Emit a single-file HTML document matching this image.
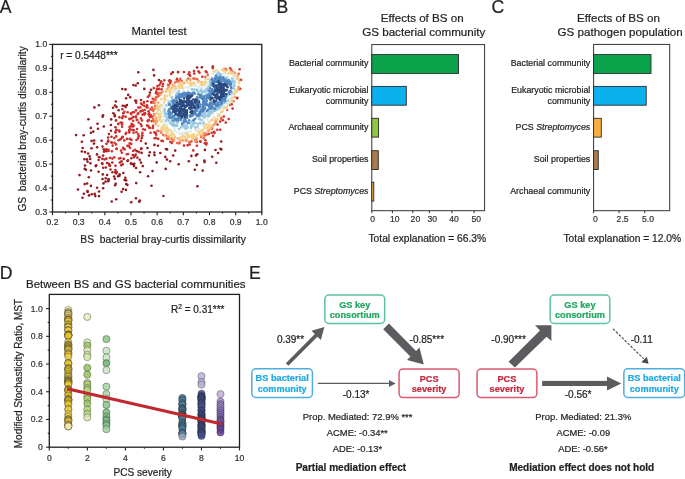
<!DOCTYPE html>
<html><head><meta charset="utf-8"><style>
html,body{margin:0;padding:0;background:#fff;overflow:hidden;}
svg{display:block;will-change:transform;}
text{font-family:"Liberation Sans", sans-serif;stroke-width:0.22px;}
</style></head><body>
<svg width="685" height="479" viewBox="0 0 685 479">
<rect width="685" height="479" fill="#fff"/>
<text x="-0.20" y="12.70" font-size="17.6" text-anchor="start" fill="#231F20" stroke="#231F20">A</text>
<text x="276.40" y="12.70" font-size="17.6" text-anchor="start" fill="#231F20" stroke="#231F20">B</text>
<text x="491.50" y="12.90" font-size="17.6" text-anchor="start" fill="#231F20" stroke="#231F20">C</text>
<text x="-0.30" y="278.60" font-size="17.6" text-anchor="start" fill="#231F20" stroke="#231F20">D</text>
<text x="248.90" y="278.80" font-size="17.6" text-anchor="start" fill="#231F20" stroke="#231F20">E</text>
<g>
<circle cx="103.1" cy="188.2" r="1.3" fill="#8F1B20"/>
<circle cx="197.4" cy="186.2" r="1.3" fill="#8F1B20"/>
<circle cx="154.4" cy="152.5" r="1.3" fill="#8F1B20"/>
<circle cx="94.7" cy="193.9" r="1.3" fill="#8F1B20"/>
<circle cx="76.1" cy="135.1" r="1.3" fill="#8F1B20"/>
<circle cx="133.0" cy="164.1" r="1.3" fill="#8F1B20"/>
<circle cx="108.6" cy="179.3" r="1.3" fill="#8F1B20"/>
<circle cx="114.8" cy="115.0" r="1.3" fill="#8F1B20"/>
<circle cx="83.9" cy="193.7" r="1.3" fill="#8F1B20"/>
<circle cx="154.5" cy="144.9" r="1.3" fill="#8F1B20"/>
<circle cx="153.4" cy="69.9" r="1.3" fill="#8F1B20"/>
<circle cx="97.1" cy="187.8" r="1.3" fill="#8F1B20"/>
<circle cx="85.0" cy="152.1" r="1.3" fill="#8F1B20"/>
<circle cx="170.2" cy="161.3" r="1.3" fill="#8F1B20"/>
<circle cx="119.6" cy="174.3" r="1.3" fill="#8F1B20"/>
<circle cx="141.0" cy="162.6" r="1.3" fill="#8F1B20"/>
<circle cx="204.9" cy="149.9" r="1.3" fill="#8F1B20"/>
<circle cx="87.6" cy="161.8" r="1.3" fill="#8F1B20"/>
<circle cx="136.2" cy="183.1" r="1.3" fill="#8F1B20"/>
<circle cx="87.1" cy="183.5" r="1.3" fill="#8F1B20"/>
<circle cx="113.4" cy="113.3" r="1.3" fill="#8F1B20"/>
<circle cx="99.0" cy="196.1" r="1.3" fill="#8F1B20"/>
<circle cx="97.1" cy="147.2" r="1.3" fill="#8F1B20"/>
<circle cx="94.4" cy="107.4" r="1.3" fill="#8F1B20"/>
<circle cx="154.5" cy="155.1" r="1.3" fill="#8F1B20"/>
<circle cx="133.4" cy="85.1" r="1.3" fill="#8F1B20"/>
<circle cx="89.0" cy="195.4" r="1.3" fill="#8F1B20"/>
<circle cx="149.0" cy="155.6" r="1.3" fill="#8F1B20"/>
<circle cx="115.8" cy="101.5" r="1.3" fill="#8F1B20"/>
<circle cx="126.2" cy="184.0" r="1.3" fill="#8F1B20"/>
<circle cx="98.0" cy="128.7" r="1.3" fill="#8F1B20"/>
<circle cx="141.6" cy="152.9" r="1.3" fill="#8F1B20"/>
<circle cx="94.0" cy="143.6" r="1.3" fill="#8F1B20"/>
<circle cx="201.9" cy="67.3" r="1.3" fill="#8F1B20"/>
<circle cx="212.2" cy="156.7" r="1.3" fill="#8F1B20"/>
<circle cx="115.7" cy="183.7" r="1.3" fill="#8F1B20"/>
<circle cx="204.5" cy="162.1" r="1.3" fill="#8F1B20"/>
<circle cx="105.6" cy="181.6" r="1.3" fill="#8F1B20"/>
<circle cx="115.1" cy="105.5" r="1.3" fill="#8F1B20"/>
<circle cx="134.0" cy="166.1" r="1.3" fill="#8F1B20"/>
<circle cx="139.8" cy="200.5" r="1.3" fill="#8F1B20"/>
<circle cx="148.1" cy="176.3" r="1.3" fill="#8F1B20"/>
<circle cx="96.2" cy="165.3" r="1.3" fill="#8F1B20"/>
<circle cx="154.1" cy="75.4" r="1.3" fill="#8F1B20"/>
<circle cx="216.3" cy="162.7" r="1.3" fill="#8F1B20"/>
<circle cx="118.1" cy="176.2" r="1.3" fill="#8F1B20"/>
<circle cx="165.3" cy="156.9" r="1.3" fill="#8F1B20"/>
<circle cx="111.2" cy="119.4" r="1.3" fill="#8F1B20"/>
<circle cx="81.8" cy="151.5" r="1.3" fill="#8F1B20"/>
<circle cx="125.3" cy="177.7" r="1.3" fill="#8F1B20"/>
<circle cx="102.6" cy="116.7" r="1.3" fill="#8F1B20"/>
<circle cx="126.1" cy="180.4" r="1.3" fill="#8F1B20"/>
<circle cx="135.2" cy="100.7" r="1.3" fill="#8F1B20"/>
<circle cx="84.7" cy="168.8" r="1.3" fill="#8F1B20"/>
<circle cx="114.8" cy="116.3" r="1.3" fill="#8F1B20"/>
<circle cx="221.2" cy="141.5" r="1.3" fill="#8F1B20"/>
<circle cx="87.5" cy="191.1" r="1.3" fill="#8F1B20"/>
<circle cx="128.2" cy="94.9" r="1.3" fill="#8F1B20"/>
<circle cx="166.0" cy="149.0" r="1.3" fill="#8F1B20"/>
<circle cx="116.2" cy="199.2" r="1.3" fill="#8F1B20"/>
<circle cx="142.8" cy="166.1" r="1.3" fill="#8F1B20"/>
<circle cx="130.2" cy="97.2" r="1.3" fill="#8F1B20"/>
<circle cx="221.3" cy="149.4" r="1.3" fill="#8F1B20"/>
<circle cx="124.6" cy="180.0" r="1.3" fill="#8F1B20"/>
<circle cx="172.8" cy="72.2" r="1.3" fill="#8F1B20"/>
<circle cx="138.3" cy="72.2" r="1.3" fill="#8F1B20"/>
<circle cx="91.8" cy="194.3" r="1.3" fill="#8F1B20"/>
<circle cx="118.6" cy="110.3" r="1.3" fill="#8F1B20"/>
<circle cx="81.9" cy="141.7" r="1.3" fill="#8F1B20"/>
<circle cx="97.5" cy="123.8" r="1.3" fill="#8F1B20"/>
<circle cx="90.2" cy="159.0" r="1.3" fill="#8F1B20"/>
<circle cx="101.6" cy="140.8" r="1.3" fill="#8F1B20"/>
<circle cx="111.7" cy="201.5" r="1.3" fill="#8F1B20"/>
<circle cx="82.7" cy="148.0" r="1.3" fill="#8F1B20"/>
<circle cx="94.2" cy="140.5" r="1.3" fill="#8F1B20"/>
<circle cx="114.9" cy="178.8" r="1.3" fill="#8F1B20"/>
<circle cx="137.8" cy="83.3" r="1.3" fill="#8F1B20"/>
<circle cx="158.9" cy="80.0" r="1.3" fill="#8F1B20"/>
<circle cx="102.8" cy="174.4" r="1.3" fill="#8F1B20"/>
<circle cx="93.3" cy="131.6" r="1.3" fill="#8F1B20"/>
<circle cx="113.1" cy="107.7" r="1.3" fill="#8F1B20"/>
<circle cx="85.9" cy="169.8" r="1.3" fill="#8F1B20"/>
<circle cx="87.0" cy="159.4" r="1.3" fill="#8F1B20"/>
<circle cx="156.7" cy="162.4" r="1.3" fill="#8F1B20"/>
<circle cx="126.1" cy="98.3" r="1.3" fill="#8F1B20"/>
<circle cx="131.2" cy="202.3" r="1.3" fill="#8F1B20"/>
<circle cx="123.3" cy="173.0" r="1.3" fill="#8F1B20"/>
<circle cx="103.0" cy="115.4" r="1.3" fill="#8F1B20"/>
<circle cx="83.7" cy="135.3" r="1.3" fill="#8F1B20"/>
<circle cx="98.9" cy="105.2" r="1.3" fill="#8F1B20"/>
<circle cx="115.1" cy="185.2" r="1.3" fill="#8F1B20"/>
<circle cx="136.0" cy="198.3" r="1.3" fill="#8F1B20"/>
<circle cx="82.5" cy="197.8" r="1.3" fill="#8F1B20"/>
<circle cx="91.6" cy="140.9" r="1.3" fill="#8F1B20"/>
<circle cx="119.4" cy="175.8" r="1.3" fill="#8F1B20"/>
<circle cx="151.1" cy="89.8" r="1.3" fill="#8F1B20"/>
<circle cx="88.8" cy="177.3" r="1.3" fill="#8F1B20"/>
<circle cx="173.2" cy="155.5" r="1.3" fill="#8F1B20"/>
<circle cx="139.7" cy="159.7" r="1.3" fill="#8F1B20"/>
<circle cx="152.5" cy="171.1" r="1.3" fill="#8F1B20"/>
<circle cx="95.3" cy="196.1" r="1.3" fill="#8F1B20"/>
<circle cx="126.9" cy="105.0" r="1.3" fill="#8F1B20"/>
<circle cx="98.6" cy="171.7" r="1.3" fill="#8F1B20"/>
<circle cx="220.4" cy="148.7" r="1.3" fill="#8F1B20"/>
<circle cx="178.7" cy="164.3" r="1.3" fill="#8F1B20"/>
<circle cx="175.2" cy="150.6" r="1.3" fill="#8F1B20"/>
<circle cx="134.3" cy="163.7" r="1.3" fill="#8F1B20"/>
<circle cx="149.8" cy="152.3" r="1.3" fill="#8F1B20"/>
<circle cx="144.2" cy="80.0" r="1.3" fill="#8F1B20"/>
<circle cx="123.1" cy="189.1" r="1.3" fill="#8F1B20"/>
<circle cx="90.4" cy="163.2" r="1.3" fill="#8F1B20"/>
<circle cx="85.0" cy="165.5" r="1.3" fill="#8F1B20"/>
<circle cx="89.7" cy="156.4" r="1.3" fill="#8F1B20"/>
<circle cx="102.5" cy="179.0" r="1.3" fill="#8F1B20"/>
<circle cx="125.5" cy="89.4" r="1.3" fill="#8F1B20"/>
<circle cx="87.6" cy="192.0" r="1.3" fill="#8F1B20"/>
<circle cx="99.0" cy="191.5" r="1.3" fill="#8F1B20"/>
<circle cx="158.0" cy="145.7" r="1.3" fill="#8F1B20"/>
<circle cx="140.1" cy="172.3" r="1.3" fill="#8F1B20"/>
<circle cx="196.0" cy="155.4" r="1.3" fill="#8F1B20"/>
<circle cx="97.0" cy="154.4" r="1.3" fill="#8F1B20"/>
<circle cx="107.1" cy="175.0" r="1.3" fill="#8F1B20"/>
<circle cx="196.8" cy="165.1" r="1.3" fill="#8F1B20"/>
<circle cx="167.1" cy="149.4" r="1.3" fill="#8F1B20"/>
<circle cx="139.2" cy="201.8" r="1.3" fill="#8F1B20"/>
<circle cx="108.2" cy="181.3" r="1.3" fill="#8F1B20"/>
<circle cx="91.0" cy="132.7" r="1.3" fill="#8F1B20"/>
<circle cx="78.0" cy="189.5" r="1.3" fill="#8F1B20"/>
<circle cx="147.5" cy="148.0" r="1.3" fill="#8F1B20"/>
<circle cx="160.3" cy="153.0" r="1.3" fill="#8F1B20"/>
<circle cx="149.9" cy="92.6" r="1.3" fill="#8F1B20"/>
<circle cx="122.3" cy="89.0" r="1.3" fill="#8F1B20"/>
<circle cx="84.4" cy="159.3" r="1.3" fill="#8F1B20"/>
<circle cx="136.1" cy="168.0" r="1.3" fill="#8F1B20"/>
<circle cx="151.5" cy="185.7" r="1.3" fill="#8F1B20"/>
<circle cx="121.6" cy="191.8" r="1.3" fill="#8F1B20"/>
<circle cx="131.5" cy="163.9" r="1.3" fill="#8F1B20"/>
<circle cx="145.8" cy="143.6" r="1.3" fill="#8F1B20"/>
<circle cx="122.8" cy="105.8" r="1.3" fill="#8F1B20"/>
<circle cx="135.7" cy="85.5" r="1.3" fill="#8F1B20"/>
<circle cx="215.5" cy="150.0" r="1.3" fill="#8F1B20"/>
<circle cx="188.8" cy="161.2" r="1.3" fill="#8F1B20"/>
<circle cx="79.5" cy="175.1" r="1.3" fill="#8F1B20"/>
<circle cx="88.4" cy="119.3" r="1.3" fill="#8F1B20"/>
<circle cx="90.9" cy="185.9" r="1.3" fill="#8F1B20"/>
<circle cx="202.7" cy="170.6" r="1.3" fill="#8F1B20"/>
<circle cx="191.4" cy="155.9" r="1.3" fill="#8F1B20"/>
<circle cx="194.9" cy="169.8" r="1.3" fill="#8F1B20"/>
<circle cx="144.3" cy="88.9" r="1.3" fill="#8F1B20"/>
<circle cx="103.5" cy="183.4" r="1.3" fill="#8F1B20"/>
<circle cx="197.1" cy="67.5" r="1.3" fill="#8F1B20"/>
<circle cx="84.7" cy="184.1" r="1.3" fill="#8F1B20"/>
<circle cx="88.1" cy="153.5" r="1.3" fill="#8F1B20"/>
<circle cx="212.8" cy="66.5" r="1.3" fill="#8F1B20"/>
<circle cx="218.1" cy="153.0" r="1.3" fill="#8F1B20"/>
<circle cx="108.7" cy="179.7" r="1.3" fill="#8F1B20"/>
<circle cx="166.9" cy="159.6" r="1.3" fill="#8F1B20"/>
<circle cx="103.8" cy="126.5" r="1.3" fill="#8F1B20"/>
<circle cx="110.9" cy="125.0" r="1.3" fill="#8F1B20"/>
<circle cx="197.2" cy="154.2" r="1.3" fill="#8F1B20"/>
<circle cx="165.7" cy="168.9" r="1.3" fill="#8F1B20"/>
<circle cx="95.7" cy="166.1" r="1.3" fill="#8F1B20"/>
<circle cx="105.8" cy="178.2" r="1.3" fill="#8F1B20"/>
<circle cx="204.4" cy="160.6" r="1.3" fill="#8F1B20"/>
<circle cx="116.5" cy="107.0" r="1.3" fill="#8F1B20"/>
<circle cx="91.5" cy="148.3" r="1.3" fill="#8F1B20"/>
<circle cx="163.4" cy="196.0" r="1.3" fill="#8F1B20"/>
<circle cx="90.8" cy="127.9" r="1.3" fill="#8F1B20"/>
<circle cx="114.1" cy="176.5" r="1.3" fill="#8F1B20"/>
<circle cx="91.0" cy="170.5" r="1.3" fill="#8F1B20"/>
<circle cx="125.9" cy="189.9" r="1.3" fill="#8F1B20"/>
<circle cx="127.4" cy="184.9" r="1.3" fill="#8F1B20"/>
<circle cx="98.8" cy="157.1" r="1.3" fill="#B02427"/>
<circle cx="99.6" cy="157.3" r="1.3" fill="#B02427"/>
<circle cx="98.6" cy="160.0" r="1.3" fill="#B02427"/>
<circle cx="127.9" cy="160.3" r="1.3" fill="#B02427"/>
<circle cx="106.5" cy="149.2" r="1.3" fill="#B02427"/>
<circle cx="127.5" cy="161.0" r="1.3" fill="#B02427"/>
<circle cx="106.7" cy="151.2" r="1.3" fill="#B02427"/>
<circle cx="136.2" cy="100.7" r="1.3" fill="#B02427"/>
<circle cx="110.5" cy="169.5" r="1.3" fill="#B02427"/>
<circle cx="102.1" cy="163.3" r="1.3" fill="#B02427"/>
<circle cx="104.4" cy="159.5" r="1.3" fill="#B02427"/>
<circle cx="116.2" cy="173.4" r="1.3" fill="#B02427"/>
<circle cx="135.0" cy="155.8" r="1.3" fill="#B02427"/>
<circle cx="135.7" cy="154.6" r="1.3" fill="#B02427"/>
<circle cx="137.4" cy="151.3" r="1.3" fill="#B02427"/>
<circle cx="102.4" cy="163.9" r="1.3" fill="#B02427"/>
<circle cx="141.4" cy="148.2" r="1.3" fill="#B02427"/>
<circle cx="103.1" cy="155.6" r="1.3" fill="#B02427"/>
<circle cx="111.5" cy="136.8" r="1.3" fill="#B02427"/>
<circle cx="122.7" cy="164.2" r="1.3" fill="#B02427"/>
<circle cx="105.8" cy="167.5" r="1.3" fill="#B02427"/>
<circle cx="102.5" cy="146.6" r="1.3" fill="#B02427"/>
<circle cx="119.9" cy="162.5" r="1.3" fill="#B02427"/>
<circle cx="116.0" cy="120.4" r="1.3" fill="#B02427"/>
<circle cx="122.3" cy="109.2" r="1.3" fill="#B02427"/>
<circle cx="104.2" cy="149.7" r="1.3" fill="#B02427"/>
<circle cx="121.2" cy="165.2" r="1.3" fill="#B02427"/>
<circle cx="112.4" cy="172.3" r="1.3" fill="#B02427"/>
<circle cx="131.3" cy="158.2" r="1.3" fill="#B02427"/>
<circle cx="106.4" cy="158.6" r="1.3" fill="#B02427"/>
<circle cx="125.7" cy="107.1" r="1.3" fill="#B02427"/>
<circle cx="108.9" cy="134.1" r="1.3" fill="#B02427"/>
<circle cx="112.3" cy="162.5" r="1.3" fill="#B02427"/>
<circle cx="116.9" cy="172.0" r="1.3" fill="#B02427"/>
<circle cx="115.4" cy="170.1" r="1.3" fill="#B02427"/>
<circle cx="106.5" cy="143.8" r="1.3" fill="#B02427"/>
<circle cx="136.5" cy="151.0" r="1.3" fill="#B02427"/>
<circle cx="123.7" cy="158.9" r="1.3" fill="#B02427"/>
<circle cx="136.2" cy="102.7" r="1.3" fill="#B02427"/>
<circle cx="123.3" cy="113.2" r="1.3" fill="#B02427"/>
<circle cx="108.1" cy="141.6" r="1.3" fill="#B02427"/>
<circle cx="103.7" cy="149.3" r="1.3" fill="#B02427"/>
<circle cx="108.2" cy="140.5" r="1.3" fill="#B02427"/>
<circle cx="115.2" cy="172.2" r="1.3" fill="#B02427"/>
<circle cx="130.9" cy="163.4" r="1.3" fill="#B02427"/>
<circle cx="108.2" cy="137.5" r="1.3" fill="#B02427"/>
<circle cx="115.5" cy="127.2" r="1.3" fill="#B02427"/>
<circle cx="141.0" cy="100.0" r="1.3" fill="#B02427"/>
<circle cx="115.5" cy="165.8" r="1.3" fill="#B02427"/>
<circle cx="119.4" cy="117.3" r="1.3" fill="#B02427"/>
<circle cx="109.6" cy="165.5" r="1.3" fill="#B02427"/>
<circle cx="141.8" cy="137.9" r="1.3" fill="#B02427"/>
<circle cx="121.5" cy="161.4" r="1.3" fill="#B02427"/>
<circle cx="102.3" cy="158.7" r="1.3" fill="#B02427"/>
<circle cx="107.0" cy="163.0" r="1.3" fill="#B02427"/>
<circle cx="105.3" cy="150.9" r="1.3" fill="#B02427"/>
<circle cx="137.3" cy="157.6" r="1.3" fill="#B02427"/>
<circle cx="141.0" cy="149.0" r="1.3" fill="#B02427"/>
<circle cx="111.0" cy="130.7" r="1.3" fill="#B02427"/>
<circle cx="134.0" cy="157.2" r="1.3" fill="#B02427"/>
<circle cx="132.8" cy="155.0" r="1.3" fill="#B02427"/>
<circle cx="110.0" cy="165.8" r="1.3" fill="#B02427"/>
<circle cx="103.2" cy="167.8" r="1.3" fill="#B02427"/>
<circle cx="139.1" cy="152.1" r="1.3" fill="#B02427"/>
<circle cx="109.1" cy="163.9" r="1.3" fill="#B02427"/>
<circle cx="125.0" cy="106.0" r="1.3" fill="#B02427"/>
<circle cx="104.0" cy="151.6" r="1.3" fill="#B02427"/>
<circle cx="123.6" cy="149.1" r="1.3" fill="#D0302B"/>
<circle cx="144.7" cy="113.3" r="1.3" fill="#D0302B"/>
<circle cx="176.8" cy="79.8" r="1.3" fill="#D0302B"/>
<circle cx="177.1" cy="78.8" r="1.3" fill="#D0302B"/>
<circle cx="129.5" cy="118.7" r="1.3" fill="#D0302B"/>
<circle cx="137.3" cy="120.1" r="1.3" fill="#D0302B"/>
<circle cx="129.8" cy="119.2" r="1.3" fill="#D0302B"/>
<circle cx="131.6" cy="118.3" r="1.3" fill="#D0302B"/>
<circle cx="119.1" cy="130.6" r="1.3" fill="#D0302B"/>
<circle cx="196.9" cy="145.7" r="1.3" fill="#D0302B"/>
<circle cx="142.4" cy="110.6" r="1.3" fill="#D0302B"/>
<circle cx="120.6" cy="122.5" r="1.3" fill="#D0302B"/>
<circle cx="143.2" cy="129.2" r="1.3" fill="#D0302B"/>
<circle cx="135.9" cy="116.3" r="1.3" fill="#D0302B"/>
<circle cx="194.0" cy="71.1" r="1.3" fill="#D0302B"/>
<circle cx="160.6" cy="83.1" r="1.3" fill="#D0302B"/>
<circle cx="111.4" cy="142.2" r="1.3" fill="#D0302B"/>
<circle cx="204.7" cy="143.3" r="1.3" fill="#D0302B"/>
<circle cx="232.6" cy="108.6" r="1.3" fill="#D0302B"/>
<circle cx="144.4" cy="105.9" r="1.3" fill="#D0302B"/>
<circle cx="148.6" cy="114.2" r="1.3" fill="#D0302B"/>
<circle cx="134.9" cy="149.8" r="1.3" fill="#D0302B"/>
<circle cx="205.8" cy="71.3" r="1.3" fill="#D0302B"/>
<circle cx="179.4" cy="143.1" r="1.3" fill="#D0302B"/>
<circle cx="141.9" cy="120.4" r="1.3" fill="#D0302B"/>
<circle cx="116.5" cy="130.0" r="1.3" fill="#D0302B"/>
<circle cx="143.9" cy="102.0" r="1.3" fill="#D0302B"/>
<circle cx="144.4" cy="114.6" r="1.3" fill="#D0302B"/>
<circle cx="159.3" cy="88.9" r="1.3" fill="#D0302B"/>
<circle cx="142.5" cy="114.6" r="1.3" fill="#D0302B"/>
<circle cx="142.1" cy="135.5" r="1.3" fill="#D0302B"/>
<circle cx="129.4" cy="131.1" r="1.3" fill="#D0302B"/>
<circle cx="152.2" cy="116.6" r="1.3" fill="#D0302B"/>
<circle cx="140.5" cy="111.4" r="1.3" fill="#D0302B"/>
<circle cx="150.2" cy="128.0" r="1.3" fill="#D0302B"/>
<circle cx="133.1" cy="116.9" r="1.3" fill="#D0302B"/>
<circle cx="148.6" cy="120.6" r="1.3" fill="#D0302B"/>
<circle cx="240.3" cy="88.7" r="1.3" fill="#D0302B"/>
<circle cx="141.1" cy="140.9" r="1.3" fill="#D0302B"/>
<circle cx="136.4" cy="132.3" r="1.3" fill="#D0302B"/>
<circle cx="140.4" cy="107.4" r="1.3" fill="#D0302B"/>
<circle cx="189.6" cy="144.4" r="1.3" fill="#D0302B"/>
<circle cx="147.5" cy="107.5" r="1.3" fill="#D0302B"/>
<circle cx="127.5" cy="145.9" r="1.3" fill="#D0302B"/>
<circle cx="136.4" cy="140.0" r="1.3" fill="#D0302B"/>
<circle cx="129.8" cy="138.9" r="1.3" fill="#D0302B"/>
<circle cx="150.9" cy="115.9" r="1.3" fill="#D0302B"/>
<circle cx="214.5" cy="133.0" r="1.3" fill="#D0302B"/>
<circle cx="146.7" cy="107.2" r="1.3" fill="#D0302B"/>
<circle cx="133.2" cy="120.7" r="1.3" fill="#D0302B"/>
<circle cx="154.4" cy="132.2" r="1.3" fill="#D0302B"/>
<circle cx="133.1" cy="151.0" r="1.3" fill="#D0302B"/>
<circle cx="135.8" cy="117.2" r="1.3" fill="#D0302B"/>
<circle cx="131.5" cy="126.3" r="1.3" fill="#D0302B"/>
<circle cx="108.5" cy="149.9" r="1.3" fill="#D0302B"/>
<circle cx="184.0" cy="145.6" r="1.3" fill="#D0302B"/>
<circle cx="222.9" cy="120.2" r="1.3" fill="#D0302B"/>
<circle cx="120.6" cy="158.1" r="1.3" fill="#D0302B"/>
<circle cx="159.4" cy="85.1" r="1.3" fill="#D0302B"/>
<circle cx="206.7" cy="72.3" r="1.3" fill="#D0302B"/>
<circle cx="130.0" cy="147.7" r="1.3" fill="#D0302B"/>
<circle cx="137.1" cy="129.0" r="1.3" fill="#D0302B"/>
<circle cx="151.7" cy="121.1" r="1.3" fill="#D0302B"/>
<circle cx="150.8" cy="116.9" r="1.3" fill="#D0302B"/>
<circle cx="152.9" cy="127.9" r="1.3" fill="#D0302B"/>
<circle cx="127.6" cy="112.3" r="1.3" fill="#D0302B"/>
<circle cx="205.4" cy="140.3" r="1.3" fill="#D0302B"/>
<circle cx="169.9" cy="80.2" r="1.3" fill="#D0302B"/>
<circle cx="116.3" cy="129.9" r="1.3" fill="#D0302B"/>
<circle cx="148.2" cy="125.7" r="1.3" fill="#D0302B"/>
<circle cx="112.7" cy="145.6" r="1.3" fill="#D0302B"/>
<circle cx="116.2" cy="136.4" r="1.3" fill="#D0302B"/>
<circle cx="211.7" cy="132.7" r="1.3" fill="#D0302B"/>
<circle cx="140.8" cy="124.3" r="1.3" fill="#D0302B"/>
<circle cx="144.0" cy="102.7" r="1.3" fill="#D0302B"/>
<circle cx="200.1" cy="141.2" r="1.3" fill="#D0302B"/>
<circle cx="156.4" cy="92.1" r="1.3" fill="#D0302B"/>
<circle cx="118.5" cy="140.3" r="1.3" fill="#D0302B"/>
<circle cx="158.2" cy="138.9" r="1.3" fill="#D0302B"/>
<circle cx="128.9" cy="145.7" r="1.3" fill="#D0302B"/>
<circle cx="189.7" cy="74.9" r="1.3" fill="#D0302B"/>
<circle cx="193.2" cy="150.4" r="1.3" fill="#D0302B"/>
<circle cx="241.0" cy="79.9" r="1.3" fill="#D0302B"/>
<circle cx="138.4" cy="107.6" r="1.3" fill="#D0302B"/>
<circle cx="125.6" cy="134.0" r="1.3" fill="#D0302B"/>
<circle cx="122.2" cy="118.1" r="1.3" fill="#D0302B"/>
<circle cx="164.3" cy="80.3" r="1.3" fill="#D0302B"/>
<circle cx="161.1" cy="81.3" r="1.3" fill="#D0302B"/>
<circle cx="177.9" cy="72.1" r="1.3" fill="#D0302B"/>
<circle cx="152.1" cy="102.0" r="1.3" fill="#D0302B"/>
<circle cx="162.6" cy="86.3" r="1.3" fill="#D0302B"/>
<circle cx="133.6" cy="125.8" r="1.3" fill="#D0302B"/>
<circle cx="122.6" cy="136.8" r="1.3" fill="#D0302B"/>
<circle cx="110.0" cy="157.9" r="1.3" fill="#D0302B"/>
<circle cx="141.0" cy="103.6" r="1.3" fill="#D0302B"/>
<circle cx="178.3" cy="72.1" r="1.3" fill="#D0302B"/>
<circle cx="124.7" cy="149.2" r="1.3" fill="#D0302B"/>
<circle cx="133.9" cy="130.2" r="1.3" fill="#D0302B"/>
<circle cx="138.0" cy="138.4" r="1.3" fill="#D0302B"/>
<circle cx="198.5" cy="71.4" r="1.3" fill="#D0302B"/>
<circle cx="213.0" cy="135.9" r="1.3" fill="#D0302B"/>
<circle cx="230.2" cy="68.3" r="1.3" fill="#D0302B"/>
<circle cx="217.3" cy="129.8" r="1.3" fill="#D0302B"/>
<circle cx="147.1" cy="105.2" r="1.3" fill="#D0302B"/>
<circle cx="239.6" cy="69.2" r="1.3" fill="#D0302B"/>
<circle cx="151.3" cy="102.5" r="1.3" fill="#D0302B"/>
<circle cx="122.1" cy="126.7" r="1.3" fill="#D0302B"/>
<circle cx="124.3" cy="111.8" r="1.3" fill="#D0302B"/>
<circle cx="138.3" cy="113.2" r="1.3" fill="#D0302B"/>
<circle cx="167.1" cy="138.5" r="1.3" fill="#D0302B"/>
<circle cx="121.9" cy="152.7" r="1.3" fill="#D0302B"/>
<circle cx="156.9" cy="88.9" r="1.3" fill="#D0302B"/>
<circle cx="124.3" cy="140.4" r="1.3" fill="#D0302B"/>
<circle cx="123.2" cy="147.9" r="1.3" fill="#D0302B"/>
<circle cx="155.4" cy="133.1" r="1.3" fill="#D0302B"/>
<circle cx="220.2" cy="129.8" r="1.3" fill="#D0302B"/>
<circle cx="170.3" cy="141.8" r="1.3" fill="#D0302B"/>
<circle cx="148.7" cy="119.9" r="1.3" fill="#D0302B"/>
<circle cx="147.9" cy="96.9" r="1.3" fill="#D0302B"/>
<circle cx="116.1" cy="144.4" r="1.3" fill="#D0302B"/>
<circle cx="145.1" cy="113.4" r="1.3" fill="#D0302B"/>
<circle cx="144.5" cy="113.2" r="1.3" fill="#D0302B"/>
<circle cx="231.7" cy="104.3" r="1.3" fill="#D0302B"/>
<circle cx="140.9" cy="118.4" r="1.3" fill="#D0302B"/>
<circle cx="170.0" cy="83.1" r="1.3" fill="#D0302B"/>
<circle cx="208.9" cy="134.0" r="1.3" fill="#D0302B"/>
<circle cx="153.0" cy="125.8" r="1.3" fill="#D0302B"/>
<circle cx="119.0" cy="158.5" r="1.3" fill="#D0302B"/>
<circle cx="206.5" cy="143.0" r="1.3" fill="#D0302B"/>
<circle cx="163.0" cy="83.9" r="1.3" fill="#D0302B"/>
<circle cx="133.6" cy="132.7" r="1.3" fill="#D0302B"/>
<circle cx="171.8" cy="142.9" r="1.3" fill="#D0302B"/>
<circle cx="194.2" cy="73.6" r="1.3" fill="#D0302B"/>
<circle cx="123.3" cy="116.2" r="1.3" fill="#D0302B"/>
<circle cx="120.6" cy="139.0" r="1.3" fill="#D0302B"/>
<circle cx="189.3" cy="72.2" r="1.3" fill="#D0302B"/>
<circle cx="142.4" cy="132.9" r="1.3" fill="#D0302B"/>
<circle cx="149.5" cy="116.0" r="1.3" fill="#D0302B"/>
<circle cx="188.6" cy="74.2" r="1.3" fill="#D0302B"/>
<circle cx="196.8" cy="142.0" r="1.3" fill="#D0302B"/>
<circle cx="123.0" cy="116.2" r="1.3" fill="#D0302B"/>
<circle cx="116.8" cy="148.8" r="1.3" fill="#D0302B"/>
<circle cx="168.9" cy="80.8" r="1.3" fill="#D0302B"/>
<circle cx="223.8" cy="116.5" r="1.3" fill="#D0302B"/>
<circle cx="130.9" cy="113.3" r="1.3" fill="#D0302B"/>
<circle cx="115.5" cy="132.6" r="1.3" fill="#D0302B"/>
<circle cx="131.1" cy="114.1" r="1.3" fill="#D0302B"/>
<circle cx="132.3" cy="130.0" r="1.3" fill="#D0302B"/>
<circle cx="111.9" cy="151.3" r="1.3" fill="#D0302B"/>
<circle cx="237.3" cy="97.9" r="1.3" fill="#D0302B"/>
<circle cx="119.5" cy="131.6" r="1.3" fill="#D0302B"/>
<circle cx="130.1" cy="128.8" r="1.3" fill="#D0302B"/>
<circle cx="148.5" cy="111.2" r="1.3" fill="#D0302B"/>
<circle cx="157.4" cy="86.1" r="1.3" fill="#D0302B"/>
<circle cx="145.0" cy="129.8" r="1.3" fill="#D0302B"/>
<circle cx="150.4" cy="114.8" r="1.3" fill="#D0302B"/>
<circle cx="156.2" cy="134.8" r="1.3" fill="#D0302B"/>
<circle cx="122.7" cy="137.3" r="1.3" fill="#D0302B"/>
<circle cx="170.8" cy="81.4" r="1.3" fill="#D0302B"/>
<circle cx="134.0" cy="112.2" r="1.3" fill="#D0302B"/>
<circle cx="161.5" cy="140.7" r="1.3" fill="#D0302B"/>
<circle cx="154.8" cy="138.3" r="1.3" fill="#D0302B"/>
<circle cx="187.6" cy="145.3" r="1.3" fill="#D0302B"/>
<circle cx="138.3" cy="134.4" r="1.3" fill="#D0302B"/>
<circle cx="122.2" cy="122.7" r="1.3" fill="#D0302B"/>
<circle cx="114.6" cy="142.7" r="1.3" fill="#D0302B"/>
<circle cx="112.4" cy="158.6" r="1.3" fill="#D0302B"/>
<circle cx="127.0" cy="138.9" r="1.3" fill="#D0302B"/>
<circle cx="120.3" cy="139.5" r="1.3" fill="#D0302B"/>
<circle cx="138.8" cy="136.2" r="1.3" fill="#D0302B"/>
<circle cx="202.3" cy="76.8" r="1.3" fill="#D0302B"/>
<circle cx="158.8" cy="89.1" r="1.3" fill="#D0302B"/>
<circle cx="141.6" cy="126.1" r="1.3" fill="#D0302B"/>
<circle cx="206.4" cy="134.1" r="1.3" fill="#D0302B"/>
<circle cx="151.3" cy="102.2" r="1.3" fill="#D0302B"/>
<circle cx="149.1" cy="113.4" r="1.3" fill="#D0302B"/>
<circle cx="136.8" cy="119.7" r="1.3" fill="#D0302B"/>
<circle cx="111.9" cy="142.8" r="1.3" fill="#D0302B"/>
<circle cx="108.7" cy="150.8" r="1.3" fill="#D0302B"/>
<circle cx="155.9" cy="137.9" r="1.3" fill="#D0302B"/>
<circle cx="121.0" cy="150.6" r="1.3" fill="#D0302B"/>
<circle cx="153.8" cy="88.1" r="1.3" fill="#D0302B"/>
<circle cx="150.6" cy="109.3" r="1.3" fill="#D0302B"/>
<circle cx="206.2" cy="144.5" r="1.3" fill="#D0302B"/>
<circle cx="161.6" cy="89.4" r="1.3" fill="#D0302B"/>
<circle cx="129.8" cy="143.3" r="1.3" fill="#D0302B"/>
<circle cx="129.1" cy="130.1" r="1.3" fill="#D0302B"/>
<circle cx="144.7" cy="110.0" r="1.3" fill="#D0302B"/>
<circle cx="156.3" cy="91.5" r="1.3" fill="#D0302B"/>
<circle cx="115.4" cy="131.9" r="1.3" fill="#D0302B"/>
<circle cx="150.1" cy="116.9" r="1.3" fill="#D0302B"/>
<circle cx="132.9" cy="126.4" r="1.3" fill="#D0302B"/>
<circle cx="129.2" cy="132.5" r="1.3" fill="#D0302B"/>
<circle cx="116.5" cy="148.9" r="1.3" fill="#D0302B"/>
<circle cx="228.7" cy="119.0" r="1.3" fill="#D0302B"/>
<circle cx="217.5" cy="124.6" r="1.3" fill="#D0302B"/>
<circle cx="212.9" cy="67.5" r="1.3" fill="#D0302B"/>
<circle cx="128.1" cy="154.0" r="1.3" fill="#D0302B"/>
<circle cx="147.4" cy="101.3" r="1.3" fill="#D0302B"/>
<circle cx="152.7" cy="98.8" r="1.3" fill="#D0302B"/>
<circle cx="122.0" cy="137.6" r="1.3" fill="#D0302B"/>
<circle cx="129.6" cy="126.9" r="1.3" fill="#D0302B"/>
<circle cx="131.8" cy="123.9" r="1.3" fill="#D0302B"/>
<circle cx="155.5" cy="133.1" r="1.3" fill="#D0302B"/>
<circle cx="132.7" cy="124.5" r="1.3" fill="#D0302B"/>
<circle cx="114.3" cy="138.1" r="1.3" fill="#D0302B"/>
<circle cx="125.7" cy="116.7" r="1.3" fill="#D0302B"/>
<circle cx="126.8" cy="154.3" r="1.3" fill="#D0302B"/>
<circle cx="142.4" cy="104.7" r="1.3" fill="#D0302B"/>
<circle cx="126.2" cy="132.8" r="1.3" fill="#D0302B"/>
<circle cx="225.5" cy="69.0" r="1.3" fill="#D0302B"/>
<circle cx="131.7" cy="124.9" r="1.3" fill="#D0302B"/>
<circle cx="147.6" cy="121.1" r="1.3" fill="#D0302B"/>
<circle cx="200.6" cy="141.7" r="1.3" fill="#D0302B"/>
<circle cx="131.4" cy="139.9" r="1.3" fill="#D0302B"/>
<circle cx="137.7" cy="113.9" r="1.3" fill="#D0302B"/>
<circle cx="142.7" cy="110.8" r="1.3" fill="#D0302B"/>
<circle cx="199.5" cy="72.7" r="1.3" fill="#D0302B"/>
<circle cx="155.9" cy="93.1" r="1.3" fill="#D0302B"/>
<circle cx="138.7" cy="122.6" r="1.3" fill="#D0302B"/>
<circle cx="171.2" cy="73.9" r="1.3" fill="#D0302B"/>
<circle cx="163.0" cy="141.1" r="1.3" fill="#D0302B"/>
<circle cx="150.6" cy="132.8" r="1.3" fill="#D0302B"/>
<circle cx="118.3" cy="123.7" r="1.3" fill="#D0302B"/>
<circle cx="220.2" cy="121.5" r="1.3" fill="#D0302B"/>
<circle cx="114.3" cy="157.3" r="1.3" fill="#D0302B"/>
<circle cx="183.9" cy="72.0" r="1.3" fill="#D0302B"/>
<circle cx="157.5" cy="94.0" r="1.3" fill="#D0302B"/>
<circle cx="131.3" cy="143.9" r="1.3" fill="#D0302B"/>
<circle cx="225.8" cy="122.6" r="1.3" fill="#D0302B"/>
<circle cx="118.2" cy="124.1" r="1.3" fill="#D0302B"/>
<circle cx="149.4" cy="95.4" r="1.3" fill="#D0302B"/>
<circle cx="212.8" cy="68.1" r="1.3" fill="#D0302B"/>
<circle cx="149.0" cy="127.4" r="1.3" fill="#D0302B"/>
<circle cx="147.0" cy="125.5" r="1.3" fill="#D0302B"/>
<circle cx="135.9" cy="110.4" r="1.3" fill="#D0302B"/>
<circle cx="190.2" cy="75.7" r="1.3" fill="#D0302B"/>
<circle cx="132.8" cy="112.2" r="1.3" fill="#D0302B"/>
<circle cx="128.9" cy="146.1" r="1.3" fill="#D0302B"/>
<circle cx="214.0" cy="131.7" r="1.3" fill="#D0302B"/>
<circle cx="142.3" cy="135.5" r="1.3" fill="#D0302B"/>
<circle cx="122.0" cy="124.4" r="1.3" fill="#D0302B"/>
<circle cx="237.0" cy="98.3" r="1.3" fill="#D0302B"/>
<circle cx="179.6" cy="80.3" r="1.3" fill="#EC6545"/>
<circle cx="180.4" cy="78.8" r="1.3" fill="#EC6545"/>
<circle cx="195.6" cy="141.4" r="1.3" fill="#EC6545"/>
<circle cx="231.7" cy="70.8" r="1.3" fill="#EC6545"/>
<circle cx="193.3" cy="78.5" r="1.3" fill="#EC6545"/>
<circle cx="195.7" cy="139.3" r="1.3" fill="#EC6545"/>
<circle cx="233.5" cy="101.3" r="1.3" fill="#EC6545"/>
<circle cx="196.3" cy="141.2" r="1.3" fill="#EC6545"/>
<circle cx="221.3" cy="118.9" r="1.3" fill="#EC6545"/>
<circle cx="231.1" cy="71.3" r="1.3" fill="#EC6545"/>
<circle cx="155.9" cy="97.3" r="1.3" fill="#EC6545"/>
<circle cx="197.2" cy="79.2" r="1.3" fill="#EC6545"/>
<circle cx="161.4" cy="132.8" r="1.3" fill="#EC6545"/>
<circle cx="179.3" cy="80.7" r="1.3" fill="#EC6545"/>
<circle cx="204.5" cy="135.5" r="1.3" fill="#EC6545"/>
<circle cx="159.1" cy="95.4" r="1.3" fill="#EC6545"/>
<circle cx="215.8" cy="121.8" r="1.3" fill="#EC6545"/>
<circle cx="231.0" cy="69.7" r="1.3" fill="#EC6545"/>
<circle cx="207.7" cy="74.9" r="1.3" fill="#EC6545"/>
<circle cx="221.4" cy="117.7" r="1.3" fill="#EC6545"/>
<circle cx="153.2" cy="118.7" r="1.3" fill="#EC6545"/>
<circle cx="154.2" cy="100.4" r="1.3" fill="#EC6545"/>
<circle cx="169.0" cy="85.4" r="1.3" fill="#EC6545"/>
<circle cx="155.0" cy="105.8" r="1.3" fill="#EC6545"/>
<circle cx="153.5" cy="102.7" r="1.3" fill="#EC6545"/>
<circle cx="226.4" cy="69.9" r="1.3" fill="#EC6545"/>
<circle cx="201.2" cy="137.1" r="1.3" fill="#EC6545"/>
<circle cx="158.8" cy="93.2" r="1.3" fill="#EC6545"/>
<circle cx="154.1" cy="121.4" r="1.3" fill="#EC6545"/>
<circle cx="196.3" cy="141.4" r="1.3" fill="#EC6545"/>
<circle cx="238.7" cy="73.9" r="1.3" fill="#EC6545"/>
<circle cx="152.0" cy="107.3" r="1.3" fill="#EC6545"/>
<circle cx="203.7" cy="138.4" r="1.3" fill="#EC6545"/>
<circle cx="157.3" cy="96.9" r="1.3" fill="#EC6545"/>
<circle cx="175.0" cy="82.5" r="1.3" fill="#EC6545"/>
<circle cx="227.2" cy="110.0" r="1.3" fill="#EC6545"/>
<circle cx="179.5" cy="142.6" r="1.3" fill="#EC6545"/>
<circle cx="168.0" cy="84.9" r="1.3" fill="#EC6545"/>
<circle cx="162.4" cy="91.7" r="1.3" fill="#EC6545"/>
<circle cx="195.6" cy="140.0" r="1.3" fill="#EC6545"/>
<circle cx="154.6" cy="102.8" r="1.3" fill="#EC6545"/>
<circle cx="167.8" cy="138.6" r="1.3" fill="#EC6545"/>
<circle cx="207.4" cy="134.4" r="1.3" fill="#EC6545"/>
<circle cx="212.1" cy="128.9" r="1.3" fill="#EC6545"/>
<circle cx="168.1" cy="138.8" r="1.3" fill="#EC6545"/>
<circle cx="178.6" cy="143.3" r="1.3" fill="#EC6545"/>
<circle cx="177.5" cy="81.7" r="1.3" fill="#EC6545"/>
<circle cx="188.1" cy="78.6" r="1.3" fill="#EC6545"/>
<circle cx="191.2" cy="141.5" r="1.3" fill="#EC6545"/>
<circle cx="155.0" cy="99.4" r="1.3" fill="#EC6545"/>
<circle cx="168.0" cy="138.6" r="1.3" fill="#EC6545"/>
<circle cx="177.2" cy="81.3" r="1.3" fill="#EC6545"/>
<circle cx="230.0" cy="105.0" r="1.3" fill="#EC6545"/>
<circle cx="205.1" cy="135.4" r="1.3" fill="#EC6545"/>
<circle cx="172.1" cy="139.1" r="1.3" fill="#EC6545"/>
<circle cx="181.8" cy="80.9" r="1.3" fill="#EC6545"/>
<circle cx="154.1" cy="101.4" r="1.3" fill="#EC6545"/>
<circle cx="189.3" cy="142.4" r="1.3" fill="#EC6545"/>
<circle cx="196.6" cy="79.1" r="1.3" fill="#EC6545"/>
<circle cx="194.6" cy="78.6" r="1.3" fill="#EC6545"/>
<circle cx="205.3" cy="77.1" r="1.3" fill="#EC6545"/>
<circle cx="173.2" cy="141.1" r="1.3" fill="#EC6545"/>
<circle cx="163.2" cy="135.0" r="1.3" fill="#EC6545"/>
<circle cx="157.5" cy="130.8" r="1.3" fill="#EC6545"/>
<circle cx="166.0" cy="135.5" r="1.3" fill="#EC6545"/>
<circle cx="153.4" cy="110.4" r="1.3" fill="#EC6545"/>
<circle cx="177.2" cy="143.0" r="1.3" fill="#EC6545"/>
<circle cx="153.3" cy="120.6" r="1.3" fill="#EC6545"/>
<circle cx="158.7" cy="131.0" r="1.3" fill="#EC6545"/>
<circle cx="154.1" cy="114.1" r="1.3" fill="#EC6545"/>
<circle cx="158.0" cy="95.9" r="1.3" fill="#EC6545"/>
<circle cx="151.8" cy="109.8" r="1.3" fill="#EC6545"/>
<circle cx="153.1" cy="110.6" r="1.3" fill="#EC6545"/>
<circle cx="155.7" cy="99.6" r="1.3" fill="#EC6545"/>
<circle cx="161.0" cy="93.0" r="1.3" fill="#EC6545"/>
<circle cx="191.2" cy="141.4" r="1.3" fill="#EC6545"/>
<circle cx="159.3" cy="93.4" r="1.3" fill="#EC6545"/>
<circle cx="153.3" cy="109.1" r="1.3" fill="#EC6545"/>
<circle cx="239.2" cy="89.3" r="1.3" fill="#EC6545"/>
<circle cx="214.3" cy="124.8" r="1.3" fill="#F6A26A"/>
<circle cx="197.0" cy="138.6" r="1.3" fill="#F6A26A"/>
<circle cx="226.3" cy="70.2" r="1.3" fill="#F6A26A"/>
<circle cx="155.4" cy="121.3" r="1.3" fill="#F6A26A"/>
<circle cx="167.4" cy="89.0" r="1.3" fill="#F6A26A"/>
<circle cx="182.9" cy="140.4" r="1.3" fill="#F6A26A"/>
<circle cx="217.2" cy="119.5" r="1.3" fill="#F6A26A"/>
<circle cx="156.4" cy="108.8" r="1.3" fill="#F6A26A"/>
<circle cx="167.1" cy="89.8" r="1.3" fill="#F6A26A"/>
<circle cx="190.2" cy="80.1" r="1.3" fill="#F6A26A"/>
<circle cx="187.2" cy="140.7" r="1.3" fill="#F6A26A"/>
<circle cx="214.1" cy="124.7" r="1.3" fill="#F6A26A"/>
<circle cx="155.7" cy="122.0" r="1.3" fill="#F6A26A"/>
<circle cx="201.6" cy="135.4" r="1.3" fill="#F6A26A"/>
<circle cx="171.5" cy="138.0" r="1.3" fill="#F6A26A"/>
<circle cx="205.5" cy="132.7" r="1.3" fill="#F6A26A"/>
<circle cx="167.4" cy="136.2" r="1.3" fill="#F6A26A"/>
<circle cx="234.8" cy="96.9" r="1.3" fill="#F6A26A"/>
<circle cx="174.1" cy="139.8" r="1.3" fill="#F6A26A"/>
<circle cx="166.2" cy="91.4" r="1.3" fill="#F6A26A"/>
<circle cx="179.9" cy="139.1" r="1.3" fill="#F6A26A"/>
<circle cx="155.7" cy="124.1" r="1.3" fill="#F6A26A"/>
<circle cx="211.1" cy="128.2" r="1.3" fill="#F6A26A"/>
<circle cx="156.6" cy="121.9" r="1.3" fill="#F6A26A"/>
<circle cx="216.2" cy="123.2" r="1.3" fill="#F6A26A"/>
<circle cx="157.1" cy="120.9" r="1.3" fill="#F6A26A"/>
<circle cx="189.9" cy="79.3" r="1.3" fill="#F6A26A"/>
<circle cx="179.6" cy="139.5" r="1.3" fill="#F6A26A"/>
<circle cx="160.7" cy="131.2" r="1.3" fill="#F6A26A"/>
<circle cx="237.0" cy="90.7" r="1.3" fill="#F6A26A"/>
<circle cx="163.1" cy="129.7" r="1.3" fill="#F6A26A"/>
<circle cx="201.2" cy="135.3" r="1.3" fill="#F6A26A"/>
<circle cx="237.5" cy="78.7" r="1.3" fill="#F6A26A"/>
<circle cx="156.4" cy="113.7" r="1.3" fill="#F6A26A"/>
<circle cx="154.1" cy="116.1" r="1.3" fill="#F6A26A"/>
<circle cx="238.8" cy="87.2" r="1.3" fill="#F6A26A"/>
<circle cx="186.7" cy="80.4" r="1.3" fill="#F6A26A"/>
<circle cx="155.7" cy="120.4" r="1.3" fill="#F6A26A"/>
<circle cx="170.1" cy="138.7" r="1.3" fill="#F6A26A"/>
<circle cx="157.7" cy="106.0" r="1.3" fill="#F6A26A"/>
<circle cx="185.6" cy="140.4" r="1.3" fill="#F6A26A"/>
<circle cx="208.5" cy="131.1" r="1.3" fill="#F6A26A"/>
<circle cx="158.1" cy="102.6" r="1.3" fill="#F6A26A"/>
<circle cx="154.9" cy="107.9" r="1.3" fill="#F6A26A"/>
<circle cx="202.8" cy="135.4" r="1.3" fill="#F6A26A"/>
<circle cx="213.8" cy="124.7" r="1.3" fill="#F6A26A"/>
<circle cx="155.0" cy="102.0" r="1.3" fill="#F6A26A"/>
<circle cx="202.3" cy="135.1" r="1.3" fill="#F6A26A"/>
<circle cx="200.8" cy="134.5" r="1.3" fill="#F6A26A"/>
<circle cx="156.4" cy="117.9" r="1.3" fill="#F6A26A"/>
<circle cx="201.5" cy="82.4" r="1.3" fill="#F6A26A"/>
<circle cx="185.8" cy="140.6" r="1.3" fill="#F6A26A"/>
<circle cx="239.4" cy="80.5" r="1.3" fill="#F6A26A"/>
<circle cx="237.6" cy="76.1" r="1.3" fill="#F6A26A"/>
<circle cx="224.0" cy="68.9" r="1.3" fill="#F6A26A"/>
<circle cx="237.9" cy="89.0" r="1.3" fill="#F6A26A"/>
<circle cx="234.2" cy="72.3" r="1.3" fill="#F6A26A"/>
<circle cx="198.9" cy="81.3" r="1.3" fill="#F6A26A"/>
<circle cx="238.4" cy="86.8" r="1.3" fill="#F6A26A"/>
<circle cx="195.3" cy="140.8" r="1.3" fill="#F6A26A"/>
<circle cx="160.5" cy="94.5" r="1.3" fill="#F6A26A"/>
<circle cx="209.6" cy="129.1" r="1.3" fill="#F6A26A"/>
<circle cx="180.0" cy="83.2" r="1.3" fill="#F6A26A"/>
<circle cx="186.5" cy="139.2" r="1.3" fill="#F6A26A"/>
<circle cx="174.6" cy="137.2" r="1.3" fill="#F6A26A"/>
<circle cx="212.4" cy="126.8" r="1.3" fill="#F6A26A"/>
<circle cx="203.7" cy="133.1" r="1.3" fill="#F6A26A"/>
<circle cx="192.5" cy="138.4" r="1.3" fill="#F6A26A"/>
<circle cx="181.9" cy="140.5" r="1.3" fill="#F6A26A"/>
<circle cx="235.0" cy="73.4" r="1.3" fill="#F6A26A"/>
<circle cx="215.3" cy="122.2" r="1.3" fill="#F6A26A"/>
<circle cx="172.0" cy="87.5" r="1.3" fill="#F6A26A"/>
<circle cx="168.7" cy="136.4" r="1.3" fill="#F6A26A"/>
<circle cx="177.8" cy="138.2" r="1.3" fill="#F6A26A"/>
<circle cx="174.4" cy="86.0" r="1.3" fill="#F6A26A"/>
<circle cx="184.1" cy="83.1" r="1.3" fill="#F6A26A"/>
<circle cx="232.3" cy="101.0" r="1.3" fill="#F6A26A"/>
<circle cx="208.2" cy="130.8" r="1.3" fill="#F6A26A"/>
<circle cx="172.5" cy="84.5" r="1.3" fill="#F6A26A"/>
<circle cx="168.5" cy="87.2" r="1.3" fill="#F6A26A"/>
<circle cx="164.8" cy="135.6" r="1.3" fill="#F6A26A"/>
<circle cx="216.0" cy="120.6" r="1.3" fill="#F6A26A"/>
<circle cx="162.3" cy="91.4" r="1.3" fill="#F6A26A"/>
<circle cx="170.7" cy="89.4" r="1.3" fill="#F6D38B"/>
<circle cx="190.8" cy="135.3" r="1.3" fill="#F6D38B"/>
<circle cx="161.3" cy="121.8" r="1.3" fill="#F6D38B"/>
<circle cx="158.3" cy="125.9" r="1.3" fill="#F6D38B"/>
<circle cx="184.4" cy="135.0" r="1.3" fill="#F6D38B"/>
<circle cx="188.1" cy="136.4" r="1.3" fill="#F6D38B"/>
<circle cx="158.2" cy="106.7" r="1.3" fill="#F6D38B"/>
<circle cx="178.1" cy="89.2" r="1.3" fill="#F6D38B"/>
<circle cx="223.9" cy="70.9" r="1.3" fill="#F6D38B"/>
<circle cx="159.5" cy="114.8" r="1.3" fill="#F6D38B"/>
<circle cx="200.0" cy="86.2" r="1.3" fill="#F6D38B"/>
<circle cx="203.4" cy="83.1" r="1.3" fill="#F6D38B"/>
<circle cx="214.6" cy="117.5" r="1.3" fill="#F6D38B"/>
<circle cx="195.9" cy="129.7" r="1.3" fill="#F6D38B"/>
<circle cx="202.0" cy="129.8" r="1.3" fill="#F6D38B"/>
<circle cx="163.3" cy="128.8" r="1.3" fill="#F6D38B"/>
<circle cx="223.9" cy="107.4" r="1.3" fill="#F6D38B"/>
<circle cx="167.7" cy="132.8" r="1.3" fill="#F6D38B"/>
<circle cx="158.7" cy="116.7" r="1.3" fill="#F6D38B"/>
<circle cx="236.4" cy="91.9" r="1.3" fill="#F6D38B"/>
<circle cx="225.1" cy="107.2" r="1.3" fill="#F6D38B"/>
<circle cx="182.6" cy="88.6" r="1.3" fill="#F6D38B"/>
<circle cx="165.1" cy="97.0" r="1.3" fill="#F6D38B"/>
<circle cx="181.0" cy="87.1" r="1.3" fill="#F6D38B"/>
<circle cx="182.5" cy="84.8" r="1.3" fill="#F6D38B"/>
<circle cx="180.3" cy="83.6" r="1.3" fill="#F6D38B"/>
<circle cx="217.5" cy="71.0" r="1.3" fill="#F6D38B"/>
<circle cx="166.9" cy="132.6" r="1.3" fill="#F6D38B"/>
<circle cx="171.3" cy="134.6" r="1.3" fill="#F6D38B"/>
<circle cx="182.9" cy="136.7" r="1.3" fill="#F6D38B"/>
<circle cx="208.4" cy="124.8" r="1.3" fill="#F6D38B"/>
<circle cx="186.1" cy="133.2" r="1.3" fill="#F6D38B"/>
<circle cx="205.0" cy="81.7" r="1.3" fill="#F6D38B"/>
<circle cx="202.7" cy="130.2" r="1.3" fill="#F6D38B"/>
<circle cx="160.9" cy="116.7" r="1.3" fill="#F6D38B"/>
<circle cx="188.8" cy="137.1" r="1.3" fill="#F6D38B"/>
<circle cx="159.8" cy="118.0" r="1.3" fill="#F6D38B"/>
<circle cx="175.6" cy="87.4" r="1.3" fill="#F6D38B"/>
<circle cx="165.3" cy="99.3" r="1.3" fill="#F6D38B"/>
<circle cx="159.2" cy="112.5" r="1.3" fill="#F6D38B"/>
<circle cx="163.2" cy="128.0" r="1.3" fill="#F6D38B"/>
<circle cx="178.3" cy="85.6" r="1.3" fill="#F6D38B"/>
<circle cx="160.3" cy="114.4" r="1.3" fill="#F6D38B"/>
<circle cx="159.1" cy="109.8" r="1.3" fill="#F6D38B"/>
<circle cx="160.1" cy="111.0" r="1.3" fill="#F6D38B"/>
<circle cx="189.5" cy="83.8" r="1.3" fill="#F6D38B"/>
<circle cx="161.1" cy="99.3" r="1.3" fill="#F6D38B"/>
<circle cx="233.9" cy="76.2" r="1.3" fill="#F6D38B"/>
<circle cx="193.6" cy="136.5" r="1.3" fill="#F6D38B"/>
<circle cx="188.4" cy="137.3" r="1.3" fill="#F6D38B"/>
<circle cx="170.2" cy="89.5" r="1.3" fill="#F6D38B"/>
<circle cx="192.1" cy="137.1" r="1.3" fill="#F6D38B"/>
<circle cx="165.6" cy="131.4" r="1.3" fill="#F6D38B"/>
<circle cx="161.6" cy="129.1" r="1.3" fill="#F6D38B"/>
<circle cx="185.0" cy="137.0" r="1.3" fill="#F6D38B"/>
<circle cx="163.6" cy="126.0" r="1.3" fill="#F6D38B"/>
<circle cx="180.9" cy="86.1" r="1.3" fill="#F6D38B"/>
<circle cx="167.2" cy="95.7" r="1.3" fill="#F6D38B"/>
<circle cx="167.1" cy="127.5" r="1.3" fill="#F6D38B"/>
<circle cx="161.4" cy="104.8" r="1.3" fill="#F6D38B"/>
<circle cx="165.9" cy="90.7" r="1.3" fill="#F6D38B"/>
<circle cx="166.9" cy="125.9" r="1.3" fill="#F6D38B"/>
<circle cx="238.8" cy="78.5" r="1.3" fill="#F6D38B"/>
<circle cx="162.5" cy="107.1" r="1.3" fill="#F6D38B"/>
<circle cx="172.3" cy="88.7" r="1.3" fill="#F6D38B"/>
<circle cx="204.8" cy="83.3" r="1.3" fill="#F6D38B"/>
<circle cx="224.1" cy="108.1" r="1.3" fill="#F6D38B"/>
<circle cx="222.5" cy="69.9" r="1.3" fill="#F6D38B"/>
<circle cx="159.2" cy="107.8" r="1.3" fill="#F6D38B"/>
<circle cx="159.8" cy="118.9" r="1.3" fill="#F6D38B"/>
<circle cx="222.5" cy="111.4" r="1.3" fill="#F6D38B"/>
<circle cx="192.7" cy="83.3" r="1.3" fill="#F6D38B"/>
<circle cx="182.4" cy="84.1" r="1.3" fill="#F6D38B"/>
<circle cx="167.8" cy="133.0" r="1.3" fill="#F6D38B"/>
<circle cx="203.1" cy="82.9" r="1.3" fill="#F6D38B"/>
<circle cx="174.1" cy="136.5" r="1.3" fill="#F6D38B"/>
<circle cx="221.4" cy="111.7" r="1.3" fill="#F6D38B"/>
<circle cx="179.3" cy="87.7" r="1.3" fill="#F6D38B"/>
<circle cx="223.0" cy="108.3" r="1.3" fill="#F6D38B"/>
<circle cx="214.1" cy="71.3" r="1.3" fill="#F6D38B"/>
<circle cx="193.2" cy="83.3" r="1.3" fill="#F6D38B"/>
<circle cx="231.0" cy="72.2" r="1.3" fill="#F6D38B"/>
<circle cx="192.8" cy="136.3" r="1.3" fill="#F6D38B"/>
<circle cx="178.3" cy="86.2" r="1.3" fill="#F6D38B"/>
<circle cx="187.7" cy="133.6" r="1.3" fill="#F6D38B"/>
<circle cx="157.2" cy="108.7" r="1.3" fill="#F6D38B"/>
<circle cx="210.7" cy="125.1" r="1.3" fill="#F6D38B"/>
<circle cx="159.0" cy="106.1" r="1.3" fill="#F6D38B"/>
<circle cx="206.4" cy="124.6" r="1.3" fill="#F6D38B"/>
<circle cx="216.6" cy="118.9" r="1.3" fill="#F6D38B"/>
<circle cx="221.9" cy="70.0" r="1.3" fill="#F6D38B"/>
<circle cx="205.7" cy="79.5" r="1.3" fill="#F6D38B"/>
<circle cx="193.4" cy="134.3" r="1.3" fill="#F6D38B"/>
<circle cx="202.5" cy="130.2" r="1.3" fill="#F6D38B"/>
<circle cx="207.0" cy="128.5" r="1.3" fill="#F6D38B"/>
<circle cx="235.4" cy="76.9" r="1.3" fill="#F6D38B"/>
<circle cx="204.1" cy="85.0" r="1.3" fill="#F6D38B"/>
<circle cx="201.0" cy="131.3" r="1.3" fill="#F6D38B"/>
<circle cx="220.9" cy="112.0" r="1.3" fill="#F6D38B"/>
<circle cx="213.8" cy="71.9" r="1.3" fill="#F6D38B"/>
<circle cx="229.5" cy="102.2" r="1.3" fill="#F6D38B"/>
<circle cx="182.2" cy="136.8" r="1.3" fill="#F6D38B"/>
<circle cx="235.1" cy="93.0" r="1.3" fill="#F6D38B"/>
<circle cx="160.7" cy="107.1" r="1.3" fill="#F6D38B"/>
<circle cx="180.9" cy="85.6" r="1.3" fill="#F6D38B"/>
<circle cx="162.9" cy="125.5" r="1.3" fill="#F6D38B"/>
<circle cx="225.1" cy="73.2" r="1.3" fill="#F6D38B"/>
<circle cx="188.1" cy="135.2" r="1.3" fill="#F6D38B"/>
<circle cx="167.4" cy="129.1" r="1.3" fill="#F6D38B"/>
<circle cx="229.6" cy="102.3" r="1.3" fill="#F6D38B"/>
<circle cx="170.1" cy="92.9" r="1.3" fill="#F6D38B"/>
<circle cx="185.8" cy="134.8" r="1.3" fill="#F6D38B"/>
<circle cx="230.2" cy="72.6" r="1.3" fill="#F6D38B"/>
<circle cx="239.0" cy="83.2" r="1.3" fill="#F6D38B"/>
<circle cx="172.2" cy="132.5" r="1.3" fill="#F6D38B"/>
<circle cx="163.9" cy="102.5" r="1.3" fill="#F6D38B"/>
<circle cx="189.9" cy="82.2" r="1.3" fill="#F6D38B"/>
<circle cx="235.1" cy="77.2" r="1.3" fill="#F6D38B"/>
<circle cx="208.3" cy="128.3" r="1.3" fill="#F6D38B"/>
<circle cx="199.0" cy="133.7" r="1.3" fill="#F6D38B"/>
<circle cx="159.0" cy="120.2" r="1.3" fill="#F6D38B"/>
<circle cx="173.8" cy="135.9" r="1.3" fill="#F6D38B"/>
<circle cx="190.5" cy="84.9" r="1.3" fill="#F6D38B"/>
<circle cx="174.9" cy="89.9" r="1.3" fill="#F6D38B"/>
<circle cx="232.8" cy="97.4" r="1.3" fill="#F6D38B"/>
<circle cx="195.0" cy="137.1" r="1.3" fill="#F6D38B"/>
<circle cx="231.3" cy="99.1" r="1.3" fill="#F6D38B"/>
<circle cx="198.8" cy="132.3" r="1.3" fill="#F6D38B"/>
<circle cx="199.9" cy="82.0" r="1.3" fill="#F6D38B"/>
<circle cx="182.3" cy="86.7" r="1.3" fill="#F6D38B"/>
<circle cx="201.1" cy="133.9" r="1.3" fill="#F6D38B"/>
<circle cx="170.0" cy="95.2" r="1.3" fill="#F6D38B"/>
<circle cx="204.2" cy="125.9" r="1.3" fill="#F6D38B"/>
<circle cx="167.9" cy="90.4" r="1.3" fill="#F6D38B"/>
<circle cx="205.4" cy="84.0" r="1.3" fill="#F6D38B"/>
<circle cx="201.1" cy="85.0" r="1.3" fill="#F6D38B"/>
<circle cx="180.6" cy="82.8" r="1.3" fill="#F6D38B"/>
<circle cx="216.5" cy="70.2" r="1.3" fill="#F6D38B"/>
<circle cx="162.3" cy="107.7" r="1.3" fill="#F6D38B"/>
<circle cx="170.9" cy="130.7" r="1.3" fill="#F6D38B"/>
<circle cx="234.0" cy="94.3" r="1.3" fill="#F6D38B"/>
<circle cx="171.0" cy="134.3" r="1.3" fill="#F6D38B"/>
<circle cx="185.8" cy="137.7" r="1.3" fill="#F6D38B"/>
<circle cx="156.6" cy="104.8" r="1.3" fill="#F6D38B"/>
<circle cx="157.8" cy="112.6" r="1.3" fill="#F6D38B"/>
<circle cx="173.6" cy="134.3" r="1.3" fill="#F6D38B"/>
<circle cx="190.7" cy="136.4" r="1.3" fill="#F6D38B"/>
<circle cx="181.3" cy="137.1" r="1.3" fill="#F6D38B"/>
<circle cx="236.7" cy="78.2" r="1.3" fill="#F6D38B"/>
<circle cx="169.3" cy="129.9" r="1.3" fill="#F6D38B"/>
<circle cx="181.3" cy="84.7" r="1.3" fill="#F6D38B"/>
<circle cx="198.8" cy="129.4" r="1.3" fill="#F6D38B"/>
<circle cx="161.6" cy="120.9" r="1.3" fill="#F6D38B"/>
<circle cx="193.8" cy="134.6" r="1.3" fill="#F6D38B"/>
<circle cx="218.0" cy="114.8" r="1.3" fill="#F6D38B"/>
<circle cx="166.9" cy="128.6" r="1.3" fill="#F6D38B"/>
<circle cx="206.2" cy="82.2" r="1.3" fill="#F6D38B"/>
<circle cx="180.2" cy="134.0" r="1.3" fill="#F6D38B"/>
<circle cx="166.5" cy="130.4" r="1.3" fill="#F6D38B"/>
<circle cx="228.8" cy="73.4" r="1.3" fill="#F6D38B"/>
<circle cx="159.4" cy="117.2" r="1.3" fill="#F6D38B"/>
<circle cx="218.1" cy="115.7" r="1.3" fill="#F6D38B"/>
<circle cx="183.8" cy="134.6" r="1.3" fill="#F6D38B"/>
<circle cx="227.0" cy="106.1" r="1.3" fill="#F6D38B"/>
<circle cx="218.9" cy="115.7" r="1.3" fill="#F6D38B"/>
<circle cx="179.7" cy="87.9" r="1.3" fill="#F6D38B"/>
<circle cx="207.2" cy="127.6" r="1.3" fill="#F6D38B"/>
<circle cx="212.6" cy="118.5" r="1.3" fill="#F6D38B"/>
<circle cx="183.1" cy="136.6" r="1.3" fill="#F6D38B"/>
<circle cx="175.0" cy="88.4" r="1.3" fill="#F6D38B"/>
<circle cx="158.6" cy="109.7" r="1.3" fill="#F6D38B"/>
<circle cx="219.6" cy="114.6" r="1.3" fill="#F6D38B"/>
<circle cx="175.7" cy="88.6" r="1.3" fill="#F6D38B"/>
<circle cx="180.7" cy="82.8" r="1.3" fill="#F6D38B"/>
<circle cx="163.6" cy="98.3" r="1.3" fill="#F6D38B"/>
<circle cx="191.1" cy="82.5" r="1.3" fill="#F6D38B"/>
<circle cx="164.9" cy="95.7" r="1.3" fill="#F6D38B"/>
<circle cx="169.7" cy="92.4" r="1.3" fill="#F6D38B"/>
<circle cx="160.3" cy="117.3" r="1.3" fill="#F6D38B"/>
<circle cx="215.9" cy="71.0" r="1.3" fill="#F6D38B"/>
<circle cx="157.6" cy="110.0" r="1.3" fill="#F6D38B"/>
<circle cx="196.1" cy="130.6" r="1.3" fill="#F6D38B"/>
<circle cx="161.3" cy="128.1" r="1.3" fill="#F6D38B"/>
<circle cx="193.8" cy="82.5" r="1.3" fill="#F6D38B"/>
<circle cx="209.2" cy="122.0" r="1.3" fill="#F6D38B"/>
<circle cx="159.8" cy="114.1" r="1.3" fill="#F6D38B"/>
<circle cx="170.8" cy="131.0" r="1.3" fill="#F6D38B"/>
<circle cx="186.8" cy="82.4" r="1.3" fill="#F6D38B"/>
<circle cx="191.9" cy="83.8" r="1.3" fill="#F6D38B"/>
<circle cx="208.7" cy="127.1" r="1.3" fill="#F6D38B"/>
<circle cx="160.4" cy="113.9" r="1.3" fill="#F6D38B"/>
<circle cx="196.1" cy="136.6" r="1.3" fill="#F6D38B"/>
<circle cx="214.4" cy="120.0" r="1.3" fill="#F6D38B"/>
<circle cx="164.2" cy="121.9" r="1.3" fill="#F6D38B"/>
<circle cx="163.0" cy="127.6" r="1.3" fill="#F6D38B"/>
<circle cx="162.7" cy="126.3" r="1.3" fill="#F6D38B"/>
<circle cx="236.7" cy="89.7" r="1.3" fill="#F6D38B"/>
<circle cx="208.2" cy="78.9" r="1.3" fill="#F6D38B"/>
<circle cx="166.6" cy="130.9" r="1.3" fill="#F6D38B"/>
<circle cx="170.9" cy="135.4" r="1.3" fill="#F6D38B"/>
<circle cx="197.1" cy="135.3" r="1.3" fill="#F6D38B"/>
<circle cx="212.6" cy="73.4" r="1.3" fill="#F6D38B"/>
<circle cx="211.3" cy="120.2" r="1.3" fill="#F6D38B"/>
<circle cx="160.3" cy="117.1" r="1.3" fill="#F6D38B"/>
<circle cx="159.9" cy="118.9" r="1.3" fill="#F6D38B"/>
<circle cx="204.1" cy="125.4" r="1.3" fill="#F6D38B"/>
<circle cx="191.3" cy="85.4" r="1.3" fill="#F6D38B"/>
<circle cx="225.2" cy="107.1" r="1.3" fill="#F6D38B"/>
<circle cx="192.5" cy="137.5" r="1.3" fill="#F6D38B"/>
<circle cx="197.8" cy="82.4" r="1.3" fill="#F6D38B"/>
<circle cx="232.1" cy="73.3" r="1.3" fill="#F6D38B"/>
<circle cx="232.3" cy="73.0" r="1.3" fill="#F6D38B"/>
<circle cx="209.5" cy="127.2" r="1.3" fill="#F6D38B"/>
<circle cx="165.0" cy="100.6" r="1.3" fill="#F6D38B"/>
<circle cx="208.3" cy="128.1" r="1.3" fill="#F6D38B"/>
<circle cx="179.7" cy="138.2" r="1.3" fill="#F6D38B"/>
<circle cx="164.6" cy="125.3" r="1.3" fill="#F6D38B"/>
<circle cx="194.7" cy="84.6" r="1.3" fill="#F6D38B"/>
<circle cx="232.0" cy="73.8" r="1.3" fill="#F6D38B"/>
<circle cx="155.7" cy="114.1" r="1.3" fill="#F6D38B"/>
<circle cx="172.9" cy="91.3" r="1.3" fill="#F6D38B"/>
<circle cx="182.3" cy="136.5" r="1.3" fill="#F6D38B"/>
<circle cx="218.0" cy="115.5" r="1.3" fill="#F6D38B"/>
<circle cx="204.4" cy="128.1" r="1.3" fill="#F6D38B"/>
<circle cx="236.7" cy="78.9" r="1.3" fill="#F6D38B"/>
<circle cx="198.3" cy="130.8" r="1.3" fill="#F6D38B"/>
<circle cx="158.8" cy="117.4" r="1.3" fill="#F6D38B"/>
<circle cx="170.3" cy="89.8" r="1.3" fill="#F6D38B"/>
<circle cx="237.0" cy="78.7" r="1.3" fill="#F6D38B"/>
<circle cx="234.6" cy="90.9" r="1.3" fill="#F6D38B"/>
<circle cx="231.9" cy="100.0" r="1.3" fill="#F6D38B"/>
<circle cx="202.6" cy="85.0" r="1.3" fill="#F6D38B"/>
<circle cx="165.5" cy="127.7" r="1.3" fill="#F6D38B"/>
<circle cx="185.2" cy="133.4" r="1.3" fill="#F6D38B"/>
<circle cx="226.5" cy="107.0" r="1.3" fill="#F6D38B"/>
<circle cx="165.9" cy="128.6" r="1.3" fill="#F6D38B"/>
<circle cx="211.9" cy="120.3" r="1.3" fill="#F6D38B"/>
<circle cx="160.1" cy="114.5" r="1.3" fill="#F6D38B"/>
<circle cx="204.5" cy="122.6" r="1.3" fill="#DDEFF4"/>
<circle cx="163.6" cy="113.7" r="1.3" fill="#DDEFF4"/>
<circle cx="173.9" cy="125.8" r="1.3" fill="#DDEFF4"/>
<circle cx="171.8" cy="93.9" r="1.3" fill="#DDEFF4"/>
<circle cx="164.4" cy="110.7" r="1.3" fill="#DDEFF4"/>
<circle cx="200.0" cy="89.6" r="1.3" fill="#DDEFF4"/>
<circle cx="176.6" cy="90.2" r="1.3" fill="#DDEFF4"/>
<circle cx="178.3" cy="91.9" r="1.3" fill="#DDEFF4"/>
<circle cx="187.2" cy="132.0" r="1.3" fill="#DDEFF4"/>
<circle cx="229.4" cy="99.6" r="1.3" fill="#DDEFF4"/>
<circle cx="228.2" cy="99.8" r="1.3" fill="#DDEFF4"/>
<circle cx="163.3" cy="113.6" r="1.3" fill="#DDEFF4"/>
<circle cx="235.1" cy="77.3" r="1.3" fill="#DDEFF4"/>
<circle cx="216.5" cy="71.9" r="1.3" fill="#DDEFF4"/>
<circle cx="182.2" cy="128.1" r="1.3" fill="#DDEFF4"/>
<circle cx="182.7" cy="132.6" r="1.3" fill="#DDEFF4"/>
<circle cx="173.3" cy="90.1" r="1.3" fill="#DDEFF4"/>
<circle cx="200.2" cy="87.0" r="1.3" fill="#DDEFF4"/>
<circle cx="162.6" cy="107.5" r="1.3" fill="#DDEFF4"/>
<circle cx="205.4" cy="89.0" r="1.3" fill="#DDEFF4"/>
<circle cx="199.1" cy="129.7" r="1.3" fill="#DDEFF4"/>
<circle cx="163.6" cy="116.2" r="1.3" fill="#DDEFF4"/>
<circle cx="189.1" cy="87.5" r="1.3" fill="#DDEFF4"/>
<circle cx="159.1" cy="112.0" r="1.3" fill="#DDEFF4"/>
<circle cx="177.8" cy="91.6" r="1.3" fill="#DDEFF4"/>
<circle cx="192.7" cy="124.5" r="1.3" fill="#DDEFF4"/>
<circle cx="177.2" cy="132.3" r="1.3" fill="#DDEFF4"/>
<circle cx="221.9" cy="107.0" r="1.3" fill="#DDEFF4"/>
<circle cx="235.8" cy="82.0" r="1.3" fill="#DDEFF4"/>
<circle cx="174.6" cy="127.7" r="1.3" fill="#DDEFF4"/>
<circle cx="217.5" cy="72.9" r="1.3" fill="#DDEFF4"/>
<circle cx="227.8" cy="76.3" r="1.3" fill="#DDEFF4"/>
<circle cx="223.6" cy="73.7" r="1.3" fill="#DDEFF4"/>
<circle cx="231.8" cy="77.8" r="1.3" fill="#DDEFF4"/>
<circle cx="196.4" cy="86.0" r="1.3" fill="#DDEFF4"/>
<circle cx="163.5" cy="108.9" r="1.3" fill="#DDEFF4"/>
<circle cx="188.3" cy="87.7" r="1.3" fill="#DDEFF4"/>
<circle cx="233.5" cy="80.1" r="1.3" fill="#DDEFF4"/>
<circle cx="164.7" cy="115.5" r="1.3" fill="#DDEFF4"/>
<circle cx="203.7" cy="120.4" r="1.3" fill="#DDEFF4"/>
<circle cx="193.5" cy="86.2" r="1.3" fill="#DDEFF4"/>
<circle cx="203.0" cy="123.9" r="1.3" fill="#DDEFF4"/>
<circle cx="197.8" cy="86.5" r="1.3" fill="#DDEFF4"/>
<circle cx="205.3" cy="88.1" r="1.3" fill="#DDEFF4"/>
<circle cx="174.9" cy="96.5" r="1.3" fill="#DDEFF4"/>
<circle cx="174.3" cy="91.6" r="1.3" fill="#DDEFF4"/>
<circle cx="162.1" cy="107.7" r="1.3" fill="#DDEFF4"/>
<circle cx="207.4" cy="119.0" r="1.3" fill="#DDEFF4"/>
<circle cx="233.1" cy="79.4" r="1.3" fill="#DDEFF4"/>
<circle cx="201.4" cy="122.2" r="1.3" fill="#DDEFF4"/>
<circle cx="178.5" cy="89.5" r="1.3" fill="#DDEFF4"/>
<circle cx="223.5" cy="105.8" r="1.3" fill="#DDEFF4"/>
<circle cx="226.5" cy="104.4" r="1.3" fill="#DDEFF4"/>
<circle cx="228.4" cy="101.9" r="1.3" fill="#DDEFF4"/>
<circle cx="210.0" cy="116.1" r="1.3" fill="#DDEFF4"/>
<circle cx="231.7" cy="94.1" r="1.3" fill="#DDEFF4"/>
<circle cx="234.9" cy="81.0" r="1.3" fill="#DDEFF4"/>
<circle cx="162.9" cy="119.7" r="1.3" fill="#DDEFF4"/>
<circle cx="184.8" cy="134.8" r="1.3" fill="#DDEFF4"/>
<circle cx="234.8" cy="89.0" r="1.3" fill="#DDEFF4"/>
<circle cx="174.9" cy="130.4" r="1.3" fill="#DDEFF4"/>
<circle cx="200.8" cy="121.7" r="1.3" fill="#DDEFF4"/>
<circle cx="164.6" cy="107.8" r="1.3" fill="#DDEFF4"/>
<circle cx="209.4" cy="82.7" r="1.3" fill="#DDEFF4"/>
<circle cx="164.4" cy="120.9" r="1.3" fill="#DDEFF4"/>
<circle cx="167.2" cy="106.5" r="1.3" fill="#DDEFF4"/>
<circle cx="212.8" cy="73.4" r="1.3" fill="#DDEFF4"/>
<circle cx="190.2" cy="131.0" r="1.3" fill="#DDEFF4"/>
<circle cx="217.3" cy="113.8" r="1.3" fill="#DDEFF4"/>
<circle cx="206.2" cy="85.0" r="1.3" fill="#DDEFF4"/>
<circle cx="202.2" cy="125.5" r="1.3" fill="#DDEFF4"/>
<circle cx="200.6" cy="123.0" r="1.3" fill="#DDEFF4"/>
<circle cx="198.1" cy="125.7" r="1.3" fill="#DDEFF4"/>
<circle cx="212.9" cy="114.0" r="1.3" fill="#DDEFF4"/>
<circle cx="202.3" cy="87.7" r="1.3" fill="#DDEFF4"/>
<circle cx="178.5" cy="92.5" r="1.3" fill="#DDEFF4"/>
<circle cx="233.1" cy="77.7" r="1.3" fill="#DDEFF4"/>
<circle cx="208.2" cy="120.9" r="1.3" fill="#DDEFF4"/>
<circle cx="231.8" cy="96.1" r="1.3" fill="#DDEFF4"/>
<circle cx="163.9" cy="119.4" r="1.3" fill="#DDEFF4"/>
<circle cx="198.6" cy="89.5" r="1.3" fill="#DDEFF4"/>
<circle cx="208.2" cy="83.6" r="1.3" fill="#DDEFF4"/>
<circle cx="204.6" cy="116.9" r="1.3" fill="#DDEFF4"/>
<circle cx="185.6" cy="87.2" r="1.3" fill="#DDEFF4"/>
<circle cx="235.2" cy="79.9" r="1.3" fill="#DDEFF4"/>
<circle cx="183.4" cy="90.5" r="1.3" fill="#DDEFF4"/>
<circle cx="213.6" cy="117.8" r="1.3" fill="#DDEFF4"/>
<circle cx="165.4" cy="121.0" r="1.3" fill="#DDEFF4"/>
<circle cx="162.1" cy="108.1" r="1.3" fill="#DDEFF4"/>
<circle cx="197.4" cy="129.4" r="1.3" fill="#DDEFF4"/>
<circle cx="232.9" cy="80.8" r="1.3" fill="#DDEFF4"/>
<circle cx="191.0" cy="132.0" r="1.3" fill="#DDEFF4"/>
<circle cx="179.4" cy="133.2" r="1.3" fill="#DDEFF4"/>
<circle cx="228.3" cy="100.6" r="1.3" fill="#DDEFF4"/>
<circle cx="197.8" cy="126.6" r="1.3" fill="#DDEFF4"/>
<circle cx="172.7" cy="131.3" r="1.3" fill="#DDEFF4"/>
<circle cx="174.5" cy="125.1" r="1.3" fill="#DDEFF4"/>
<circle cx="209.5" cy="77.1" r="1.3" fill="#DDEFF4"/>
<circle cx="164.8" cy="111.4" r="1.3" fill="#DDEFF4"/>
<circle cx="175.2" cy="127.9" r="1.3" fill="#DDEFF4"/>
<circle cx="222.5" cy="74.3" r="1.3" fill="#DDEFF4"/>
<circle cx="185.9" cy="130.2" r="1.3" fill="#DDEFF4"/>
<circle cx="166.8" cy="125.3" r="1.3" fill="#DDEFF4"/>
<circle cx="162.4" cy="112.2" r="1.3" fill="#DDEFF4"/>
<circle cx="180.9" cy="133.8" r="1.3" fill="#DDEFF4"/>
<circle cx="227.0" cy="101.5" r="1.3" fill="#DDEFF4"/>
<circle cx="195.8" cy="131.4" r="1.3" fill="#DDEFF4"/>
<circle cx="164.4" cy="104.6" r="1.3" fill="#DDEFF4"/>
<circle cx="167.7" cy="100.2" r="1.3" fill="#DDEFF4"/>
<circle cx="176.1" cy="92.8" r="1.3" fill="#DDEFF4"/>
<circle cx="226.7" cy="103.2" r="1.3" fill="#DDEFF4"/>
<circle cx="165.7" cy="123.2" r="1.3" fill="#DDEFF4"/>
<circle cx="227.5" cy="103.6" r="1.3" fill="#DDEFF4"/>
<circle cx="208.0" cy="82.3" r="1.3" fill="#DDEFF4"/>
<circle cx="168.6" cy="122.3" r="1.3" fill="#DDEFF4"/>
<circle cx="164.0" cy="121.9" r="1.3" fill="#DDEFF4"/>
<circle cx="187.7" cy="87.6" r="1.3" fill="#DDEFF4"/>
<circle cx="229.9" cy="97.9" r="1.3" fill="#DDEFF4"/>
<circle cx="186.8" cy="126.1" r="1.3" fill="#98C6DF"/>
<circle cx="181.1" cy="127.1" r="1.3" fill="#98C6DF"/>
<circle cx="171.8" cy="97.4" r="1.3" fill="#98C6DF"/>
<circle cx="231.9" cy="92.6" r="1.3" fill="#98C6DF"/>
<circle cx="203.8" cy="114.0" r="1.3" fill="#98C6DF"/>
<circle cx="219.9" cy="74.3" r="1.3" fill="#98C6DF"/>
<circle cx="204.7" cy="117.5" r="1.3" fill="#98C6DF"/>
<circle cx="179.0" cy="95.5" r="1.3" fill="#98C6DF"/>
<circle cx="168.2" cy="116.5" r="1.3" fill="#98C6DF"/>
<circle cx="212.4" cy="108.7" r="1.3" fill="#98C6DF"/>
<circle cx="193.6" cy="120.8" r="1.3" fill="#98C6DF"/>
<circle cx="196.6" cy="117.1" r="1.3" fill="#98C6DF"/>
<circle cx="195.5" cy="118.8" r="1.3" fill="#98C6DF"/>
<circle cx="176.2" cy="125.3" r="1.3" fill="#98C6DF"/>
<circle cx="201.9" cy="94.6" r="1.3" fill="#98C6DF"/>
<circle cx="234.4" cy="81.7" r="1.3" fill="#98C6DF"/>
<circle cx="197.9" cy="115.8" r="1.3" fill="#98C6DF"/>
<circle cx="191.6" cy="125.9" r="1.3" fill="#98C6DF"/>
<circle cx="199.4" cy="118.8" r="1.3" fill="#98C6DF"/>
<circle cx="207.5" cy="115.8" r="1.3" fill="#98C6DF"/>
<circle cx="184.0" cy="92.4" r="1.3" fill="#98C6DF"/>
<circle cx="192.5" cy="125.7" r="1.3" fill="#98C6DF"/>
<circle cx="193.3" cy="123.8" r="1.3" fill="#98C6DF"/>
<circle cx="216.0" cy="110.1" r="1.3" fill="#98C6DF"/>
<circle cx="209.0" cy="115.4" r="1.3" fill="#98C6DF"/>
<circle cx="171.7" cy="124.1" r="1.3" fill="#98C6DF"/>
<circle cx="187.5" cy="127.0" r="1.3" fill="#98C6DF"/>
<circle cx="167.1" cy="118.6" r="1.3" fill="#98C6DF"/>
<circle cx="172.1" cy="119.2" r="1.3" fill="#98C6DF"/>
<circle cx="220.7" cy="105.4" r="1.3" fill="#98C6DF"/>
<circle cx="168.8" cy="113.6" r="1.3" fill="#98C6DF"/>
<circle cx="221.6" cy="104.9" r="1.3" fill="#98C6DF"/>
<circle cx="210.5" cy="112.8" r="1.3" fill="#98C6DF"/>
<circle cx="169.4" cy="102.1" r="1.3" fill="#98C6DF"/>
<circle cx="202.5" cy="115.0" r="1.3" fill="#98C6DF"/>
<circle cx="185.6" cy="128.5" r="1.3" fill="#98C6DF"/>
<circle cx="212.9" cy="110.8" r="1.3" fill="#98C6DF"/>
<circle cx="203.8" cy="97.4" r="1.3" fill="#98C6DF"/>
<circle cx="173.2" cy="125.6" r="1.3" fill="#98C6DF"/>
<circle cx="165.8" cy="116.2" r="1.3" fill="#98C6DF"/>
<circle cx="176.1" cy="95.0" r="1.3" fill="#98C6DF"/>
<circle cx="173.6" cy="123.8" r="1.3" fill="#98C6DF"/>
<circle cx="196.8" cy="90.2" r="1.3" fill="#98C6DF"/>
<circle cx="197.7" cy="91.0" r="1.3" fill="#98C6DF"/>
<circle cx="219.3" cy="106.4" r="1.3" fill="#98C6DF"/>
<circle cx="215.1" cy="110.6" r="1.3" fill="#98C6DF"/>
<circle cx="208.1" cy="110.7" r="1.3" fill="#98C6DF"/>
<circle cx="208.5" cy="86.5" r="1.3" fill="#98C6DF"/>
<circle cx="208.3" cy="116.5" r="1.3" fill="#98C6DF"/>
<circle cx="200.0" cy="123.2" r="1.3" fill="#98C6DF"/>
<circle cx="210.3" cy="84.6" r="1.3" fill="#98C6DF"/>
<circle cx="204.1" cy="90.7" r="1.3" fill="#98C6DF"/>
<circle cx="166.5" cy="105.3" r="1.3" fill="#98C6DF"/>
<circle cx="212.6" cy="108.4" r="1.3" fill="#98C6DF"/>
<circle cx="165.3" cy="113.9" r="1.3" fill="#98C6DF"/>
<circle cx="213.7" cy="108.9" r="1.3" fill="#98C6DF"/>
<circle cx="175.1" cy="125.5" r="1.3" fill="#98C6DF"/>
<circle cx="213.0" cy="111.5" r="1.3" fill="#98C6DF"/>
<circle cx="210.3" cy="85.8" r="1.3" fill="#98C6DF"/>
<circle cx="207.2" cy="88.8" r="1.3" fill="#98C6DF"/>
<circle cx="213.4" cy="109.4" r="1.3" fill="#98C6DF"/>
<circle cx="190.9" cy="128.0" r="1.3" fill="#98C6DF"/>
<circle cx="212.3" cy="77.9" r="1.3" fill="#98C6DF"/>
<circle cx="216.7" cy="108.9" r="1.3" fill="#98C6DF"/>
<circle cx="212.5" cy="80.0" r="1.3" fill="#98C6DF"/>
<circle cx="211.1" cy="112.3" r="1.3" fill="#98C6DF"/>
<circle cx="210.9" cy="82.8" r="1.3" fill="#98C6DF"/>
<circle cx="183.5" cy="125.9" r="1.3" fill="#98C6DF"/>
<circle cx="185.4" cy="121.7" r="1.3" fill="#98C6DF"/>
<circle cx="203.5" cy="123.0" r="1.3" fill="#98C6DF"/>
<circle cx="199.9" cy="114.1" r="1.3" fill="#98C6DF"/>
<circle cx="211.2" cy="111.7" r="1.3" fill="#98C6DF"/>
<circle cx="205.2" cy="112.8" r="1.3" fill="#98C6DF"/>
<circle cx="226.5" cy="78.3" r="1.3" fill="#98C6DF"/>
<circle cx="201.1" cy="89.8" r="1.3" fill="#98C6DF"/>
<circle cx="172.7" cy="99.8" r="1.3" fill="#98C6DF"/>
<circle cx="219.4" cy="107.2" r="1.3" fill="#98C6DF"/>
<circle cx="170.3" cy="102.4" r="1.3" fill="#98C6DF"/>
<circle cx="170.6" cy="122.8" r="1.3" fill="#98C6DF"/>
<circle cx="202.1" cy="92.1" r="1.3" fill="#98C6DF"/>
<circle cx="227.1" cy="78.1" r="1.3" fill="#98C6DF"/>
<circle cx="219.0" cy="74.6" r="1.3" fill="#98C6DF"/>
<circle cx="196.5" cy="89.5" r="1.3" fill="#98C6DF"/>
<circle cx="200.9" cy="113.6" r="1.3" fill="#98C6DF"/>
<circle cx="230.9" cy="91.2" r="1.3" fill="#98C6DF"/>
<circle cx="195.4" cy="123.3" r="1.3" fill="#98C6DF"/>
<circle cx="210.7" cy="113.6" r="1.3" fill="#98C6DF"/>
<circle cx="200.8" cy="91.3" r="1.3" fill="#98C6DF"/>
<circle cx="204.7" cy="92.5" r="1.3" fill="#98C6DF"/>
<circle cx="234.2" cy="86.1" r="1.3" fill="#98C6DF"/>
<circle cx="208.6" cy="114.9" r="1.3" fill="#98C6DF"/>
<circle cx="201.7" cy="120.1" r="1.3" fill="#98C6DF"/>
<circle cx="191.5" cy="121.6" r="1.3" fill="#98C6DF"/>
<circle cx="173.9" cy="125.4" r="1.3" fill="#98C6DF"/>
<circle cx="208.4" cy="112.4" r="1.3" fill="#98C6DF"/>
<circle cx="179.3" cy="129.0" r="1.3" fill="#98C6DF"/>
<circle cx="172.3" cy="124.8" r="1.3" fill="#98C6DF"/>
<circle cx="168.7" cy="103.1" r="1.3" fill="#98C6DF"/>
<circle cx="200.0" cy="123.2" r="1.3" fill="#98C6DF"/>
<circle cx="197.5" cy="126.8" r="1.3" fill="#98C6DF"/>
<circle cx="191.2" cy="126.9" r="1.3" fill="#98C6DF"/>
<circle cx="178.4" cy="121.5" r="1.3" fill="#98C6DF"/>
<circle cx="202.0" cy="91.9" r="1.3" fill="#98C6DF"/>
<circle cx="233.7" cy="88.6" r="1.3" fill="#98C6DF"/>
<circle cx="188.1" cy="91.8" r="1.3" fill="#98C6DF"/>
<circle cx="210.7" cy="112.7" r="1.3" fill="#98C6DF"/>
<circle cx="208.8" cy="111.2" r="1.3" fill="#98C6DF"/>
<circle cx="193.7" cy="123.2" r="1.3" fill="#98C6DF"/>
<circle cx="206.3" cy="91.2" r="1.3" fill="#98C6DF"/>
<circle cx="211.8" cy="112.0" r="1.3" fill="#98C6DF"/>
<circle cx="224.6" cy="77.6" r="1.3" fill="#98C6DF"/>
<circle cx="184.4" cy="92.7" r="1.3" fill="#98C6DF"/>
<circle cx="232.2" cy="81.2" r="1.3" fill="#98C6DF"/>
<circle cx="195.2" cy="127.4" r="1.3" fill="#98C6DF"/>
<circle cx="198.4" cy="92.8" r="1.3" fill="#98C6DF"/>
<circle cx="203.0" cy="115.4" r="1.3" fill="#98C6DF"/>
<circle cx="168.9" cy="120.6" r="1.3" fill="#98C6DF"/>
<circle cx="218.5" cy="72.8" r="1.3" fill="#98C6DF"/>
<circle cx="202.0" cy="94.9" r="1.3" fill="#98C6DF"/>
<circle cx="216.8" cy="74.6" r="1.3" fill="#98C6DF"/>
<circle cx="205.6" cy="109.7" r="1.3" fill="#98C6DF"/>
<circle cx="173.8" cy="123.4" r="1.3" fill="#98C6DF"/>
<circle cx="222.8" cy="103.5" r="1.3" fill="#98C6DF"/>
<circle cx="206.6" cy="88.8" r="1.3" fill="#98C6DF"/>
<circle cx="230.3" cy="81.7" r="1.3" fill="#98C6DF"/>
<circle cx="218.0" cy="109.3" r="1.3" fill="#98C6DF"/>
<circle cx="193.3" cy="92.1" r="1.3" fill="#98C6DF"/>
<circle cx="177.3" cy="122.7" r="1.3" fill="#98C6DF"/>
<circle cx="184.7" cy="122.6" r="1.3" fill="#98C6DF"/>
<circle cx="185.6" cy="125.1" r="1.3" fill="#98C6DF"/>
<circle cx="205.7" cy="115.6" r="1.3" fill="#98C6DF"/>
<circle cx="198.9" cy="118.6" r="1.3" fill="#98C6DF"/>
<circle cx="213.8" cy="110.9" r="1.3" fill="#98C6DF"/>
<circle cx="210.4" cy="86.5" r="1.3" fill="#98C6DF"/>
<circle cx="199.6" cy="119.0" r="1.3" fill="#98C6DF"/>
<circle cx="210.8" cy="85.3" r="1.3" fill="#98C6DF"/>
<circle cx="221.0" cy="74.9" r="1.3" fill="#98C6DF"/>
<circle cx="224.8" cy="102.5" r="1.3" fill="#98C6DF"/>
<circle cx="184.6" cy="127.6" r="1.3" fill="#98C6DF"/>
<circle cx="221.2" cy="105.4" r="1.3" fill="#98C6DF"/>
<circle cx="230.8" cy="90.6" r="1.3" fill="#98C6DF"/>
<circle cx="232.3" cy="82.1" r="1.3" fill="#98C6DF"/>
<circle cx="190.4" cy="123.6" r="1.3" fill="#98C6DF"/>
<circle cx="191.9" cy="89.3" r="1.3" fill="#98C6DF"/>
<circle cx="170.6" cy="123.5" r="1.3" fill="#98C6DF"/>
<circle cx="206.7" cy="94.5" r="1.3" fill="#98C6DF"/>
<circle cx="219.0" cy="74.5" r="1.3" fill="#98C6DF"/>
<circle cx="194.9" cy="119.1" r="1.3" fill="#98C6DF"/>
<circle cx="169.6" cy="105.0" r="1.3" fill="#98C6DF"/>
<circle cx="165.9" cy="113.9" r="1.3" fill="#98C6DF"/>
<circle cx="170.9" cy="101.4" r="1.3" fill="#98C6DF"/>
<circle cx="214.7" cy="109.6" r="1.3" fill="#98C6DF"/>
<circle cx="224.5" cy="102.6" r="1.3" fill="#98C6DF"/>
<circle cx="168.7" cy="113.9" r="1.3" fill="#98C6DF"/>
<circle cx="177.3" cy="93.6" r="1.3" fill="#98C6DF"/>
<circle cx="210.5" cy="80.0" r="1.3" fill="#98C6DF"/>
<circle cx="202.6" cy="115.6" r="1.3" fill="#98C6DF"/>
<circle cx="232.2" cy="78.8" r="1.3" fill="#98C6DF"/>
<circle cx="182.7" cy="125.5" r="1.3" fill="#98C6DF"/>
<circle cx="219.8" cy="108.0" r="1.3" fill="#98C6DF"/>
<circle cx="177.0" cy="125.8" r="1.3" fill="#98C6DF"/>
<circle cx="164.5" cy="111.2" r="1.3" fill="#98C6DF"/>
<circle cx="197.6" cy="123.9" r="1.3" fill="#98C6DF"/>
<circle cx="178.5" cy="95.3" r="1.3" fill="#98C6DF"/>
<circle cx="225.6" cy="101.4" r="1.3" fill="#98C6DF"/>
<circle cx="165.6" cy="113.4" r="1.3" fill="#98C6DF"/>
<circle cx="218.9" cy="72.9" r="1.3" fill="#98C6DF"/>
<circle cx="227.5" cy="100.5" r="1.3" fill="#98C6DF"/>
<circle cx="210.0" cy="81.9" r="1.3" fill="#98C6DF"/>
<circle cx="167.7" cy="118.6" r="1.3" fill="#98C6DF"/>
<circle cx="169.7" cy="118.1" r="1.3" fill="#98C6DF"/>
<circle cx="194.8" cy="122.9" r="1.3" fill="#98C6DF"/>
<circle cx="214.3" cy="110.1" r="1.3" fill="#98C6DF"/>
<circle cx="194.2" cy="123.1" r="1.3" fill="#98C6DF"/>
<circle cx="166.3" cy="120.6" r="1.3" fill="#98C6DF"/>
<circle cx="178.3" cy="94.0" r="1.3" fill="#98C6DF"/>
<circle cx="193.9" cy="122.5" r="1.3" fill="#98C6DF"/>
<circle cx="202.4" cy="116.1" r="1.3" fill="#98C6DF"/>
<circle cx="187.2" cy="127.9" r="1.3" fill="#98C6DF"/>
<circle cx="201.9" cy="116.3" r="1.3" fill="#98C6DF"/>
<circle cx="169.8" cy="103.4" r="1.3" fill="#98C6DF"/>
<circle cx="194.1" cy="89.6" r="1.3" fill="#98C6DF"/>
<circle cx="201.2" cy="116.0" r="1.3" fill="#98C6DF"/>
<circle cx="173.7" cy="124.4" r="1.3" fill="#98C6DF"/>
<circle cx="233.8" cy="81.6" r="1.3" fill="#98C6DF"/>
<circle cx="168.9" cy="103.4" r="1.3" fill="#98C6DF"/>
<circle cx="234.1" cy="84.5" r="1.3" fill="#98C6DF"/>
<circle cx="179.0" cy="91.4" r="1.3" fill="#98C6DF"/>
<circle cx="199.7" cy="119.2" r="1.3" fill="#98C6DF"/>
<circle cx="164.7" cy="109.2" r="1.3" fill="#98C6DF"/>
<circle cx="204.3" cy="117.1" r="1.3" fill="#98C6DF"/>
<circle cx="180.4" cy="94.0" r="1.3" fill="#98C6DF"/>
<circle cx="177.1" cy="125.6" r="1.3" fill="#98C6DF"/>
<circle cx="234.0" cy="86.0" r="1.3" fill="#98C6DF"/>
<circle cx="216.2" cy="109.2" r="1.3" fill="#98C6DF"/>
<circle cx="174.4" cy="121.3" r="1.3" fill="#98C6DF"/>
<circle cx="204.5" cy="112.8" r="1.3" fill="#98C6DF"/>
<circle cx="207.6" cy="114.7" r="1.3" fill="#98C6DF"/>
<circle cx="174.0" cy="99.7" r="1.3" fill="#98C6DF"/>
<circle cx="177.4" cy="93.8" r="1.3" fill="#98C6DF"/>
<circle cx="168.9" cy="102.3" r="1.3" fill="#98C6DF"/>
<circle cx="212.3" cy="91.5" r="1.3" fill="#5086C0"/>
<circle cx="212.8" cy="93.0" r="1.3" fill="#5086C0"/>
<circle cx="200.3" cy="94.9" r="1.3" fill="#5086C0"/>
<circle cx="215.7" cy="90.8" r="1.3" fill="#5086C0"/>
<circle cx="212.5" cy="91.8" r="1.3" fill="#5086C0"/>
<circle cx="206.4" cy="104.4" r="1.3" fill="#5086C0"/>
<circle cx="176.0" cy="97.8" r="1.3" fill="#5086C0"/>
<circle cx="189.1" cy="120.2" r="1.3" fill="#5086C0"/>
<circle cx="204.0" cy="100.4" r="1.3" fill="#5086C0"/>
<circle cx="221.2" cy="100.1" r="1.3" fill="#5086C0"/>
<circle cx="216.0" cy="77.3" r="1.3" fill="#5086C0"/>
<circle cx="210.8" cy="107.9" r="1.3" fill="#5086C0"/>
<circle cx="184.4" cy="93.4" r="1.3" fill="#5086C0"/>
<circle cx="210.4" cy="99.8" r="1.3" fill="#5086C0"/>
<circle cx="220.6" cy="102.1" r="1.3" fill="#5086C0"/>
<circle cx="210.8" cy="104.4" r="1.3" fill="#5086C0"/>
<circle cx="215.2" cy="104.0" r="1.3" fill="#5086C0"/>
<circle cx="229.0" cy="80.4" r="1.3" fill="#5086C0"/>
<circle cx="181.4" cy="95.6" r="1.3" fill="#5086C0"/>
<circle cx="218.2" cy="79.1" r="1.3" fill="#5086C0"/>
<circle cx="210.5" cy="95.1" r="1.3" fill="#5086C0"/>
<circle cx="218.5" cy="79.1" r="1.3" fill="#5086C0"/>
<circle cx="208.7" cy="104.7" r="1.3" fill="#5086C0"/>
<circle cx="211.7" cy="102.9" r="1.3" fill="#5086C0"/>
<circle cx="201.8" cy="98.2" r="1.3" fill="#5086C0"/>
<circle cx="187.1" cy="117.9" r="1.3" fill="#5086C0"/>
<circle cx="223.6" cy="79.0" r="1.3" fill="#5086C0"/>
<circle cx="177.6" cy="96.9" r="1.3" fill="#5086C0"/>
<circle cx="213.6" cy="103.9" r="1.3" fill="#5086C0"/>
<circle cx="199.4" cy="106.7" r="1.3" fill="#5086C0"/>
<circle cx="220.5" cy="101.8" r="1.3" fill="#5086C0"/>
<circle cx="189.4" cy="94.0" r="1.3" fill="#5086C0"/>
<circle cx="231.2" cy="87.0" r="1.3" fill="#5086C0"/>
<circle cx="218.2" cy="102.9" r="1.3" fill="#5086C0"/>
<circle cx="225.3" cy="97.5" r="1.3" fill="#5086C0"/>
<circle cx="172.2" cy="117.1" r="1.3" fill="#5086C0"/>
<circle cx="194.6" cy="111.4" r="1.3" fill="#5086C0"/>
<circle cx="187.8" cy="123.1" r="1.3" fill="#5086C0"/>
<circle cx="175.8" cy="113.4" r="1.3" fill="#5086C0"/>
<circle cx="190.3" cy="115.3" r="1.3" fill="#5086C0"/>
<circle cx="220.5" cy="79.4" r="1.3" fill="#5086C0"/>
<circle cx="211.4" cy="94.2" r="1.3" fill="#5086C0"/>
<circle cx="206.9" cy="97.8" r="1.3" fill="#5086C0"/>
<circle cx="171.4" cy="107.9" r="1.3" fill="#5086C0"/>
<circle cx="192.1" cy="115.0" r="1.3" fill="#5086C0"/>
<circle cx="219.5" cy="78.4" r="1.3" fill="#5086C0"/>
<circle cx="177.6" cy="115.6" r="1.3" fill="#5086C0"/>
<circle cx="176.6" cy="120.5" r="1.3" fill="#5086C0"/>
<circle cx="199.9" cy="111.8" r="1.3" fill="#5086C0"/>
<circle cx="172.6" cy="120.7" r="1.3" fill="#5086C0"/>
<circle cx="198.9" cy="101.5" r="1.3" fill="#5086C0"/>
<circle cx="195.4" cy="113.4" r="1.3" fill="#5086C0"/>
<circle cx="214.7" cy="80.8" r="1.3" fill="#5086C0"/>
<circle cx="211.9" cy="106.5" r="1.3" fill="#5086C0"/>
<circle cx="192.6" cy="93.5" r="1.3" fill="#5086C0"/>
<circle cx="184.9" cy="120.3" r="1.3" fill="#5086C0"/>
<circle cx="199.9" cy="106.6" r="1.3" fill="#5086C0"/>
<circle cx="230.6" cy="91.5" r="1.3" fill="#5086C0"/>
<circle cx="196.7" cy="110.9" r="1.3" fill="#5086C0"/>
<circle cx="178.9" cy="98.1" r="1.3" fill="#5086C0"/>
<circle cx="211.8" cy="89.9" r="1.3" fill="#5086C0"/>
<circle cx="189.0" cy="94.3" r="1.3" fill="#5086C0"/>
<circle cx="216.9" cy="87.0" r="1.3" fill="#5086C0"/>
<circle cx="229.5" cy="81.5" r="1.3" fill="#5086C0"/>
<circle cx="218.5" cy="105.1" r="1.3" fill="#5086C0"/>
<circle cx="179.3" cy="94.3" r="1.3" fill="#5086C0"/>
<circle cx="218.5" cy="77.6" r="1.3" fill="#5086C0"/>
<circle cx="190.9" cy="94.4" r="1.3" fill="#5086C0"/>
<circle cx="225.7" cy="80.5" r="1.3" fill="#5086C0"/>
<circle cx="215.2" cy="78.3" r="1.3" fill="#5086C0"/>
<circle cx="214.8" cy="87.5" r="1.3" fill="#5086C0"/>
<circle cx="211.7" cy="106.3" r="1.3" fill="#5086C0"/>
<circle cx="198.7" cy="115.7" r="1.3" fill="#5086C0"/>
<circle cx="176.6" cy="100.3" r="1.3" fill="#5086C0"/>
<circle cx="210.3" cy="104.1" r="1.3" fill="#5086C0"/>
<circle cx="196.1" cy="109.4" r="1.3" fill="#5086C0"/>
<circle cx="191.7" cy="115.9" r="1.3" fill="#5086C0"/>
<circle cx="209.3" cy="96.3" r="1.3" fill="#5086C0"/>
<circle cx="213.2" cy="107.7" r="1.3" fill="#5086C0"/>
<circle cx="208.0" cy="109.8" r="1.3" fill="#5086C0"/>
<circle cx="228.2" cy="83.0" r="1.3" fill="#5086C0"/>
<circle cx="215.5" cy="81.7" r="1.3" fill="#5086C0"/>
<circle cx="224.5" cy="81.8" r="1.3" fill="#5086C0"/>
<circle cx="205.0" cy="107.9" r="1.3" fill="#5086C0"/>
<circle cx="224.9" cy="100.0" r="1.3" fill="#5086C0"/>
<circle cx="194.6" cy="119.1" r="1.3" fill="#5086C0"/>
<circle cx="217.4" cy="104.1" r="1.3" fill="#5086C0"/>
<circle cx="169.3" cy="116.6" r="1.3" fill="#5086C0"/>
<circle cx="184.9" cy="119.7" r="1.3" fill="#5086C0"/>
<circle cx="218.7" cy="105.2" r="1.3" fill="#5086C0"/>
<circle cx="180.2" cy="97.2" r="1.3" fill="#5086C0"/>
<circle cx="178.2" cy="114.1" r="1.3" fill="#5086C0"/>
<circle cx="190.5" cy="116.2" r="1.3" fill="#5086C0"/>
<circle cx="174.8" cy="118.6" r="1.3" fill="#5086C0"/>
<circle cx="197.3" cy="107.3" r="1.3" fill="#5086C0"/>
<circle cx="196.9" cy="99.2" r="1.3" fill="#5086C0"/>
<circle cx="207.0" cy="105.2" r="1.3" fill="#5086C0"/>
<circle cx="199.8" cy="112.6" r="1.3" fill="#5086C0"/>
<circle cx="200.6" cy="96.1" r="1.3" fill="#5086C0"/>
<circle cx="181.7" cy="117.7" r="1.3" fill="#5086C0"/>
<circle cx="189.9" cy="95.2" r="1.3" fill="#5086C0"/>
<circle cx="208.7" cy="90.5" r="1.3" fill="#5086C0"/>
<circle cx="216.0" cy="106.2" r="1.3" fill="#5086C0"/>
<circle cx="216.4" cy="76.6" r="1.3" fill="#5086C0"/>
<circle cx="184.9" cy="118.4" r="1.3" fill="#5086C0"/>
<circle cx="184.2" cy="121.6" r="1.3" fill="#5086C0"/>
<circle cx="169.6" cy="109.0" r="1.3" fill="#5086C0"/>
<circle cx="214.0" cy="94.3" r="1.3" fill="#5086C0"/>
<circle cx="183.6" cy="95.7" r="1.3" fill="#5086C0"/>
<circle cx="222.3" cy="100.6" r="1.3" fill="#5086C0"/>
<circle cx="197.1" cy="97.3" r="1.3" fill="#5086C0"/>
<circle cx="181.3" cy="117.0" r="1.3" fill="#5086C0"/>
<circle cx="225.5" cy="80.8" r="1.3" fill="#5086C0"/>
<circle cx="169.3" cy="104.4" r="1.3" fill="#5086C0"/>
<circle cx="186.8" cy="116.9" r="1.3" fill="#5086C0"/>
<circle cx="216.4" cy="81.9" r="1.3" fill="#5086C0"/>
<circle cx="200.7" cy="96.9" r="1.3" fill="#5086C0"/>
<circle cx="210.6" cy="100.2" r="1.3" fill="#5086C0"/>
<circle cx="212.6" cy="80.5" r="1.3" fill="#5086C0"/>
<circle cx="181.5" cy="96.3" r="1.3" fill="#5086C0"/>
<circle cx="179.0" cy="117.5" r="1.3" fill="#5086C0"/>
<circle cx="174.6" cy="100.7" r="1.3" fill="#5086C0"/>
<circle cx="210.7" cy="104.2" r="1.3" fill="#5086C0"/>
<circle cx="188.5" cy="122.6" r="1.3" fill="#5086C0"/>
<circle cx="228.2" cy="82.8" r="1.3" fill="#5086C0"/>
<circle cx="189.1" cy="93.1" r="1.3" fill="#5086C0"/>
<circle cx="227.0" cy="82.0" r="1.3" fill="#5086C0"/>
<circle cx="194.9" cy="110.8" r="1.3" fill="#5086C0"/>
<circle cx="187.6" cy="93.8" r="1.3" fill="#5086C0"/>
<circle cx="186.7" cy="93.5" r="1.3" fill="#5086C0"/>
<circle cx="205.1" cy="104.6" r="1.3" fill="#5086C0"/>
<circle cx="203.6" cy="105.3" r="1.3" fill="#5086C0"/>
<circle cx="225.3" cy="84.2" r="1.3" fill="#5086C0"/>
<circle cx="195.1" cy="111.1" r="1.3" fill="#5086C0"/>
<circle cx="184.7" cy="116.2" r="1.3" fill="#5086C0"/>
<circle cx="170.4" cy="112.2" r="1.3" fill="#5086C0"/>
<circle cx="221.6" cy="84.1" r="1.3" fill="#5086C0"/>
<circle cx="176.5" cy="102.3" r="1.3" fill="#5086C0"/>
<circle cx="184.8" cy="93.4" r="1.3" fill="#5086C0"/>
<circle cx="184.4" cy="120.8" r="1.3" fill="#5086C0"/>
<circle cx="197.9" cy="104.9" r="1.3" fill="#5086C0"/>
<circle cx="194.0" cy="92.8" r="1.3" fill="#5086C0"/>
<circle cx="212.4" cy="83.0" r="1.3" fill="#5086C0"/>
<circle cx="217.2" cy="85.2" r="1.3" fill="#5086C0"/>
<circle cx="210.5" cy="96.9" r="1.3" fill="#5086C0"/>
<circle cx="231.1" cy="84.1" r="1.3" fill="#5086C0"/>
<circle cx="191.1" cy="95.0" r="1.3" fill="#5086C0"/>
<circle cx="225.7" cy="84.1" r="1.3" fill="#5086C0"/>
<circle cx="195.3" cy="113.8" r="1.3" fill="#5086C0"/>
<circle cx="181.2" cy="118.6" r="1.3" fill="#5086C0"/>
<circle cx="211.1" cy="92.5" r="1.3" fill="#5086C0"/>
<circle cx="215.1" cy="79.2" r="1.3" fill="#5086C0"/>
<circle cx="211.5" cy="92.4" r="1.3" fill="#5086C0"/>
<circle cx="224.1" cy="80.6" r="1.3" fill="#5086C0"/>
<circle cx="191.5" cy="114.6" r="1.3" fill="#5086C0"/>
<circle cx="199.9" cy="114.2" r="1.3" fill="#5086C0"/>
<circle cx="213.2" cy="85.0" r="1.3" fill="#5086C0"/>
<circle cx="202.1" cy="111.6" r="1.3" fill="#5086C0"/>
<circle cx="229.1" cy="82.4" r="1.3" fill="#5086C0"/>
<circle cx="174.7" cy="119.5" r="1.3" fill="#5086C0"/>
<circle cx="198.7" cy="102.5" r="1.3" fill="#5086C0"/>
<circle cx="214.8" cy="79.0" r="1.3" fill="#5086C0"/>
<circle cx="210.0" cy="103.1" r="1.3" fill="#5086C0"/>
<circle cx="230.9" cy="83.4" r="1.3" fill="#5086C0"/>
<circle cx="220.2" cy="76.9" r="1.3" fill="#5086C0"/>
<circle cx="214.4" cy="94.4" r="1.3" fill="#5086C0"/>
<circle cx="214.0" cy="104.2" r="1.3" fill="#5086C0"/>
<circle cx="225.7" cy="97.2" r="1.3" fill="#5086C0"/>
<circle cx="212.2" cy="89.4" r="1.3" fill="#5086C0"/>
<circle cx="185.1" cy="94.5" r="1.3" fill="#5086C0"/>
<circle cx="219.8" cy="79.9" r="1.3" fill="#5086C0"/>
<circle cx="195.1" cy="103.1" r="1.3" fill="#5086C0"/>
<circle cx="198.1" cy="104.8" r="1.3" fill="#5086C0"/>
<circle cx="217.5" cy="79.5" r="1.3" fill="#5086C0"/>
<circle cx="220.3" cy="82.8" r="1.3" fill="#5086C0"/>
<circle cx="212.7" cy="83.3" r="1.3" fill="#5086C0"/>
<circle cx="210.3" cy="92.0" r="1.3" fill="#5086C0"/>
<circle cx="178.2" cy="96.3" r="1.3" fill="#5086C0"/>
<circle cx="204.0" cy="98.0" r="1.3" fill="#5086C0"/>
<circle cx="188.8" cy="94.8" r="1.3" fill="#5086C0"/>
<circle cx="169.8" cy="117.6" r="1.3" fill="#5086C0"/>
<circle cx="226.8" cy="94.4" r="1.3" fill="#5086C0"/>
<circle cx="182.9" cy="94.9" r="1.3" fill="#5086C0"/>
<circle cx="196.8" cy="115.1" r="1.3" fill="#5086C0"/>
<circle cx="169.5" cy="113.9" r="1.3" fill="#5086C0"/>
<circle cx="210.6" cy="90.9" r="1.3" fill="#5086C0"/>
<circle cx="224.4" cy="100.9" r="1.3" fill="#5086C0"/>
<circle cx="225.2" cy="98.0" r="1.3" fill="#5086C0"/>
<circle cx="173.0" cy="102.2" r="1.3" fill="#5086C0"/>
<circle cx="185.1" cy="114.5" r="1.3" fill="#5086C0"/>
<circle cx="214.1" cy="82.7" r="1.3" fill="#5086C0"/>
<circle cx="218.1" cy="104.6" r="1.3" fill="#5086C0"/>
<circle cx="205.5" cy="103.8" r="1.3" fill="#5086C0"/>
<circle cx="210.0" cy="108.8" r="1.3" fill="#5086C0"/>
<circle cx="220.5" cy="81.7" r="1.3" fill="#5086C0"/>
<circle cx="174.1" cy="108.8" r="1.3" fill="#5086C0"/>
<circle cx="210.7" cy="109.0" r="1.3" fill="#5086C0"/>
<circle cx="201.4" cy="96.9" r="1.3" fill="#5086C0"/>
<circle cx="208.7" cy="105.0" r="1.3" fill="#5086C0"/>
<circle cx="170.1" cy="109.0" r="1.3" fill="#5086C0"/>
<circle cx="197.6" cy="101.4" r="1.3" fill="#5086C0"/>
<circle cx="212.1" cy="92.6" r="1.3" fill="#5086C0"/>
<circle cx="200.0" cy="111.6" r="1.3" fill="#5086C0"/>
<circle cx="208.6" cy="93.8" r="1.3" fill="#5086C0"/>
<circle cx="185.9" cy="94.6" r="1.3" fill="#5086C0"/>
<circle cx="174.3" cy="100.6" r="1.3" fill="#5086C0"/>
<circle cx="170.0" cy="114.9" r="1.3" fill="#5086C0"/>
<circle cx="202.6" cy="106.9" r="1.3" fill="#5086C0"/>
<circle cx="228.5" cy="83.6" r="1.3" fill="#5086C0"/>
<circle cx="221.5" cy="101.5" r="1.3" fill="#5086C0"/>
<circle cx="211.0" cy="96.2" r="1.3" fill="#5086C0"/>
<circle cx="202.9" cy="104.5" r="1.3" fill="#5086C0"/>
<circle cx="190.1" cy="116.5" r="1.3" fill="#5086C0"/>
<circle cx="217.0" cy="106.2" r="1.3" fill="#5086C0"/>
<circle cx="209.1" cy="107.1" r="1.3" fill="#5086C0"/>
<circle cx="214.4" cy="103.0" r="1.3" fill="#5086C0"/>
<circle cx="172.8" cy="100.7" r="1.3" fill="#5086C0"/>
<circle cx="182.2" cy="93.7" r="1.3" fill="#5086C0"/>
<circle cx="230.2" cy="85.2" r="1.3" fill="#5086C0"/>
<circle cx="205.4" cy="101.9" r="1.3" fill="#5086C0"/>
<circle cx="168.5" cy="111.5" r="1.3" fill="#5086C0"/>
<circle cx="169.7" cy="104.8" r="1.3" fill="#5086C0"/>
<circle cx="174.2" cy="104.9" r="1.3" fill="#5086C0"/>
<circle cx="215.0" cy="90.2" r="1.3" fill="#5086C0"/>
<circle cx="208.5" cy="96.2" r="1.3" fill="#5086C0"/>
<circle cx="203.9" cy="104.3" r="1.3" fill="#5086C0"/>
<circle cx="221.7" cy="81.4" r="1.3" fill="#5086C0"/>
<circle cx="175.8" cy="101.5" r="1.3" fill="#5086C0"/>
<circle cx="203.9" cy="109.6" r="1.3" fill="#5086C0"/>
<circle cx="186.5" cy="116.1" r="1.3" fill="#5086C0"/>
<circle cx="193.4" cy="120.3" r="1.3" fill="#5086C0"/>
<circle cx="181.9" cy="96.6" r="1.3" fill="#5086C0"/>
<circle cx="212.0" cy="82.9" r="1.3" fill="#5086C0"/>
<circle cx="214.4" cy="103.8" r="1.3" fill="#5086C0"/>
<circle cx="211.3" cy="106.4" r="1.3" fill="#5086C0"/>
<circle cx="210.0" cy="88.3" r="1.3" fill="#5086C0"/>
<circle cx="198.5" cy="100.5" r="1.3" fill="#5086C0"/>
<circle cx="196.7" cy="115.1" r="1.3" fill="#5086C0"/>
<circle cx="200.4" cy="95.5" r="1.3" fill="#5086C0"/>
<circle cx="176.3" cy="119.8" r="1.3" fill="#5086C0"/>
<circle cx="190.7" cy="93.6" r="1.3" fill="#5086C0"/>
<circle cx="182.1" cy="124.1" r="1.3" fill="#5086C0"/>
<circle cx="214.6" cy="87.8" r="1.3" fill="#5086C0"/>
<circle cx="201.8" cy="109.7" r="1.3" fill="#5086C0"/>
<circle cx="212.0" cy="84.7" r="1.3" fill="#5086C0"/>
<circle cx="197.9" cy="103.8" r="1.3" fill="#5086C0"/>
<circle cx="206.8" cy="101.0" r="1.3" fill="#5086C0"/>
<circle cx="182.7" cy="122.8" r="1.3" fill="#5086C0"/>
<circle cx="196.8" cy="99.4" r="1.3" fill="#5086C0"/>
<circle cx="194.2" cy="112.9" r="1.3" fill="#5086C0"/>
<circle cx="171.3" cy="108.3" r="1.3" fill="#5086C0"/>
<circle cx="203.5" cy="101.1" r="1.3" fill="#5086C0"/>
<circle cx="221.3" cy="99.7" r="1.3" fill="#5086C0"/>
<circle cx="171.1" cy="107.7" r="1.3" fill="#5086C0"/>
<circle cx="199.4" cy="114.9" r="1.3" fill="#5086C0"/>
<circle cx="194.9" cy="93.8" r="1.3" fill="#5086C0"/>
<circle cx="231.3" cy="88.3" r="1.3" fill="#5086C0"/>
<circle cx="211.2" cy="106.1" r="1.3" fill="#5086C0"/>
<circle cx="191.3" cy="112.0" r="1.3" fill="#5086C0"/>
<circle cx="219.5" cy="83.3" r="1.3" fill="#5086C0"/>
<circle cx="220.4" cy="100.6" r="1.3" fill="#5086C0"/>
<circle cx="226.7" cy="81.3" r="1.3" fill="#5086C0"/>
<circle cx="173.7" cy="116.5" r="1.3" fill="#5086C0"/>
<circle cx="214.2" cy="84.7" r="1.3" fill="#5086C0"/>
<circle cx="177.2" cy="118.5" r="1.3" fill="#5086C0"/>
<circle cx="200.4" cy="104.6" r="1.3" fill="#5086C0"/>
<circle cx="206.3" cy="98.9" r="1.3" fill="#5086C0"/>
<circle cx="178.4" cy="120.1" r="1.3" fill="#5086C0"/>
<circle cx="202.1" cy="109.6" r="1.3" fill="#5086C0"/>
<circle cx="182.5" cy="94.9" r="1.3" fill="#5086C0"/>
<circle cx="220.6" cy="79.1" r="1.3" fill="#5086C0"/>
<circle cx="199.5" cy="97.4" r="1.3" fill="#5086C0"/>
<circle cx="198.5" cy="115.8" r="1.3" fill="#5086C0"/>
<circle cx="202.7" cy="99.3" r="1.3" fill="#5086C0"/>
<circle cx="226.3" cy="96.3" r="1.3" fill="#5086C0"/>
<circle cx="173.5" cy="105.9" r="1.3" fill="#5086C0"/>
<circle cx="185.4" cy="120.4" r="1.3" fill="#5086C0"/>
<circle cx="206.4" cy="95.7" r="1.3" fill="#5086C0"/>
<circle cx="199.4" cy="107.5" r="1.3" fill="#5086C0"/>
<circle cx="229.6" cy="91.0" r="1.3" fill="#5086C0"/>
<circle cx="214.9" cy="108.9" r="1.3" fill="#5086C0"/>
<circle cx="216.8" cy="81.0" r="1.3" fill="#5086C0"/>
<circle cx="185.2" cy="115.9" r="1.3" fill="#5086C0"/>
<circle cx="206.3" cy="103.3" r="1.3" fill="#5086C0"/>
<circle cx="182.4" cy="116.1" r="1.3" fill="#5086C0"/>
<circle cx="206.1" cy="103.8" r="1.3" fill="#5086C0"/>
<circle cx="188.2" cy="94.2" r="1.3" fill="#5086C0"/>
<circle cx="204.4" cy="104.0" r="1.3" fill="#5086C0"/>
<circle cx="171.7" cy="117.6" r="1.3" fill="#5086C0"/>
<circle cx="171.9" cy="108.0" r="1.3" fill="#5086C0"/>
<circle cx="210.5" cy="106.7" r="1.3" fill="#5086C0"/>
<circle cx="229.6" cy="94.2" r="1.3" fill="#5086C0"/>
<circle cx="186.1" cy="96.6" r="1.3" fill="#5086C0"/>
<circle cx="211.1" cy="94.3" r="1.3" fill="#5086C0"/>
<circle cx="227.6" cy="83.8" r="1.3" fill="#5086C0"/>
<circle cx="183.7" cy="95.5" r="1.3" fill="#5086C0"/>
<circle cx="224.3" cy="99.5" r="1.3" fill="#5086C0"/>
<circle cx="207.1" cy="111.0" r="1.3" fill="#5086C0"/>
<circle cx="213.7" cy="92.5" r="1.3" fill="#5086C0"/>
<circle cx="199.8" cy="106.7" r="1.3" fill="#5086C0"/>
<circle cx="224.7" cy="79.7" r="1.3" fill="#5086C0"/>
<circle cx="185.8" cy="121.1" r="1.3" fill="#5086C0"/>
<circle cx="215.8" cy="75.7" r="1.3" fill="#5086C0"/>
<circle cx="186.1" cy="117.6" r="1.3" fill="#5086C0"/>
<circle cx="173.0" cy="116.1" r="1.3" fill="#5086C0"/>
<circle cx="168.7" cy="110.2" r="1.3" fill="#5086C0"/>
<circle cx="222.9" cy="99.4" r="1.3" fill="#5086C0"/>
<circle cx="174.2" cy="103.7" r="1.3" fill="#5086C0"/>
<circle cx="226.3" cy="81.4" r="1.3" fill="#5086C0"/>
<circle cx="178.6" cy="118.6" r="1.3" fill="#5086C0"/>
<circle cx="208.6" cy="98.1" r="1.3" fill="#5086C0"/>
<circle cx="229.0" cy="92.2" r="1.3" fill="#5086C0"/>
<circle cx="199.2" cy="113.6" r="1.3" fill="#5086C0"/>
<circle cx="203.4" cy="110.9" r="1.3" fill="#5086C0"/>
<circle cx="191.6" cy="95.7" r="1.3" fill="#5086C0"/>
<circle cx="184.1" cy="120.5" r="1.3" fill="#5086C0"/>
<circle cx="223.8" cy="84.2" r="1.3" fill="#5086C0"/>
<circle cx="187.6" cy="93.0" r="1.3" fill="#5086C0"/>
<circle cx="201.0" cy="95.6" r="1.3" fill="#5086C0"/>
<circle cx="195.1" cy="107.2" r="1.3" fill="#5086C0"/>
<circle cx="171.9" cy="106.3" r="1.3" fill="#5086C0"/>
<circle cx="227.3" cy="80.6" r="1.3" fill="#5086C0"/>
<circle cx="191.4" cy="111.2" r="1.3" fill="#5086C0"/>
<circle cx="219.5" cy="78.4" r="1.3" fill="#5086C0"/>
<circle cx="195.6" cy="105.3" r="1.3" fill="#5086C0"/>
<circle cx="201.4" cy="111.5" r="1.3" fill="#5086C0"/>
<circle cx="171.9" cy="113.5" r="1.3" fill="#5086C0"/>
<circle cx="201.5" cy="109.8" r="1.3" fill="#5086C0"/>
<circle cx="174.2" cy="106.9" r="1.3" fill="#5086C0"/>
<circle cx="185.1" cy="115.2" r="1.3" fill="#5086C0"/>
<circle cx="181.0" cy="95.0" r="1.3" fill="#5086C0"/>
<circle cx="198.6" cy="103.3" r="1.3" fill="#5086C0"/>
<circle cx="180.9" cy="120.0" r="1.3" fill="#5086C0"/>
<circle cx="208.1" cy="97.8" r="1.3" fill="#5086C0"/>
<circle cx="168.6" cy="113.7" r="1.3" fill="#5086C0"/>
<circle cx="216.8" cy="105.1" r="1.3" fill="#5086C0"/>
<circle cx="221.2" cy="103.6" r="1.3" fill="#5086C0"/>
<circle cx="174.9" cy="115.2" r="1.3" fill="#5086C0"/>
<circle cx="176.8" cy="97.3" r="1.3" fill="#5086C0"/>
<circle cx="213.0" cy="81.5" r="1.3" fill="#5086C0"/>
<circle cx="203.8" cy="97.9" r="1.3" fill="#5086C0"/>
<circle cx="229.7" cy="84.3" r="1.3" fill="#5086C0"/>
<circle cx="193.1" cy="115.1" r="1.3" fill="#5086C0"/>
<circle cx="214.6" cy="102.9" r="1.3" fill="#5086C0"/>
<circle cx="221.4" cy="103.0" r="1.3" fill="#5086C0"/>
<circle cx="213.3" cy="91.1" r="1.3" fill="#5086C0"/>
<circle cx="208.6" cy="105.5" r="1.3" fill="#5086C0"/>
<circle cx="222.3" cy="97.7" r="1.3" fill="#5086C0"/>
<circle cx="201.4" cy="110.6" r="1.3" fill="#5086C0"/>
<circle cx="203.4" cy="106.9" r="1.3" fill="#5086C0"/>
<circle cx="212.4" cy="93.1" r="1.3" fill="#5086C0"/>
<circle cx="203.6" cy="99.1" r="1.3" fill="#5086C0"/>
<circle cx="203.1" cy="108.9" r="1.3" fill="#5086C0"/>
<circle cx="172.9" cy="103.9" r="1.3" fill="#5086C0"/>
<circle cx="217.8" cy="79.9" r="1.3" fill="#5086C0"/>
<circle cx="198.3" cy="108.8" r="1.3" fill="#5086C0"/>
<circle cx="200.9" cy="111.2" r="1.3" fill="#5086C0"/>
<circle cx="221.5" cy="79.1" r="1.3" fill="#5086C0"/>
<circle cx="184.9" cy="117.9" r="1.3" fill="#5086C0"/>
<circle cx="203.1" cy="102.5" r="1.3" fill="#5086C0"/>
<circle cx="211.9" cy="79.2" r="1.3" fill="#5086C0"/>
<circle cx="214.8" cy="85.2" r="1.3" fill="#5086C0"/>
<circle cx="204.2" cy="96.3" r="1.3" fill="#5086C0"/>
<circle cx="198.4" cy="94.4" r="1.3" fill="#5086C0"/>
<circle cx="222.9" cy="77.3" r="1.3" fill="#5086C0"/>
<circle cx="221.7" cy="103.1" r="1.3" fill="#5086C0"/>
<circle cx="208.3" cy="94.8" r="1.3" fill="#5086C0"/>
<circle cx="223.5" cy="96.4" r="1.3" fill="#5086C0"/>
<circle cx="213.6" cy="86.3" r="1.3" fill="#2B4A80"/>
<circle cx="185.6" cy="113.4" r="1.3" fill="#2B4A80"/>
<circle cx="184.1" cy="98.4" r="1.3" fill="#2B4A80"/>
<circle cx="190.2" cy="96.9" r="1.3" fill="#2B4A80"/>
<circle cx="219.1" cy="84.3" r="1.3" fill="#2B4A80"/>
<circle cx="178.9" cy="115.3" r="1.3" fill="#2B4A80"/>
<circle cx="181.4" cy="116.3" r="1.3" fill="#2B4A80"/>
<circle cx="188.7" cy="102.7" r="1.3" fill="#2B4A80"/>
<circle cx="191.0" cy="106.7" r="1.3" fill="#2B4A80"/>
<circle cx="181.5" cy="113.1" r="1.3" fill="#2B4A80"/>
<circle cx="222.6" cy="87.5" r="1.3" fill="#2B4A80"/>
<circle cx="174.3" cy="105.7" r="1.3" fill="#2B4A80"/>
<circle cx="189.4" cy="98.0" r="1.3" fill="#2B4A80"/>
<circle cx="191.4" cy="100.9" r="1.3" fill="#2B4A80"/>
<circle cx="186.3" cy="101.6" r="1.3" fill="#2B4A80"/>
<circle cx="213.9" cy="101.6" r="1.3" fill="#2B4A80"/>
<circle cx="214.0" cy="100.4" r="1.3" fill="#2B4A80"/>
<circle cx="188.0" cy="98.7" r="1.3" fill="#2B4A80"/>
<circle cx="215.5" cy="90.5" r="1.3" fill="#2B4A80"/>
<circle cx="218.9" cy="85.0" r="1.3" fill="#2B4A80"/>
<circle cx="187.0" cy="115.2" r="1.3" fill="#2B4A80"/>
<circle cx="173.4" cy="111.8" r="1.3" fill="#2B4A80"/>
<circle cx="191.2" cy="102.5" r="1.3" fill="#2B4A80"/>
<circle cx="216.8" cy="98.8" r="1.3" fill="#2B4A80"/>
<circle cx="221.3" cy="94.3" r="1.3" fill="#2B4A80"/>
<circle cx="223.9" cy="95.9" r="1.3" fill="#2B4A80"/>
<circle cx="177.6" cy="102.5" r="1.3" fill="#2B4A80"/>
<circle cx="179.1" cy="104.2" r="1.3" fill="#2B4A80"/>
<circle cx="226.5" cy="85.9" r="1.3" fill="#2B4A80"/>
<circle cx="177.3" cy="106.3" r="1.3" fill="#2B4A80"/>
<circle cx="185.6" cy="112.0" r="1.3" fill="#2B4A80"/>
<circle cx="182.4" cy="103.2" r="1.3" fill="#2B4A80"/>
<circle cx="179.6" cy="110.5" r="1.3" fill="#2B4A80"/>
<circle cx="219.4" cy="85.4" r="1.3" fill="#2B4A80"/>
<circle cx="179.6" cy="111.2" r="1.3" fill="#2B4A80"/>
<circle cx="185.8" cy="110.6" r="1.3" fill="#2B4A80"/>
<circle cx="177.8" cy="106.4" r="1.3" fill="#2B4A80"/>
<circle cx="220.3" cy="87.4" r="1.3" fill="#2B4A80"/>
<circle cx="217.5" cy="91.5" r="1.3" fill="#2B4A80"/>
<circle cx="180.3" cy="112.2" r="1.3" fill="#2B4A80"/>
<circle cx="179.2" cy="109.6" r="1.3" fill="#2B4A80"/>
<circle cx="221.0" cy="92.4" r="1.3" fill="#2B4A80"/>
<circle cx="182.6" cy="106.1" r="1.3" fill="#2B4A80"/>
<circle cx="222.1" cy="96.7" r="1.3" fill="#2B4A80"/>
<circle cx="176.2" cy="105.4" r="1.3" fill="#2B4A80"/>
<circle cx="220.7" cy="86.9" r="1.3" fill="#2B4A80"/>
<circle cx="186.1" cy="105.9" r="1.3" fill="#2B4A80"/>
<circle cx="195.9" cy="102.1" r="1.3" fill="#2B4A80"/>
<circle cx="180.7" cy="115.4" r="1.3" fill="#2B4A80"/>
<circle cx="226.7" cy="90.1" r="1.3" fill="#2B4A80"/>
<circle cx="185.3" cy="106.9" r="1.3" fill="#2B4A80"/>
<circle cx="187.7" cy="95.9" r="1.3" fill="#2B4A80"/>
<circle cx="180.9" cy="104.3" r="1.3" fill="#2B4A80"/>
<circle cx="191.8" cy="112.2" r="1.3" fill="#2B4A80"/>
<circle cx="213.1" cy="93.8" r="1.3" fill="#2B4A80"/>
<circle cx="225.0" cy="90.1" r="1.3" fill="#2B4A80"/>
<circle cx="223.9" cy="92.8" r="1.3" fill="#2B4A80"/>
<circle cx="223.6" cy="89.8" r="1.3" fill="#2B4A80"/>
<circle cx="192.8" cy="104.4" r="1.3" fill="#2B4A80"/>
<circle cx="187.1" cy="110.7" r="1.3" fill="#2B4A80"/>
<circle cx="188.8" cy="98.6" r="1.3" fill="#2B4A80"/>
<circle cx="189.3" cy="101.2" r="1.3" fill="#2B4A80"/>
<circle cx="217.4" cy="94.7" r="1.3" fill="#2B4A80"/>
<circle cx="183.4" cy="114.4" r="1.3" fill="#2B4A80"/>
<circle cx="210.7" cy="98.1" r="1.3" fill="#2B4A80"/>
<circle cx="223.8" cy="93.2" r="1.3" fill="#2B4A80"/>
<circle cx="224.9" cy="85.0" r="1.3" fill="#2B4A80"/>
<circle cx="219.4" cy="89.0" r="1.3" fill="#2B4A80"/>
<circle cx="191.5" cy="110.8" r="1.3" fill="#2B4A80"/>
<circle cx="190.4" cy="96.9" r="1.3" fill="#2B4A80"/>
<circle cx="221.0" cy="96.1" r="1.3" fill="#2B4A80"/>
<circle cx="196.2" cy="99.8" r="1.3" fill="#2B4A80"/>
<circle cx="195.1" cy="107.7" r="1.3" fill="#2B4A80"/>
<circle cx="185.8" cy="113.2" r="1.3" fill="#2B4A80"/>
<circle cx="179.6" cy="110.3" r="1.3" fill="#2B4A80"/>
<circle cx="185.1" cy="116.9" r="1.3" fill="#2B4A80"/>
<circle cx="174.6" cy="111.1" r="1.3" fill="#2B4A80"/>
<circle cx="219.3" cy="98.9" r="1.3" fill="#2B4A80"/>
<circle cx="184.5" cy="108.8" r="1.3" fill="#2B4A80"/>
<circle cx="223.5" cy="86.9" r="1.3" fill="#2B4A80"/>
<circle cx="218.2" cy="81.6" r="1.3" fill="#2B4A80"/>
<circle cx="175.5" cy="111.2" r="1.3" fill="#2B4A80"/>
<circle cx="187.3" cy="98.0" r="1.3" fill="#2B4A80"/>
<circle cx="176.5" cy="104.0" r="1.3" fill="#2B4A80"/>
<circle cx="215.7" cy="90.4" r="1.3" fill="#2B4A80"/>
<circle cx="180.7" cy="107.9" r="1.3" fill="#2B4A80"/>
<circle cx="215.5" cy="95.2" r="1.3" fill="#2B4A80"/>
<circle cx="176.3" cy="105.2" r="1.3" fill="#2B4A80"/>
<circle cx="182.5" cy="109.6" r="1.3" fill="#2B4A80"/>
<circle cx="188.3" cy="100.3" r="1.3" fill="#2B4A80"/>
<circle cx="226.1" cy="94.3" r="1.3" fill="#2B4A80"/>
<circle cx="220.3" cy="87.2" r="1.3" fill="#2B4A80"/>
<circle cx="187.6" cy="100.5" r="1.3" fill="#2B4A80"/>
<circle cx="187.8" cy="104.0" r="1.3" fill="#2B4A80"/>
<circle cx="215.0" cy="90.8" r="1.3" fill="#2B4A80"/>
<circle cx="179.7" cy="99.8" r="1.3" fill="#2B4A80"/>
<circle cx="179.4" cy="113.3" r="1.3" fill="#2B4A80"/>
<circle cx="186.4" cy="102.6" r="1.3" fill="#2B4A80"/>
<circle cx="217.8" cy="90.1" r="1.3" fill="#2B4A80"/>
<circle cx="220.9" cy="89.7" r="1.3" fill="#2B4A80"/>
<circle cx="216.5" cy="88.0" r="1.3" fill="#2B4A80"/>
<circle cx="213.7" cy="94.6" r="1.3" fill="#2B4A80"/>
<circle cx="183.8" cy="115.1" r="1.3" fill="#2B4A80"/>
<circle cx="221.7" cy="91.9" r="1.3" fill="#2B4A80"/>
<circle cx="185.2" cy="111.4" r="1.3" fill="#2B4A80"/>
<circle cx="190.5" cy="112.3" r="1.3" fill="#2B4A80"/>
<circle cx="226.4" cy="85.2" r="1.3" fill="#2B4A80"/>
<circle cx="216.1" cy="101.2" r="1.3" fill="#2B4A80"/>
<circle cx="215.2" cy="97.2" r="1.3" fill="#2B4A80"/>
<circle cx="223.3" cy="90.9" r="1.3" fill="#2B4A80"/>
<circle cx="182.7" cy="109.9" r="1.3" fill="#2B4A80"/>
<circle cx="222.1" cy="89.4" r="1.3" fill="#2B4A80"/>
<circle cx="199.1" cy="102.1" r="1.3" fill="#2B4A80"/>
<circle cx="183.9" cy="106.3" r="1.3" fill="#2B4A80"/>
<circle cx="185.3" cy="111.9" r="1.3" fill="#2B4A80"/>
<circle cx="174.9" cy="106.2" r="1.3" fill="#2B4A80"/>
<circle cx="211.4" cy="98.5" r="1.3" fill="#2B4A80"/>
<circle cx="191.6" cy="105.1" r="1.3" fill="#2B4A80"/>
<circle cx="180.6" cy="107.6" r="1.3" fill="#2B4A80"/>
<circle cx="189.5" cy="108.5" r="1.3" fill="#2B4A80"/>
<circle cx="220.3" cy="97.7" r="1.3" fill="#2B4A80"/>
<circle cx="175.5" cy="107.8" r="1.3" fill="#2B4A80"/>
<circle cx="192.1" cy="102.7" r="1.3" fill="#2B4A80"/>
<circle cx="215.3" cy="91.4" r="1.3" fill="#2B4A80"/>
<circle cx="220.5" cy="97.3" r="1.3" fill="#2B4A80"/>
<circle cx="175.3" cy="105.0" r="1.3" fill="#2B4A80"/>
<circle cx="175.3" cy="111.4" r="1.3" fill="#2B4A80"/>
<circle cx="174.4" cy="109.9" r="1.3" fill="#2B4A80"/>
<circle cx="217.5" cy="90.6" r="1.3" fill="#2B4A80"/>
<circle cx="187.5" cy="99.8" r="1.3" fill="#2B4A80"/>
<circle cx="224.4" cy="89.8" r="1.3" fill="#2B4A80"/>
<circle cx="194.7" cy="100.1" r="1.3" fill="#2B4A80"/>
<circle cx="196.4" cy="100.5" r="1.3" fill="#2B4A80"/>
<circle cx="176.5" cy="108.8" r="1.3" fill="#2B4A80"/>
<circle cx="221.4" cy="89.9" r="1.3" fill="#2B4A80"/>
<circle cx="195.5" cy="99.9" r="1.3" fill="#2B4A80"/>
<circle cx="185.6" cy="115.2" r="1.3" fill="#2B4A80"/>
<circle cx="221.0" cy="85.5" r="1.3" fill="#2B4A80"/>
<circle cx="222.3" cy="93.3" r="1.3" fill="#2B4A80"/>
<circle cx="172.8" cy="109.4" r="1.3" fill="#2B4A80"/>
<circle cx="182.0" cy="117.1" r="1.3" fill="#2B4A80"/>
<circle cx="186.8" cy="113.0" r="1.3" fill="#2B4A80"/>
<circle cx="223.2" cy="92.1" r="1.3" fill="#2B4A80"/>
<circle cx="185.5" cy="106.7" r="1.3" fill="#2B4A80"/>
<circle cx="178.0" cy="114.9" r="1.3" fill="#2B4A80"/>
<circle cx="179.5" cy="112.6" r="1.3" fill="#2B4A80"/>
<circle cx="216.3" cy="90.9" r="1.3" fill="#2B4A80"/>
<circle cx="191.4" cy="103.9" r="1.3" fill="#2B4A80"/>
<circle cx="194.5" cy="102.3" r="1.3" fill="#2B4A80"/>
<circle cx="196.1" cy="101.6" r="1.3" fill="#2B4A80"/>
<circle cx="190.3" cy="108.4" r="1.3" fill="#2B4A80"/>
<circle cx="194.9" cy="108.0" r="1.3" fill="#2B4A80"/>
<circle cx="220.4" cy="98.0" r="1.3" fill="#2B4A80"/>
<circle cx="188.0" cy="97.2" r="1.3" fill="#2B4A80"/>
<circle cx="198.0" cy="106.7" r="1.3" fill="#2B4A80"/>
<circle cx="227.7" cy="87.2" r="1.3" fill="#2B4A80"/>
<circle cx="222.2" cy="86.5" r="1.3" fill="#2B4A80"/>
<circle cx="217.0" cy="87.9" r="1.3" fill="#2B4A80"/>
<circle cx="219.5" cy="99.6" r="1.3" fill="#2B4A80"/>
<circle cx="217.1" cy="93.8" r="1.3" fill="#2B4A80"/>
<circle cx="183.9" cy="113.6" r="1.3" fill="#2B4A80"/>
<circle cx="180.6" cy="111.5" r="1.3" fill="#2B4A80"/>
<circle cx="175.8" cy="110.9" r="1.3" fill="#2B4A80"/>
<circle cx="193.8" cy="105.7" r="1.3" fill="#2B4A80"/>
<circle cx="187.4" cy="105.6" r="1.3" fill="#2B4A80"/>
<circle cx="182.2" cy="101.0" r="1.3" fill="#2B4A80"/>
<circle cx="186.5" cy="110.4" r="1.3" fill="#2B4A80"/>
<circle cx="172.5" cy="107.2" r="1.3" fill="#2B4A80"/>
<circle cx="221.6" cy="93.1" r="1.3" fill="#2B4A80"/>
<circle cx="221.1" cy="95.6" r="1.3" fill="#2B4A80"/>
<circle cx="219.9" cy="98.9" r="1.3" fill="#2B4A80"/>
<circle cx="189.7" cy="104.9" r="1.3" fill="#2B4A80"/>
<circle cx="173.9" cy="107.4" r="1.3" fill="#2B4A80"/>
<circle cx="220.7" cy="88.0" r="1.3" fill="#2B4A80"/>
<circle cx="191.7" cy="103.2" r="1.3" fill="#2B4A80"/>
<circle cx="187.2" cy="100.9" r="1.3" fill="#2B4A80"/>
<circle cx="225.1" cy="84.0" r="1.3" fill="#2B4A80"/>
<circle cx="218.3" cy="96.9" r="1.3" fill="#2B4A80"/>
<circle cx="180.2" cy="107.9" r="1.3" fill="#2B4A80"/>
<circle cx="219.3" cy="97.4" r="1.3" fill="#2B4A80"/>
<circle cx="223.3" cy="94.0" r="1.3" fill="#2B4A80"/>
<circle cx="219.5" cy="98.2" r="1.3" fill="#2B4A80"/>
<circle cx="181.1" cy="104.1" r="1.3" fill="#2B4A80"/>
<circle cx="192.1" cy="112.9" r="1.3" fill="#2B4A80"/>
<circle cx="223.1" cy="86.6" r="1.3" fill="#2B4A80"/>
<circle cx="219.1" cy="91.1" r="1.3" fill="#2B4A80"/>
<circle cx="181.6" cy="101.6" r="1.3" fill="#2B4A80"/>
<circle cx="219.3" cy="91.5" r="1.3" fill="#2B4A80"/>
<circle cx="223.9" cy="84.3" r="1.3" fill="#2B4A80"/>
<circle cx="190.0" cy="96.9" r="1.3" fill="#2B4A80"/>
<circle cx="183.6" cy="114.0" r="1.3" fill="#2B4A80"/>
<circle cx="178.0" cy="109.8" r="1.3" fill="#2B4A80"/>
<circle cx="225.3" cy="90.8" r="1.3" fill="#2B4A80"/>
<circle cx="219.2" cy="89.7" r="1.3" fill="#2B4A80"/>
<circle cx="223.6" cy="92.4" r="1.3" fill="#2B4A80"/>
<circle cx="218.5" cy="82.5" r="1.3" fill="#2B4A80"/>
<circle cx="217.6" cy="87.3" r="1.3" fill="#2B4A80"/>
<circle cx="195.9" cy="102.5" r="1.3" fill="#2B4A80"/>
<circle cx="216.1" cy="85.8" r="1.3" fill="#2B4A80"/>
<circle cx="223.5" cy="88.5" r="1.3" fill="#2B4A80"/>
<circle cx="180.6" cy="107.3" r="1.3" fill="#2B4A80"/>
<circle cx="175.7" cy="114.0" r="1.3" fill="#2B4A80"/>
<circle cx="186.8" cy="112.9" r="1.3" fill="#2B4A80"/>
<circle cx="181.3" cy="104.7" r="1.3" fill="#2B4A80"/>
<circle cx="189.3" cy="107.9" r="1.3" fill="#2B4A80"/>
<circle cx="180.7" cy="110.9" r="1.3" fill="#2B4A80"/>
<circle cx="182.2" cy="116.6" r="1.3" fill="#2B4A80"/>
<circle cx="188.7" cy="104.8" r="1.3" fill="#2B4A80"/>
<circle cx="191.0" cy="106.3" r="1.3" fill="#2B4A80"/>
<circle cx="180.4" cy="103.2" r="1.3" fill="#2B4A80"/>
<circle cx="181.9" cy="102.9" r="1.3" fill="#2B4A80"/>
<circle cx="194.2" cy="106.2" r="1.3" fill="#2B4A80"/>
<circle cx="191.8" cy="102.2" r="1.3" fill="#2B4A80"/>
<circle cx="221.6" cy="84.3" r="1.3" fill="#2B4A80"/>
<circle cx="190.3" cy="96.6" r="1.3" fill="#2B4A80"/>
<circle cx="187.5" cy="104.9" r="1.3" fill="#2B4A80"/>
<circle cx="181.9" cy="101.7" r="1.3" fill="#2B4A80"/>
<circle cx="179.9" cy="101.6" r="1.3" fill="#2B4A80"/>
<circle cx="183.8" cy="104.8" r="1.3" fill="#2B4A80"/>
<circle cx="175.6" cy="111.8" r="1.3" fill="#2B4A80"/>
<circle cx="217.2" cy="97.8" r="1.3" fill="#2B4A80"/>
<circle cx="184.9" cy="113.6" r="1.3" fill="#2B4A80"/>
<circle cx="213.3" cy="83.7" r="1.3" fill="#2B4A80"/>
<circle cx="197.6" cy="104.7" r="1.3" fill="#2B4A80"/>
<circle cx="181.0" cy="100.2" r="1.3" fill="#2B4A80"/>
<circle cx="184.5" cy="111.8" r="1.3" fill="#2B4A80"/>
<circle cx="180.3" cy="104.2" r="1.3" fill="#2B4A80"/>
<circle cx="212.5" cy="98.0" r="1.3" fill="#2B4A80"/>
<circle cx="224.1" cy="85.1" r="1.3" fill="#2B4A80"/>
<circle cx="223.2" cy="95.6" r="1.3" fill="#2B4A80"/>
<circle cx="195.8" cy="100.6" r="1.3" fill="#2B4A80"/>
<circle cx="184.3" cy="101.2" r="1.3" fill="#2B4A80"/>
<circle cx="178.4" cy="111.2" r="1.3" fill="#2B4A80"/>
<circle cx="192.2" cy="95.6" r="1.3" fill="#2B4A80"/>
<circle cx="192.5" cy="110.9" r="1.3" fill="#2B4A80"/>
<circle cx="193.9" cy="107.7" r="1.3" fill="#2B4A80"/>
<circle cx="215.8" cy="97.2" r="1.3" fill="#2B4A80"/>
<circle cx="184.3" cy="102.2" r="1.3" fill="#2B4A80"/>
<circle cx="182.4" cy="109.0" r="1.3" fill="#2B4A80"/>
<circle cx="220.8" cy="83.7" r="1.3" fill="#2B4A80"/>
<circle cx="183.6" cy="111.3" r="1.3" fill="#2B4A80"/>
<circle cx="191.7" cy="108.0" r="1.3" fill="#2B4A80"/>
<circle cx="193.2" cy="99.5" r="1.3" fill="#2B4A80"/>
<circle cx="219.5" cy="92.6" r="1.3" fill="#2B4A80"/>
</g>
<rect x="52.5" y="44.4" width="209.30" height="167.60" fill="none" stroke="#231F20" stroke-width="1.3"/>
<line x1="49.30" y1="212.00" x2="52.50" y2="212.00" stroke="#231F20" stroke-width="1.1"/>
<text x="47.30" y="215.00" font-size="8.6" text-anchor="end" fill="#333" stroke="#333">0.3</text>
<line x1="50.90" y1="200.03" x2="52.50" y2="200.03" stroke="#231F20" stroke-width="1.1"/>
<line x1="49.30" y1="188.06" x2="52.50" y2="188.06" stroke="#231F20" stroke-width="1.1"/>
<text x="47.30" y="191.06" font-size="8.6" text-anchor="end" fill="#333" stroke="#333">0.4</text>
<line x1="50.90" y1="176.09" x2="52.50" y2="176.09" stroke="#231F20" stroke-width="1.1"/>
<line x1="49.30" y1="164.11" x2="52.50" y2="164.11" stroke="#231F20" stroke-width="1.1"/>
<text x="47.30" y="167.11" font-size="8.6" text-anchor="end" fill="#333" stroke="#333">0.5</text>
<line x1="50.90" y1="152.14" x2="52.50" y2="152.14" stroke="#231F20" stroke-width="1.1"/>
<line x1="49.30" y1="140.17" x2="52.50" y2="140.17" stroke="#231F20" stroke-width="1.1"/>
<text x="47.30" y="143.17" font-size="8.6" text-anchor="end" fill="#333" stroke="#333">0.6</text>
<line x1="50.90" y1="128.20" x2="52.50" y2="128.20" stroke="#231F20" stroke-width="1.1"/>
<line x1="49.30" y1="116.23" x2="52.50" y2="116.23" stroke="#231F20" stroke-width="1.1"/>
<text x="47.30" y="119.23" font-size="8.6" text-anchor="end" fill="#333" stroke="#333">0.7</text>
<line x1="50.90" y1="104.26" x2="52.50" y2="104.26" stroke="#231F20" stroke-width="1.1"/>
<line x1="49.30" y1="92.29" x2="52.50" y2="92.29" stroke="#231F20" stroke-width="1.1"/>
<text x="47.30" y="95.29" font-size="8.6" text-anchor="end" fill="#333" stroke="#333">0.8</text>
<line x1="50.90" y1="80.31" x2="52.50" y2="80.31" stroke="#231F20" stroke-width="1.1"/>
<line x1="49.30" y1="68.34" x2="52.50" y2="68.34" stroke="#231F20" stroke-width="1.1"/>
<text x="47.30" y="71.34" font-size="8.6" text-anchor="end" fill="#333" stroke="#333">0.9</text>
<line x1="50.90" y1="56.37" x2="52.50" y2="56.37" stroke="#231F20" stroke-width="1.1"/>
<line x1="49.30" y1="44.40" x2="52.50" y2="44.40" stroke="#231F20" stroke-width="1.1"/>
<text x="47.30" y="47.40" font-size="8.6" text-anchor="end" fill="#333" stroke="#333">1.0</text>
<line x1="52.50" y1="212.00" x2="52.50" y2="215.20" stroke="#231F20" stroke-width="1.1"/>
<text x="52.50" y="224.60" font-size="8.6" text-anchor="middle" fill="#333" stroke="#333">0.2</text>
<line x1="65.58" y1="212.00" x2="65.58" y2="213.60" stroke="#231F20" stroke-width="1.1"/>
<line x1="78.66" y1="212.00" x2="78.66" y2="215.20" stroke="#231F20" stroke-width="1.1"/>
<text x="78.66" y="224.60" font-size="8.6" text-anchor="middle" fill="#333" stroke="#333">0.3</text>
<line x1="91.74" y1="212.00" x2="91.74" y2="213.60" stroke="#231F20" stroke-width="1.1"/>
<line x1="104.83" y1="212.00" x2="104.83" y2="215.20" stroke="#231F20" stroke-width="1.1"/>
<text x="104.83" y="224.60" font-size="8.6" text-anchor="middle" fill="#333" stroke="#333">0.4</text>
<line x1="117.91" y1="212.00" x2="117.91" y2="213.60" stroke="#231F20" stroke-width="1.1"/>
<line x1="130.99" y1="212.00" x2="130.99" y2="215.20" stroke="#231F20" stroke-width="1.1"/>
<text x="130.99" y="224.60" font-size="8.6" text-anchor="middle" fill="#333" stroke="#333">0.5</text>
<line x1="144.07" y1="212.00" x2="144.07" y2="213.60" stroke="#231F20" stroke-width="1.1"/>
<line x1="157.15" y1="212.00" x2="157.15" y2="215.20" stroke="#231F20" stroke-width="1.1"/>
<text x="157.15" y="224.60" font-size="8.6" text-anchor="middle" fill="#333" stroke="#333">0.6</text>
<line x1="170.23" y1="212.00" x2="170.23" y2="213.60" stroke="#231F20" stroke-width="1.1"/>
<line x1="183.31" y1="212.00" x2="183.31" y2="215.20" stroke="#231F20" stroke-width="1.1"/>
<text x="183.31" y="224.60" font-size="8.6" text-anchor="middle" fill="#333" stroke="#333">0.7</text>
<line x1="196.39" y1="212.00" x2="196.39" y2="213.60" stroke="#231F20" stroke-width="1.1"/>
<line x1="209.48" y1="212.00" x2="209.48" y2="215.20" stroke="#231F20" stroke-width="1.1"/>
<text x="209.48" y="224.60" font-size="8.6" text-anchor="middle" fill="#333" stroke="#333">0.8</text>
<line x1="222.56" y1="212.00" x2="222.56" y2="213.60" stroke="#231F20" stroke-width="1.1"/>
<line x1="235.64" y1="212.00" x2="235.64" y2="215.20" stroke="#231F20" stroke-width="1.1"/>
<text x="235.64" y="224.60" font-size="8.6" text-anchor="middle" fill="#333" stroke="#333">0.9</text>
<line x1="248.72" y1="212.00" x2="248.72" y2="213.60" stroke="#231F20" stroke-width="1.1"/>
<line x1="261.80" y1="212.00" x2="261.80" y2="215.20" stroke="#231F20" stroke-width="1.1"/>
<text x="261.80" y="224.60" font-size="8.6" text-anchor="middle" fill="#333" stroke="#333">1.0</text>
<text x="159.00" y="34.70" font-size="11.4" text-anchor="middle" fill="#231F20" stroke="#231F20" textLength="55.2" lengthAdjust="spacingAndGlyphs">Mantel test</text>
<text x="60.20" y="59.30" font-size="10.1" text-anchor="start" fill="#231F20" stroke="#231F20">r = 0.5448***</text>
<text x="80.30" y="242.70" font-size="11" text-anchor="start" fill="#231F20" stroke="#231F20" textLength="165.5" lengthAdjust="spacingAndGlyphs" xml:space="preserve">BS  bacterial bray-curtis dissimilarity</text>
<text transform="translate(26.3,211.6) rotate(-90)" font-size="11" fill="#231F20" stroke="#231F20" textLength="165.4" lengthAdjust="spacingAndGlyphs" xml:space="preserve">GS  bacterial bray-curtis dissimilarity</text>
<rect x="371.8" y="44.6" width="112.80" height="166.10" fill="none" stroke="#333" stroke-width="1"/>
<rect x="371.8" y="54.6" width="86.70" height="18.8" fill="#0BA24C" stroke="#2a2a2a" stroke-width="0.9"/>
<rect x="371.8" y="86.4" width="34.50" height="18.8" fill="#0BB0EE" stroke="#2a2a2a" stroke-width="0.9"/>
<rect x="371.8" y="118.3" width="6.80" height="18.8" fill="#8DC63F" stroke="#2a2a2a" stroke-width="0.9"/>
<rect x="371.8" y="150.7" width="6.50" height="18.8" fill="#A87B4F" stroke="#2a2a2a" stroke-width="0.9"/>
<rect x="371.8" y="182.3" width="2.00" height="18.8" fill="#F9AE41" stroke="#2a2a2a" stroke-width="0.9"/>
<line x1="371.80" y1="210.70" x2="371.80" y2="213.20" stroke="#333" stroke-width="1"/>
<text x="372.60" y="222.00" font-size="8.6" text-anchor="middle" fill="#333" stroke="#333">0</text>
<line x1="392.40" y1="210.70" x2="392.40" y2="213.20" stroke="#333" stroke-width="1"/>
<text x="394.70" y="222.00" font-size="8.6" text-anchor="middle" fill="#333" stroke="#333">10</text>
<line x1="412.80" y1="210.70" x2="412.80" y2="213.20" stroke="#333" stroke-width="1"/>
<text x="415.40" y="222.00" font-size="8.6" text-anchor="middle" fill="#333" stroke="#333">20</text>
<line x1="429.40" y1="210.70" x2="429.40" y2="213.20" stroke="#333" stroke-width="1"/>
<text x="432.20" y="222.00" font-size="8.6" text-anchor="middle" fill="#333" stroke="#333">30</text>
<line x1="451.90" y1="210.70" x2="451.90" y2="213.20" stroke="#333" stroke-width="1"/>
<text x="454.00" y="222.00" font-size="8.6" text-anchor="middle" fill="#333" stroke="#333">40</text>
<line x1="474.10" y1="210.70" x2="474.10" y2="213.20" stroke="#333" stroke-width="1"/>
<text x="476.30" y="222.00" font-size="8.6" text-anchor="middle" fill="#333" stroke="#333">50</text>
<text x="422.20" y="21.90" font-size="11.6" text-anchor="middle" fill="#231F20" stroke="#231F20">Effects of BS on</text>
<text x="423.80" y="35.70" font-size="11.6" text-anchor="middle" fill="#231F20" stroke="#231F20">GS bacterial community</text>
<text x="427.30" y="242.10" font-size="10.25" text-anchor="middle" fill="#231F20" stroke="#231F20">Total explanation = 66.3%</text>
<text x="368.50" y="66.00" font-size="8.85" text-anchor="end" fill="#231F20" stroke="#231F20">Bacterial community</text>
<text x="368.50" y="93.20" font-size="8.85" text-anchor="end" fill="#231F20" stroke="#231F20">Eukaryotic microbial</text>
<text x="368.50" y="103.60" font-size="8.85" text-anchor="end" fill="#231F20" stroke="#231F20">community</text>
<text x="368.50" y="129.70" font-size="8.85" text-anchor="end" fill="#231F20" stroke="#231F20">Archaeal community</text>
<text x="368.50" y="162.10" font-size="8.85" text-anchor="end" fill="#231F20" stroke="#231F20">Soil properties</text>
<text x="368.50" y="193.70" font-size="8.85" text-anchor="end" fill="#231F20" stroke="#231F20">PCS <tspan font-style="italic">Streptomyces</tspan></text>
<rect x="593.6" y="44.4" width="76.10" height="166.30" fill="none" stroke="#333" stroke-width="1"/>
<rect x="593.6" y="54.6" width="57.40" height="18.8" fill="#0BA24C" stroke="#2a2a2a" stroke-width="0.9"/>
<rect x="593.6" y="86.4" width="52.60" height="18.8" fill="#0BB0EE" stroke="#2a2a2a" stroke-width="0.9"/>
<rect x="593.6" y="118.3" width="7.70" height="18.8" fill="#F9AE41" stroke="#2a2a2a" stroke-width="0.9"/>
<rect x="593.6" y="150.7" width="4.70" height="18.8" fill="#A87B4F" stroke="#2a2a2a" stroke-width="0.9"/>
<line x1="593.60" y1="210.70" x2="593.60" y2="213.20" stroke="#333" stroke-width="1"/>
<text x="595.30" y="222.00" font-size="8.6" text-anchor="middle" fill="#333" stroke="#333">0</text>
<line x1="619.10" y1="210.70" x2="619.10" y2="213.20" stroke="#333" stroke-width="1"/>
<text x="622.60" y="222.00" font-size="8.6" text-anchor="middle" fill="#333" stroke="#333">2.5</text>
<line x1="644.70" y1="210.70" x2="644.70" y2="213.20" stroke="#333" stroke-width="1"/>
<text x="648.00" y="222.00" font-size="8.6" text-anchor="middle" fill="#333" stroke="#333">5.0</text>
<text x="618.50" y="21.90" font-size="11.6" text-anchor="middle" fill="#231F20" stroke="#231F20">Effects of BS on</text>
<text x="620.10" y="35.70" font-size="11.6" text-anchor="middle" fill="#231F20" stroke="#231F20">GS pathogen population</text>
<text x="622.30" y="242.10" font-size="10.25" text-anchor="middle" fill="#231F20" stroke="#231F20">Total explanation = 12.0%</text>
<text x="590.30" y="66.00" font-size="8.85" text-anchor="end" fill="#231F20" stroke="#231F20">Bacterial community</text>
<text x="590.30" y="93.20" font-size="8.85" text-anchor="end" fill="#231F20" stroke="#231F20">Eukaryotic microbial</text>
<text x="590.30" y="103.60" font-size="8.85" text-anchor="end" fill="#231F20" stroke="#231F20">community</text>
<text x="590.30" y="129.70" font-size="8.85" text-anchor="end" fill="#231F20" stroke="#231F20">PCS <tspan font-style="italic">Streptomyces</tspan></text>
<text x="590.30" y="162.10" font-size="8.85" text-anchor="end" fill="#231F20" stroke="#231F20">Soil properties</text>
<text x="590.30" y="193.70" font-size="8.85" text-anchor="end" fill="#231F20" stroke="#231F20">Archaeal community</text>
<text x="135.80" y="287.50" font-size="11.5" text-anchor="middle" fill="#231F20" stroke="#231F20" textLength="219.5" lengthAdjust="spacingAndGlyphs">Between BS and GS bacterial communities</text>
<g>
<circle cx="68.3" cy="310.0" r="3.6" fill="#F5E9A6" fill-opacity="0.8" stroke="#2b2b2b" stroke-opacity="0.72" stroke-width="0.55"/>
<circle cx="68.3" cy="312.1" r="3.6" fill="#F0DC80" fill-opacity="0.8" stroke="#2b2b2b" stroke-opacity="0.72" stroke-width="0.55"/>
<circle cx="68.3" cy="312.9" r="3.6" fill="#F0DC80" fill-opacity="0.8" stroke="#2b2b2b" stroke-opacity="0.72" stroke-width="0.55"/>
<circle cx="68.3" cy="313.7" r="3.6" fill="#F0DC80" fill-opacity="0.8" stroke="#2b2b2b" stroke-opacity="0.72" stroke-width="0.55"/>
<circle cx="68.3" cy="314.0" r="3.6" fill="#F0DC80" fill-opacity="0.8" stroke="#2b2b2b" stroke-opacity="0.72" stroke-width="0.55"/>
<circle cx="68.3" cy="314.1" r="3.6" fill="#F0DC80" fill-opacity="0.8" stroke="#2b2b2b" stroke-opacity="0.72" stroke-width="0.55"/>
<circle cx="68.3" cy="315.7" r="3.6" fill="#F0DC80" fill-opacity="0.8" stroke="#2b2b2b" stroke-opacity="0.72" stroke-width="0.55"/>
<circle cx="68.3" cy="317.5" r="3.6" fill="#F0DC80" fill-opacity="0.8" stroke="#2b2b2b" stroke-opacity="0.72" stroke-width="0.55"/>
<circle cx="68.3" cy="318.3" r="3.6" fill="#EDCF45" fill-opacity="0.8" stroke="#2b2b2b" stroke-opacity="0.72" stroke-width="0.55"/>
<circle cx="68.3" cy="319.5" r="3.6" fill="#E8C52E" fill-opacity="0.8" stroke="#2b2b2b" stroke-opacity="0.72" stroke-width="0.55"/>
<circle cx="68.3" cy="320.0" r="3.6" fill="#E2BE26" fill-opacity="0.8" stroke="#2b2b2b" stroke-opacity="0.72" stroke-width="0.55"/>
<circle cx="68.3" cy="320.1" r="3.6" fill="#F0D860" fill-opacity="0.8" stroke="#2b2b2b" stroke-opacity="0.72" stroke-width="0.55"/>
<circle cx="68.3" cy="320.3" r="3.6" fill="#E6C435" fill-opacity="0.8" stroke="#2b2b2b" stroke-opacity="0.72" stroke-width="0.55"/>
<circle cx="68.3" cy="321.4" r="3.6" fill="#E6C435" fill-opacity="0.8" stroke="#2b2b2b" stroke-opacity="0.72" stroke-width="0.55"/>
<circle cx="68.3" cy="324.4" r="3.6" fill="#DDB820" fill-opacity="0.8" stroke="#2b2b2b" stroke-opacity="0.72" stroke-width="0.55"/>
<circle cx="68.3" cy="324.6" r="3.6" fill="#E8C52E" fill-opacity="0.8" stroke="#2b2b2b" stroke-opacity="0.72" stroke-width="0.55"/>
<circle cx="68.3" cy="326.4" r="3.6" fill="#E2BE26" fill-opacity="0.8" stroke="#2b2b2b" stroke-opacity="0.72" stroke-width="0.55"/>
<circle cx="68.3" cy="327.3" r="3.6" fill="#DDB820" fill-opacity="0.8" stroke="#2b2b2b" stroke-opacity="0.72" stroke-width="0.55"/>
<circle cx="68.3" cy="327.5" r="3.6" fill="#F0D860" fill-opacity="0.8" stroke="#2b2b2b" stroke-opacity="0.72" stroke-width="0.55"/>
<circle cx="68.3" cy="330.1" r="3.6" fill="#E2BE26" fill-opacity="0.8" stroke="#2b2b2b" stroke-opacity="0.72" stroke-width="0.55"/>
<circle cx="68.3" cy="330.4" r="3.6" fill="#DDB820" fill-opacity="0.8" stroke="#2b2b2b" stroke-opacity="0.72" stroke-width="0.55"/>
<circle cx="68.3" cy="330.5" r="3.6" fill="#EDCF45" fill-opacity="0.8" stroke="#2b2b2b" stroke-opacity="0.72" stroke-width="0.55"/>
<circle cx="68.3" cy="334.5" r="3.6" fill="#DDB820" fill-opacity="0.8" stroke="#2b2b2b" stroke-opacity="0.72" stroke-width="0.55"/>
<circle cx="68.3" cy="334.6" r="3.6" fill="#DDB820" fill-opacity="0.8" stroke="#2b2b2b" stroke-opacity="0.72" stroke-width="0.55"/>
<circle cx="68.3" cy="334.8" r="3.6" fill="#E6C435" fill-opacity="0.8" stroke="#2b2b2b" stroke-opacity="0.72" stroke-width="0.55"/>
<circle cx="68.3" cy="334.9" r="3.6" fill="#E8C52E" fill-opacity="0.8" stroke="#2b2b2b" stroke-opacity="0.72" stroke-width="0.55"/>
<circle cx="68.3" cy="335.5" r="3.6" fill="#F0D860" fill-opacity="0.8" stroke="#2b2b2b" stroke-opacity="0.72" stroke-width="0.55"/>
<circle cx="68.3" cy="335.6" r="3.6" fill="#F0D860" fill-opacity="0.8" stroke="#2b2b2b" stroke-opacity="0.72" stroke-width="0.55"/>
<circle cx="68.3" cy="335.7" r="3.6" fill="#E6C435" fill-opacity="0.8" stroke="#2b2b2b" stroke-opacity="0.72" stroke-width="0.55"/>
<circle cx="68.3" cy="335.7" r="3.6" fill="#E2BE26" fill-opacity="0.8" stroke="#2b2b2b" stroke-opacity="0.72" stroke-width="0.55"/>
<circle cx="68.3" cy="342.1" r="3.6" fill="#EDCF45" fill-opacity="0.8" stroke="#2b2b2b" stroke-opacity="0.72" stroke-width="0.55"/>
<circle cx="68.3" cy="344.2" r="3.6" fill="#EDCF45" fill-opacity="0.8" stroke="#2b2b2b" stroke-opacity="0.72" stroke-width="0.55"/>
<circle cx="68.3" cy="345.3" r="3.6" fill="#E2BE26" fill-opacity="0.8" stroke="#2b2b2b" stroke-opacity="0.72" stroke-width="0.55"/>
<circle cx="68.3" cy="345.4" r="3.6" fill="#E8C52E" fill-opacity="0.8" stroke="#2b2b2b" stroke-opacity="0.72" stroke-width="0.55"/>
<circle cx="68.3" cy="346.0" r="3.6" fill="#E6C435" fill-opacity="0.8" stroke="#2b2b2b" stroke-opacity="0.72" stroke-width="0.55"/>
<circle cx="68.3" cy="347.0" r="3.6" fill="#E8C52E" fill-opacity="0.8" stroke="#2b2b2b" stroke-opacity="0.72" stroke-width="0.55"/>
<circle cx="68.3" cy="347.7" r="3.6" fill="#E6C435" fill-opacity="0.8" stroke="#2b2b2b" stroke-opacity="0.72" stroke-width="0.55"/>
<circle cx="68.3" cy="348.6" r="3.6" fill="#E2BE26" fill-opacity="0.8" stroke="#2b2b2b" stroke-opacity="0.72" stroke-width="0.55"/>
<circle cx="68.3" cy="349.2" r="3.6" fill="#DDB820" fill-opacity="0.8" stroke="#2b2b2b" stroke-opacity="0.72" stroke-width="0.55"/>
<circle cx="68.3" cy="349.5" r="3.6" fill="#EDCF45" fill-opacity="0.8" stroke="#2b2b2b" stroke-opacity="0.72" stroke-width="0.55"/>
<circle cx="68.3" cy="349.8" r="3.6" fill="#E2BE26" fill-opacity="0.8" stroke="#2b2b2b" stroke-opacity="0.72" stroke-width="0.55"/>
<circle cx="68.3" cy="352.3" r="3.6" fill="#F0D860" fill-opacity="0.8" stroke="#2b2b2b" stroke-opacity="0.72" stroke-width="0.55"/>
<circle cx="68.3" cy="353.6" r="3.6" fill="#EDCF45" fill-opacity="0.8" stroke="#2b2b2b" stroke-opacity="0.72" stroke-width="0.55"/>
<circle cx="68.3" cy="354.2" r="3.6" fill="#F0D860" fill-opacity="0.8" stroke="#2b2b2b" stroke-opacity="0.72" stroke-width="0.55"/>
<circle cx="68.3" cy="354.6" r="3.6" fill="#E2BE26" fill-opacity="0.8" stroke="#2b2b2b" stroke-opacity="0.72" stroke-width="0.55"/>
<circle cx="68.3" cy="356.8" r="3.6" fill="#EDCF45" fill-opacity="0.8" stroke="#2b2b2b" stroke-opacity="0.72" stroke-width="0.55"/>
<circle cx="68.3" cy="363.2" r="3.6" fill="#EDCF45" fill-opacity="0.8" stroke="#2b2b2b" stroke-opacity="0.72" stroke-width="0.55"/>
<circle cx="68.3" cy="363.3" r="3.6" fill="#EDCF45" fill-opacity="0.8" stroke="#2b2b2b" stroke-opacity="0.72" stroke-width="0.55"/>
<circle cx="68.3" cy="363.5" r="3.6" fill="#E8C52E" fill-opacity="0.8" stroke="#2b2b2b" stroke-opacity="0.72" stroke-width="0.55"/>
<circle cx="68.3" cy="367.8" r="3.6" fill="#E6C435" fill-opacity="0.8" stroke="#2b2b2b" stroke-opacity="0.72" stroke-width="0.55"/>
<circle cx="68.3" cy="368.8" r="3.6" fill="#EDCF45" fill-opacity="0.8" stroke="#2b2b2b" stroke-opacity="0.72" stroke-width="0.55"/>
<circle cx="68.3" cy="368.9" r="3.6" fill="#F0D860" fill-opacity="0.8" stroke="#2b2b2b" stroke-opacity="0.72" stroke-width="0.55"/>
<circle cx="68.3" cy="369.2" r="3.6" fill="#E2BE26" fill-opacity="0.8" stroke="#2b2b2b" stroke-opacity="0.72" stroke-width="0.55"/>
<circle cx="68.3" cy="370.4" r="3.6" fill="#EDCF45" fill-opacity="0.8" stroke="#2b2b2b" stroke-opacity="0.72" stroke-width="0.55"/>
<circle cx="68.3" cy="371.9" r="3.6" fill="#E8C52E" fill-opacity="0.8" stroke="#2b2b2b" stroke-opacity="0.72" stroke-width="0.55"/>
<circle cx="68.3" cy="373.7" r="3.6" fill="#E6C435" fill-opacity="0.8" stroke="#2b2b2b" stroke-opacity="0.72" stroke-width="0.55"/>
<circle cx="68.3" cy="375.4" r="3.6" fill="#DDB820" fill-opacity="0.8" stroke="#2b2b2b" stroke-opacity="0.72" stroke-width="0.55"/>
<circle cx="68.3" cy="376.8" r="3.6" fill="#EDCF45" fill-opacity="0.8" stroke="#2b2b2b" stroke-opacity="0.72" stroke-width="0.55"/>
<circle cx="68.3" cy="377.0" r="3.6" fill="#F0D860" fill-opacity="0.8" stroke="#2b2b2b" stroke-opacity="0.72" stroke-width="0.55"/>
<circle cx="68.3" cy="378.7" r="3.6" fill="#DDB820" fill-opacity="0.8" stroke="#2b2b2b" stroke-opacity="0.72" stroke-width="0.55"/>
<circle cx="68.3" cy="380.0" r="3.6" fill="#F0D860" fill-opacity="0.8" stroke="#2b2b2b" stroke-opacity="0.72" stroke-width="0.55"/>
<circle cx="68.3" cy="380.7" r="3.6" fill="#E6C435" fill-opacity="0.8" stroke="#2b2b2b" stroke-opacity="0.72" stroke-width="0.55"/>
<circle cx="68.3" cy="380.8" r="3.6" fill="#DDB820" fill-opacity="0.8" stroke="#2b2b2b" stroke-opacity="0.72" stroke-width="0.55"/>
<circle cx="68.3" cy="381.0" r="3.6" fill="#DDB820" fill-opacity="0.8" stroke="#2b2b2b" stroke-opacity="0.72" stroke-width="0.55"/>
<circle cx="68.3" cy="381.8" r="3.6" fill="#E2BE26" fill-opacity="0.8" stroke="#2b2b2b" stroke-opacity="0.72" stroke-width="0.55"/>
<circle cx="68.3" cy="382.0" r="3.6" fill="#E6C435" fill-opacity="0.8" stroke="#2b2b2b" stroke-opacity="0.72" stroke-width="0.55"/>
<circle cx="68.3" cy="382.8" r="3.6" fill="#E6C435" fill-opacity="0.8" stroke="#2b2b2b" stroke-opacity="0.72" stroke-width="0.55"/>
<circle cx="68.3" cy="383.2" r="3.6" fill="#E6C435" fill-opacity="0.8" stroke="#2b2b2b" stroke-opacity="0.72" stroke-width="0.55"/>
<circle cx="68.3" cy="383.6" r="3.6" fill="#EDCF45" fill-opacity="0.8" stroke="#2b2b2b" stroke-opacity="0.72" stroke-width="0.55"/>
<circle cx="68.3" cy="384.6" r="3.6" fill="#E8C52E" fill-opacity="0.8" stroke="#2b2b2b" stroke-opacity="0.72" stroke-width="0.55"/>
<circle cx="68.3" cy="389.2" r="3.6" fill="#E6C435" fill-opacity="0.8" stroke="#2b2b2b" stroke-opacity="0.72" stroke-width="0.55"/>
<circle cx="68.3" cy="389.5" r="3.6" fill="#E8C52E" fill-opacity="0.8" stroke="#2b2b2b" stroke-opacity="0.72" stroke-width="0.55"/>
<circle cx="68.3" cy="390.1" r="3.6" fill="#E6C435" fill-opacity="0.8" stroke="#2b2b2b" stroke-opacity="0.72" stroke-width="0.55"/>
<circle cx="68.3" cy="390.4" r="3.6" fill="#E8C52E" fill-opacity="0.8" stroke="#2b2b2b" stroke-opacity="0.72" stroke-width="0.55"/>
<circle cx="68.3" cy="390.4" r="3.6" fill="#E2BE26" fill-opacity="0.8" stroke="#2b2b2b" stroke-opacity="0.72" stroke-width="0.55"/>
<circle cx="68.3" cy="393.9" r="3.6" fill="#E2BE26" fill-opacity="0.8" stroke="#2b2b2b" stroke-opacity="0.72" stroke-width="0.55"/>
<circle cx="68.3" cy="395.6" r="3.6" fill="#DDB820" fill-opacity="0.8" stroke="#2b2b2b" stroke-opacity="0.72" stroke-width="0.55"/>
<circle cx="68.3" cy="399.1" r="3.6" fill="#E2BE26" fill-opacity="0.8" stroke="#2b2b2b" stroke-opacity="0.72" stroke-width="0.55"/>
<circle cx="68.3" cy="399.6" r="3.6" fill="#E2BE26" fill-opacity="0.8" stroke="#2b2b2b" stroke-opacity="0.72" stroke-width="0.55"/>
<circle cx="68.3" cy="399.6" r="3.6" fill="#E8C52E" fill-opacity="0.8" stroke="#2b2b2b" stroke-opacity="0.72" stroke-width="0.55"/>
<circle cx="68.3" cy="399.8" r="3.6" fill="#F0D860" fill-opacity="0.8" stroke="#2b2b2b" stroke-opacity="0.72" stroke-width="0.55"/>
<circle cx="68.3" cy="400.6" r="3.6" fill="#E2BE26" fill-opacity="0.8" stroke="#2b2b2b" stroke-opacity="0.72" stroke-width="0.55"/>
<circle cx="68.3" cy="401.2" r="3.6" fill="#E2BE26" fill-opacity="0.8" stroke="#2b2b2b" stroke-opacity="0.72" stroke-width="0.55"/>
<circle cx="68.3" cy="403.3" r="3.6" fill="#DDB820" fill-opacity="0.8" stroke="#2b2b2b" stroke-opacity="0.72" stroke-width="0.55"/>
<circle cx="68.3" cy="404.4" r="3.6" fill="#E8C52E" fill-opacity="0.8" stroke="#2b2b2b" stroke-opacity="0.72" stroke-width="0.55"/>
<circle cx="68.3" cy="409.0" r="3.6" fill="#F0D860" fill-opacity="0.8" stroke="#2b2b2b" stroke-opacity="0.72" stroke-width="0.55"/>
<circle cx="68.3" cy="409.5" r="3.6" fill="#E6C435" fill-opacity="0.8" stroke="#2b2b2b" stroke-opacity="0.72" stroke-width="0.55"/>
<circle cx="68.3" cy="414.2" r="3.6" fill="#EDCF45" fill-opacity="0.8" stroke="#2b2b2b" stroke-opacity="0.72" stroke-width="0.55"/>
<circle cx="68.3" cy="416.7" r="3.6" fill="#EDCF45" fill-opacity="0.8" stroke="#2b2b2b" stroke-opacity="0.72" stroke-width="0.55"/>
<circle cx="68.3" cy="419.1" r="3.6" fill="#EDCF45" fill-opacity="0.8" stroke="#2b2b2b" stroke-opacity="0.72" stroke-width="0.55"/>
<circle cx="68.3" cy="419.5" r="3.6" fill="#E6C435" fill-opacity="0.8" stroke="#2b2b2b" stroke-opacity="0.72" stroke-width="0.55"/>
<circle cx="68.3" cy="420.3" r="3.6" fill="#EDCF45" fill-opacity="0.8" stroke="#2b2b2b" stroke-opacity="0.72" stroke-width="0.55"/>
<circle cx="68.3" cy="420.9" r="3.6" fill="#E2BE26" fill-opacity="0.8" stroke="#2b2b2b" stroke-opacity="0.72" stroke-width="0.55"/>
<circle cx="68.3" cy="421.3" r="3.6" fill="#E6C435" fill-opacity="0.8" stroke="#2b2b2b" stroke-opacity="0.72" stroke-width="0.55"/>
<circle cx="68.3" cy="424.3" r="3.6" fill="#E8C52E" fill-opacity="0.8" stroke="#2b2b2b" stroke-opacity="0.72" stroke-width="0.55"/>
<circle cx="68.3" cy="424.8" r="3.6" fill="#E6C435" fill-opacity="0.8" stroke="#2b2b2b" stroke-opacity="0.72" stroke-width="0.55"/>
<circle cx="68.3" cy="426.3" r="3.6" fill="#F5E9A6" fill-opacity="0.8" stroke="#2b2b2b" stroke-opacity="0.72" stroke-width="0.55"/>
<circle cx="68.3" cy="426.3" r="3.6" fill="#F5E9A6" fill-opacity="0.8" stroke="#2b2b2b" stroke-opacity="0.72" stroke-width="0.55"/>
<circle cx="68.3" cy="426.3" r="3.6" fill="#F5E9A6" fill-opacity="0.8" stroke="#2b2b2b" stroke-opacity="0.72" stroke-width="0.55"/>
<circle cx="87.3" cy="316.9" r="3.6" fill="#DCEBB6" fill-opacity="0.8" stroke="#2b2b2b" stroke-opacity="0.7" stroke-width="0.55"/>
<circle cx="87.3" cy="342.4" r="3.6" fill="#D6E9AE" fill-opacity="0.8" stroke="#2b2b2b" stroke-opacity="0.7" stroke-width="0.55"/>
<circle cx="87.3" cy="345.6" r="3.6" fill="#9AC45A" fill-opacity="0.8" stroke="#2b2b2b" stroke-opacity="0.7" stroke-width="0.55"/>
<circle cx="87.3" cy="350.2" r="3.6" fill="#D6E9AE" fill-opacity="0.8" stroke="#2b2b2b" stroke-opacity="0.7" stroke-width="0.55"/>
<circle cx="87.3" cy="354.8" r="3.6" fill="#D2E7A8" fill-opacity="0.8" stroke="#2b2b2b" stroke-opacity="0.7" stroke-width="0.55"/>
<circle cx="87.3" cy="357.1" r="3.6" fill="#D6E9AE" fill-opacity="0.8" stroke="#2b2b2b" stroke-opacity="0.7" stroke-width="0.55"/>
<circle cx="87.3" cy="367.8" r="3.6" fill="#8FBE4E" fill-opacity="0.8" stroke="#2b2b2b" stroke-opacity="0.7" stroke-width="0.55"/>
<circle cx="87.3" cy="374.6" r="3.6" fill="#8FBE4E" fill-opacity="0.8" stroke="#2b2b2b" stroke-opacity="0.7" stroke-width="0.55"/>
<circle cx="87.3" cy="382.8" r="3.6" fill="#C6E19B" fill-opacity="0.8" stroke="#2b2b2b" stroke-opacity="0.7" stroke-width="0.55"/>
<circle cx="87.3" cy="384.4" r="3.6" fill="#A9CF6B" fill-opacity="0.8" stroke="#2b2b2b" stroke-opacity="0.7" stroke-width="0.55"/>
<circle cx="87.3" cy="388.0" r="3.6" fill="#A9CF6B" fill-opacity="0.8" stroke="#2b2b2b" stroke-opacity="0.7" stroke-width="0.55"/>
<circle cx="87.3" cy="390.2" r="3.6" fill="#B5D681" fill-opacity="0.8" stroke="#2b2b2b" stroke-opacity="0.7" stroke-width="0.55"/>
<circle cx="87.3" cy="396.2" r="3.6" fill="#9CC95F" fill-opacity="0.8" stroke="#2b2b2b" stroke-opacity="0.7" stroke-width="0.55"/>
<circle cx="87.3" cy="399.1" r="3.6" fill="#A9CF6B" fill-opacity="0.8" stroke="#2b2b2b" stroke-opacity="0.7" stroke-width="0.55"/>
<circle cx="87.3" cy="403.5" r="3.6" fill="#93C455" fill-opacity="0.8" stroke="#2b2b2b" stroke-opacity="0.7" stroke-width="0.55"/>
<circle cx="87.3" cy="409.4" r="3.6" fill="#A9CF6B" fill-opacity="0.8" stroke="#2b2b2b" stroke-opacity="0.7" stroke-width="0.55"/>
<circle cx="87.3" cy="413.8" r="3.6" fill="#B5D681" fill-opacity="0.8" stroke="#2b2b2b" stroke-opacity="0.7" stroke-width="0.55"/>
<circle cx="87.3" cy="417.4" r="3.6" fill="#D6E9AE" fill-opacity="0.8" stroke="#2b2b2b" stroke-opacity="0.7" stroke-width="0.55"/>
<circle cx="106.4" cy="339.1" r="3.6" fill="#7FC27F" fill-opacity="0.8" stroke="#2b2b2b" stroke-opacity="0.7" stroke-width="0.55"/>
<circle cx="106.4" cy="350.7" r="3.6" fill="#C3E2BD" fill-opacity="0.8" stroke="#2b2b2b" stroke-opacity="0.7" stroke-width="0.55"/>
<circle cx="106.4" cy="357.5" r="3.6" fill="#C3E2BD" fill-opacity="0.8" stroke="#2b2b2b" stroke-opacity="0.7" stroke-width="0.55"/>
<circle cx="106.4" cy="363.2" r="3.6" fill="#5DAE66" fill-opacity="0.8" stroke="#2b2b2b" stroke-opacity="0.7" stroke-width="0.55"/>
<circle cx="106.4" cy="370.1" r="3.6" fill="#C3E2BD" fill-opacity="0.8" stroke="#2b2b2b" stroke-opacity="0.7" stroke-width="0.55"/>
<circle cx="106.4" cy="386.6" r="3.6" fill="#9CD09A" fill-opacity="0.8" stroke="#2b2b2b" stroke-opacity="0.7" stroke-width="0.55"/>
<circle cx="106.4" cy="394.0" r="3.6" fill="#9CD09A" fill-opacity="0.8" stroke="#2b2b2b" stroke-opacity="0.7" stroke-width="0.55"/>
<circle cx="106.4" cy="399.1" r="3.6" fill="#C3E2BD" fill-opacity="0.8" stroke="#2b2b2b" stroke-opacity="0.7" stroke-width="0.55"/>
<circle cx="106.4" cy="404.9" r="3.6" fill="#7FC27F" fill-opacity="0.8" stroke="#2b2b2b" stroke-opacity="0.7" stroke-width="0.55"/>
<circle cx="106.4" cy="412.3" r="3.6" fill="#6DB872" fill-opacity="0.8" stroke="#2b2b2b" stroke-opacity="0.7" stroke-width="0.55"/>
<circle cx="106.4" cy="416.7" r="3.6" fill="#7FC27F" fill-opacity="0.8" stroke="#2b2b2b" stroke-opacity="0.7" stroke-width="0.55"/>
<circle cx="106.4" cy="419.5" r="3.6" fill="#5DAE66" fill-opacity="0.8" stroke="#2b2b2b" stroke-opacity="0.7" stroke-width="0.55"/>
<circle cx="106.4" cy="421.1" r="3.6" fill="#9CD09A" fill-opacity="0.8" stroke="#2b2b2b" stroke-opacity="0.7" stroke-width="0.55"/>
<circle cx="106.4" cy="423.6" r="3.6" fill="#6DB872" fill-opacity="0.8" stroke="#2b2b2b" stroke-opacity="0.7" stroke-width="0.55"/>
<circle cx="106.4" cy="425.4" r="3.6" fill="#7FC27F" fill-opacity="0.8" stroke="#2b2b2b" stroke-opacity="0.7" stroke-width="0.55"/>
<circle cx="106.4" cy="429.2" r="3.6" fill="#9CD09A" fill-opacity="0.8" stroke="#2b2b2b" stroke-opacity="0.7" stroke-width="0.55"/>
<circle cx="182.4" cy="397.9" r="3.6" fill="#6E8BA6" fill-opacity="0.8" stroke="#2b2b2b" stroke-opacity="0.7" stroke-width="0.55"/>
<circle cx="182.4" cy="399.0" r="3.6" fill="#3F7697" fill-opacity="0.8" stroke="#2b2b2b" stroke-opacity="0.7" stroke-width="0.55"/>
<circle cx="182.4" cy="400.3" r="3.6" fill="#4A7C9E" fill-opacity="0.8" stroke="#2b2b2b" stroke-opacity="0.7" stroke-width="0.55"/>
<circle cx="182.4" cy="403.3" r="3.6" fill="#5A86A8" fill-opacity="0.8" stroke="#2b2b2b" stroke-opacity="0.7" stroke-width="0.55"/>
<circle cx="182.4" cy="403.7" r="3.6" fill="#5A86A8" fill-opacity="0.8" stroke="#2b2b2b" stroke-opacity="0.7" stroke-width="0.55"/>
<circle cx="182.4" cy="404.7" r="3.6" fill="#3F7697" fill-opacity="0.8" stroke="#2b2b2b" stroke-opacity="0.7" stroke-width="0.55"/>
<circle cx="182.4" cy="405.0" r="3.6" fill="#5A86A8" fill-opacity="0.8" stroke="#2b2b2b" stroke-opacity="0.7" stroke-width="0.55"/>
<circle cx="182.4" cy="407.8" r="3.6" fill="#3F7697" fill-opacity="0.8" stroke="#2b2b2b" stroke-opacity="0.7" stroke-width="0.55"/>
<circle cx="182.4" cy="408.4" r="3.6" fill="#6B8DAA" fill-opacity="0.8" stroke="#2b2b2b" stroke-opacity="0.7" stroke-width="0.55"/>
<circle cx="182.4" cy="408.6" r="3.6" fill="#4A7C9E" fill-opacity="0.8" stroke="#2b2b2b" stroke-opacity="0.7" stroke-width="0.55"/>
<circle cx="182.4" cy="409.3" r="3.6" fill="#3F7697" fill-opacity="0.8" stroke="#2b2b2b" stroke-opacity="0.7" stroke-width="0.55"/>
<circle cx="182.4" cy="409.9" r="3.6" fill="#5A86A8" fill-opacity="0.8" stroke="#2b2b2b" stroke-opacity="0.7" stroke-width="0.55"/>
<circle cx="182.4" cy="410.5" r="3.6" fill="#3F7697" fill-opacity="0.8" stroke="#2b2b2b" stroke-opacity="0.7" stroke-width="0.55"/>
<circle cx="182.4" cy="412.6" r="3.6" fill="#5A86A8" fill-opacity="0.8" stroke="#2b2b2b" stroke-opacity="0.7" stroke-width="0.55"/>
<circle cx="182.4" cy="413.2" r="3.6" fill="#3F7697" fill-opacity="0.8" stroke="#2b2b2b" stroke-opacity="0.7" stroke-width="0.55"/>
<circle cx="182.4" cy="414.4" r="3.6" fill="#5A86A8" fill-opacity="0.8" stroke="#2b2b2b" stroke-opacity="0.7" stroke-width="0.55"/>
<circle cx="182.4" cy="414.7" r="3.6" fill="#4A7C9E" fill-opacity="0.8" stroke="#2b2b2b" stroke-opacity="0.7" stroke-width="0.55"/>
<circle cx="182.4" cy="414.8" r="3.6" fill="#3F7697" fill-opacity="0.8" stroke="#2b2b2b" stroke-opacity="0.7" stroke-width="0.55"/>
<circle cx="182.4" cy="415.4" r="3.6" fill="#3F7697" fill-opacity="0.8" stroke="#2b2b2b" stroke-opacity="0.7" stroke-width="0.55"/>
<circle cx="182.4" cy="415.6" r="3.6" fill="#5A86A8" fill-opacity="0.8" stroke="#2b2b2b" stroke-opacity="0.7" stroke-width="0.55"/>
<circle cx="182.4" cy="415.8" r="3.6" fill="#4F80A2" fill-opacity="0.8" stroke="#2b2b2b" stroke-opacity="0.7" stroke-width="0.55"/>
<circle cx="182.4" cy="416.5" r="3.6" fill="#3F7697" fill-opacity="0.8" stroke="#2b2b2b" stroke-opacity="0.7" stroke-width="0.55"/>
<circle cx="182.4" cy="416.9" r="3.6" fill="#4A7C9E" fill-opacity="0.8" stroke="#2b2b2b" stroke-opacity="0.7" stroke-width="0.55"/>
<circle cx="182.4" cy="417.0" r="3.6" fill="#5A86A8" fill-opacity="0.8" stroke="#2b2b2b" stroke-opacity="0.7" stroke-width="0.55"/>
<circle cx="182.4" cy="417.0" r="3.6" fill="#6B8DAA" fill-opacity="0.8" stroke="#2b2b2b" stroke-opacity="0.7" stroke-width="0.55"/>
<circle cx="182.4" cy="417.5" r="3.6" fill="#3F7697" fill-opacity="0.8" stroke="#2b2b2b" stroke-opacity="0.7" stroke-width="0.55"/>
<circle cx="182.4" cy="418.7" r="3.6" fill="#4A7C9E" fill-opacity="0.8" stroke="#2b2b2b" stroke-opacity="0.7" stroke-width="0.55"/>
<circle cx="182.4" cy="422.4" r="3.6" fill="#3F7697" fill-opacity="0.8" stroke="#2b2b2b" stroke-opacity="0.7" stroke-width="0.55"/>
<circle cx="182.4" cy="423.3" r="3.6" fill="#5A86A8" fill-opacity="0.8" stroke="#2b2b2b" stroke-opacity="0.7" stroke-width="0.55"/>
<circle cx="182.4" cy="424.1" r="3.6" fill="#5A86A8" fill-opacity="0.8" stroke="#2b2b2b" stroke-opacity="0.7" stroke-width="0.55"/>
<circle cx="182.4" cy="425.3" r="3.6" fill="#4A7C9E" fill-opacity="0.8" stroke="#2b2b2b" stroke-opacity="0.7" stroke-width="0.55"/>
<circle cx="182.4" cy="425.8" r="3.6" fill="#4F80A2" fill-opacity="0.8" stroke="#2b2b2b" stroke-opacity="0.7" stroke-width="0.55"/>
<circle cx="182.4" cy="425.8" r="3.6" fill="#5A86A8" fill-opacity="0.8" stroke="#2b2b2b" stroke-opacity="0.7" stroke-width="0.55"/>
<circle cx="182.4" cy="426.4" r="3.6" fill="#3F7697" fill-opacity="0.8" stroke="#2b2b2b" stroke-opacity="0.7" stroke-width="0.55"/>
<circle cx="182.4" cy="427.8" r="3.6" fill="#4F80A2" fill-opacity="0.8" stroke="#2b2b2b" stroke-opacity="0.7" stroke-width="0.55"/>
<circle cx="182.4" cy="428.8" r="3.6" fill="#3F7697" fill-opacity="0.8" stroke="#2b2b2b" stroke-opacity="0.7" stroke-width="0.55"/>
<circle cx="182.4" cy="432.9" r="3.6" fill="#4A7C9E" fill-opacity="0.8" stroke="#2b2b2b" stroke-opacity="0.7" stroke-width="0.55"/>
<circle cx="182.4" cy="433.0" r="3.6" fill="#3F7697" fill-opacity="0.8" stroke="#2b2b2b" stroke-opacity="0.7" stroke-width="0.55"/>
<circle cx="182.4" cy="433.2" r="3.6" fill="#5A86A8" fill-opacity="0.8" stroke="#2b2b2b" stroke-opacity="0.7" stroke-width="0.55"/>
<circle cx="182.4" cy="434.0" r="3.6" fill="#6B8DAA" fill-opacity="0.8" stroke="#2b2b2b" stroke-opacity="0.7" stroke-width="0.55"/>
<circle cx="182.4" cy="434.1" r="3.6" fill="#5A86A8" fill-opacity="0.8" stroke="#2b2b2b" stroke-opacity="0.7" stroke-width="0.55"/>
<circle cx="182.4" cy="436.5" r="3.6" fill="#9AAABE" fill-opacity="0.8" stroke="#2b2b2b" stroke-opacity="0.7" stroke-width="0.55"/>
<circle cx="201.5" cy="376.2" r="3.6" fill="#B4B0D6" fill-opacity="0.8" stroke="#2b2b2b" stroke-opacity="0.7" stroke-width="0.55"/>
<circle cx="201.5" cy="382.1" r="3.6" fill="#B4B0D6" fill-opacity="0.8" stroke="#2b2b2b" stroke-opacity="0.7" stroke-width="0.55"/>
<circle cx="201.5" cy="384.6" r="3.6" fill="#B4B0D6" fill-opacity="0.8" stroke="#2b2b2b" stroke-opacity="0.7" stroke-width="0.55"/>
<circle cx="201.5" cy="393.7" r="3.6" fill="#46549A" fill-opacity="0.8" stroke="#2b2b2b" stroke-opacity="0.7" stroke-width="0.55"/>
<circle cx="201.5" cy="395.3" r="3.6" fill="#4A58A0" fill-opacity="0.8" stroke="#2b2b2b" stroke-opacity="0.7" stroke-width="0.55"/>
<circle cx="201.5" cy="396.5" r="3.6" fill="#38468A" fill-opacity="0.8" stroke="#2b2b2b" stroke-opacity="0.7" stroke-width="0.55"/>
<circle cx="201.5" cy="396.6" r="3.6" fill="#43519A" fill-opacity="0.8" stroke="#2b2b2b" stroke-opacity="0.7" stroke-width="0.55"/>
<circle cx="201.5" cy="396.7" r="3.6" fill="#38468A" fill-opacity="0.8" stroke="#2b2b2b" stroke-opacity="0.7" stroke-width="0.55"/>
<circle cx="201.5" cy="397.4" r="3.6" fill="#46549A" fill-opacity="0.8" stroke="#2b2b2b" stroke-opacity="0.7" stroke-width="0.55"/>
<circle cx="201.5" cy="397.7" r="3.6" fill="#3E4C90" fill-opacity="0.8" stroke="#2b2b2b" stroke-opacity="0.7" stroke-width="0.55"/>
<circle cx="201.5" cy="397.9" r="3.6" fill="#4A58A0" fill-opacity="0.8" stroke="#2b2b2b" stroke-opacity="0.7" stroke-width="0.55"/>
<circle cx="201.5" cy="398.9" r="3.6" fill="#4A58A0" fill-opacity="0.8" stroke="#2b2b2b" stroke-opacity="0.7" stroke-width="0.55"/>
<circle cx="201.5" cy="399.0" r="3.6" fill="#3E4C90" fill-opacity="0.8" stroke="#2b2b2b" stroke-opacity="0.7" stroke-width="0.55"/>
<circle cx="201.5" cy="399.5" r="3.6" fill="#46549A" fill-opacity="0.8" stroke="#2b2b2b" stroke-opacity="0.7" stroke-width="0.55"/>
<circle cx="201.5" cy="400.5" r="3.6" fill="#38468A" fill-opacity="0.8" stroke="#2b2b2b" stroke-opacity="0.7" stroke-width="0.55"/>
<circle cx="201.5" cy="401.8" r="3.6" fill="#3E4C90" fill-opacity="0.8" stroke="#2b2b2b" stroke-opacity="0.7" stroke-width="0.55"/>
<circle cx="201.5" cy="402.7" r="3.6" fill="#3E4C90" fill-opacity="0.8" stroke="#2b2b2b" stroke-opacity="0.7" stroke-width="0.55"/>
<circle cx="201.5" cy="403.5" r="3.6" fill="#43519A" fill-opacity="0.8" stroke="#2b2b2b" stroke-opacity="0.7" stroke-width="0.55"/>
<circle cx="201.5" cy="404.4" r="3.6" fill="#43519A" fill-opacity="0.8" stroke="#2b2b2b" stroke-opacity="0.7" stroke-width="0.55"/>
<circle cx="201.5" cy="405.1" r="3.6" fill="#4A58A0" fill-opacity="0.8" stroke="#2b2b2b" stroke-opacity="0.7" stroke-width="0.55"/>
<circle cx="201.5" cy="406.3" r="3.6" fill="#43519A" fill-opacity="0.8" stroke="#2b2b2b" stroke-opacity="0.7" stroke-width="0.55"/>
<circle cx="201.5" cy="407.4" r="3.6" fill="#4A58A0" fill-opacity="0.8" stroke="#2b2b2b" stroke-opacity="0.7" stroke-width="0.55"/>
<circle cx="201.5" cy="409.8" r="3.6" fill="#43519A" fill-opacity="0.8" stroke="#2b2b2b" stroke-opacity="0.7" stroke-width="0.55"/>
<circle cx="201.5" cy="410.4" r="3.6" fill="#38468A" fill-opacity="0.8" stroke="#2b2b2b" stroke-opacity="0.7" stroke-width="0.55"/>
<circle cx="201.5" cy="410.8" r="3.6" fill="#3E4C90" fill-opacity="0.8" stroke="#2b2b2b" stroke-opacity="0.7" stroke-width="0.55"/>
<circle cx="201.5" cy="413.3" r="3.6" fill="#4A58A0" fill-opacity="0.8" stroke="#2b2b2b" stroke-opacity="0.7" stroke-width="0.55"/>
<circle cx="201.5" cy="414.0" r="3.6" fill="#38468A" fill-opacity="0.8" stroke="#2b2b2b" stroke-opacity="0.7" stroke-width="0.55"/>
<circle cx="201.5" cy="414.7" r="3.6" fill="#43519A" fill-opacity="0.8" stroke="#2b2b2b" stroke-opacity="0.7" stroke-width="0.55"/>
<circle cx="201.5" cy="415.7" r="3.6" fill="#43519A" fill-opacity="0.8" stroke="#2b2b2b" stroke-opacity="0.7" stroke-width="0.55"/>
<circle cx="201.5" cy="415.8" r="3.6" fill="#3E4C90" fill-opacity="0.8" stroke="#2b2b2b" stroke-opacity="0.7" stroke-width="0.55"/>
<circle cx="201.5" cy="417.3" r="3.6" fill="#46549A" fill-opacity="0.8" stroke="#2b2b2b" stroke-opacity="0.7" stroke-width="0.55"/>
<circle cx="201.5" cy="418.0" r="3.6" fill="#3E4C90" fill-opacity="0.8" stroke="#2b2b2b" stroke-opacity="0.7" stroke-width="0.55"/>
<circle cx="201.5" cy="418.3" r="3.6" fill="#4A58A0" fill-opacity="0.8" stroke="#2b2b2b" stroke-opacity="0.7" stroke-width="0.55"/>
<circle cx="201.5" cy="418.3" r="3.6" fill="#43519A" fill-opacity="0.8" stroke="#2b2b2b" stroke-opacity="0.7" stroke-width="0.55"/>
<circle cx="201.5" cy="418.7" r="3.6" fill="#43519A" fill-opacity="0.8" stroke="#2b2b2b" stroke-opacity="0.7" stroke-width="0.55"/>
<circle cx="201.5" cy="418.9" r="3.6" fill="#4A58A0" fill-opacity="0.8" stroke="#2b2b2b" stroke-opacity="0.7" stroke-width="0.55"/>
<circle cx="201.5" cy="419.2" r="3.6" fill="#46549A" fill-opacity="0.8" stroke="#2b2b2b" stroke-opacity="0.7" stroke-width="0.55"/>
<circle cx="201.5" cy="419.6" r="3.6" fill="#43519A" fill-opacity="0.8" stroke="#2b2b2b" stroke-opacity="0.7" stroke-width="0.55"/>
<circle cx="201.5" cy="419.6" r="3.6" fill="#3E4C90" fill-opacity="0.8" stroke="#2b2b2b" stroke-opacity="0.7" stroke-width="0.55"/>
<circle cx="201.5" cy="420.1" r="3.6" fill="#46549A" fill-opacity="0.8" stroke="#2b2b2b" stroke-opacity="0.7" stroke-width="0.55"/>
<circle cx="201.5" cy="420.1" r="3.6" fill="#3E4C90" fill-opacity="0.8" stroke="#2b2b2b" stroke-opacity="0.7" stroke-width="0.55"/>
<circle cx="201.5" cy="420.2" r="3.6" fill="#38468A" fill-opacity="0.8" stroke="#2b2b2b" stroke-opacity="0.7" stroke-width="0.55"/>
<circle cx="201.5" cy="420.6" r="3.6" fill="#4A58A0" fill-opacity="0.8" stroke="#2b2b2b" stroke-opacity="0.7" stroke-width="0.55"/>
<circle cx="201.5" cy="421.8" r="3.6" fill="#4A58A0" fill-opacity="0.8" stroke="#2b2b2b" stroke-opacity="0.7" stroke-width="0.55"/>
<circle cx="201.5" cy="422.2" r="3.6" fill="#3E4C90" fill-opacity="0.8" stroke="#2b2b2b" stroke-opacity="0.7" stroke-width="0.55"/>
<circle cx="201.5" cy="424.1" r="3.6" fill="#4A58A0" fill-opacity="0.8" stroke="#2b2b2b" stroke-opacity="0.7" stroke-width="0.55"/>
<circle cx="201.5" cy="424.7" r="3.6" fill="#38468A" fill-opacity="0.8" stroke="#2b2b2b" stroke-opacity="0.7" stroke-width="0.55"/>
<circle cx="201.5" cy="425.2" r="3.6" fill="#43519A" fill-opacity="0.8" stroke="#2b2b2b" stroke-opacity="0.7" stroke-width="0.55"/>
<circle cx="201.5" cy="425.5" r="3.6" fill="#43519A" fill-opacity="0.8" stroke="#2b2b2b" stroke-opacity="0.7" stroke-width="0.55"/>
<circle cx="201.5" cy="426.0" r="3.6" fill="#46549A" fill-opacity="0.8" stroke="#2b2b2b" stroke-opacity="0.7" stroke-width="0.55"/>
<circle cx="201.5" cy="426.6" r="3.6" fill="#38468A" fill-opacity="0.8" stroke="#2b2b2b" stroke-opacity="0.7" stroke-width="0.55"/>
<circle cx="201.5" cy="427.7" r="3.6" fill="#4A58A0" fill-opacity="0.8" stroke="#2b2b2b" stroke-opacity="0.7" stroke-width="0.55"/>
<circle cx="201.5" cy="427.9" r="3.6" fill="#3E4C90" fill-opacity="0.8" stroke="#2b2b2b" stroke-opacity="0.7" stroke-width="0.55"/>
<circle cx="201.5" cy="429.0" r="3.6" fill="#3E4C90" fill-opacity="0.8" stroke="#2b2b2b" stroke-opacity="0.7" stroke-width="0.55"/>
<circle cx="201.5" cy="430.0" r="3.6" fill="#46549A" fill-opacity="0.8" stroke="#2b2b2b" stroke-opacity="0.7" stroke-width="0.55"/>
<circle cx="201.5" cy="430.8" r="3.6" fill="#3E4C90" fill-opacity="0.8" stroke="#2b2b2b" stroke-opacity="0.7" stroke-width="0.55"/>
<circle cx="201.5" cy="431.1" r="3.6" fill="#3E4C90" fill-opacity="0.8" stroke="#2b2b2b" stroke-opacity="0.7" stroke-width="0.55"/>
<circle cx="201.5" cy="431.3" r="3.6" fill="#43519A" fill-opacity="0.8" stroke="#2b2b2b" stroke-opacity="0.7" stroke-width="0.55"/>
<circle cx="201.5" cy="432.5" r="3.6" fill="#43519A" fill-opacity="0.8" stroke="#2b2b2b" stroke-opacity="0.7" stroke-width="0.55"/>
<circle cx="201.5" cy="432.6" r="3.6" fill="#3E4C90" fill-opacity="0.8" stroke="#2b2b2b" stroke-opacity="0.7" stroke-width="0.55"/>
<circle cx="201.5" cy="432.9" r="3.6" fill="#3E4C90" fill-opacity="0.8" stroke="#2b2b2b" stroke-opacity="0.7" stroke-width="0.55"/>
<circle cx="201.5" cy="433.0" r="3.6" fill="#38468A" fill-opacity="0.8" stroke="#2b2b2b" stroke-opacity="0.7" stroke-width="0.55"/>
<circle cx="201.5" cy="434.4" r="3.6" fill="#46549A" fill-opacity="0.8" stroke="#2b2b2b" stroke-opacity="0.7" stroke-width="0.55"/>
<circle cx="201.5" cy="434.6" r="3.6" fill="#46549A" fill-opacity="0.8" stroke="#2b2b2b" stroke-opacity="0.7" stroke-width="0.55"/>
<circle cx="201.5" cy="436.0" r="3.6" fill="#3E4C90" fill-opacity="0.8" stroke="#2b2b2b" stroke-opacity="0.7" stroke-width="0.55"/>
<circle cx="220.5" cy="394.1" r="3.6" fill="#B8AAD6" fill-opacity="0.8" stroke="#2b2b2b" stroke-opacity="0.7" stroke-width="0.55"/>
<circle cx="220.5" cy="401.5" r="3.6" fill="#9A82C4" fill-opacity="0.8" stroke="#2b2b2b" stroke-opacity="0.7" stroke-width="0.55"/>
<circle cx="220.5" cy="404.2" r="3.6" fill="#8E74BC" fill-opacity="0.8" stroke="#2b2b2b" stroke-opacity="0.7" stroke-width="0.55"/>
<circle cx="220.5" cy="406.3" r="3.6" fill="#A08AC8" fill-opacity="0.8" stroke="#2b2b2b" stroke-opacity="0.7" stroke-width="0.55"/>
<circle cx="220.5" cy="408.4" r="3.6" fill="#9A82C4" fill-opacity="0.8" stroke="#2b2b2b" stroke-opacity="0.7" stroke-width="0.55"/>
<circle cx="220.5" cy="410.5" r="3.6" fill="#8E74BC" fill-opacity="0.8" stroke="#2b2b2b" stroke-opacity="0.7" stroke-width="0.55"/>
<circle cx="220.5" cy="412.6" r="3.6" fill="#8466B5" fill-opacity="0.8" stroke="#2b2b2b" stroke-opacity="0.7" stroke-width="0.55"/>
<circle cx="220.5" cy="414.6" r="3.6" fill="#8E74BC" fill-opacity="0.8" stroke="#2b2b2b" stroke-opacity="0.7" stroke-width="0.55"/>
<circle cx="220.5" cy="416.7" r="3.6" fill="#7A5CAE" fill-opacity="0.8" stroke="#2b2b2b" stroke-opacity="0.7" stroke-width="0.55"/>
<circle cx="220.5" cy="419.5" r="3.6" fill="#6E4EA6" fill-opacity="0.8" stroke="#2b2b2b" stroke-opacity="0.7" stroke-width="0.55"/>
<circle cx="220.5" cy="420.9" r="3.6" fill="#7A5CAE" fill-opacity="0.8" stroke="#2b2b2b" stroke-opacity="0.7" stroke-width="0.55"/>
<circle cx="220.5" cy="422.3" r="3.6" fill="#7A5CAE" fill-opacity="0.8" stroke="#2b2b2b" stroke-opacity="0.7" stroke-width="0.55"/>
<circle cx="220.5" cy="424.3" r="3.6" fill="#6A48A2" fill-opacity="0.8" stroke="#2b2b2b" stroke-opacity="0.7" stroke-width="0.55"/>
<circle cx="220.5" cy="426.4" r="3.6" fill="#6E4EA6" fill-opacity="0.8" stroke="#2b2b2b" stroke-opacity="0.7" stroke-width="0.55"/>
<circle cx="220.5" cy="427.8" r="3.6" fill="#5E3C96" fill-opacity="0.8" stroke="#2b2b2b" stroke-opacity="0.7" stroke-width="0.55"/>
<circle cx="220.5" cy="429.9" r="3.6" fill="#6A48A2" fill-opacity="0.8" stroke="#2b2b2b" stroke-opacity="0.7" stroke-width="0.55"/>
<circle cx="220.5" cy="432.4" r="3.6" fill="#5E3C96" fill-opacity="0.8" stroke="#2b2b2b" stroke-opacity="0.7" stroke-width="0.55"/>
</g>
<line x1="67.12" y1="388.70" x2="221.70" y2="424.00" stroke="#C1272D" stroke-width="3.0"/>
<rect x="49.3" y="294.4" width="190.20" height="152.80" fill="none" stroke="#231F20" stroke-width="1.3"/>
<line x1="46.10" y1="447.20" x2="49.30" y2="447.20" stroke="#231F20" stroke-width="1.1"/>
<text x="42.80" y="450.20" font-size="8.6" text-anchor="end" fill="#333" stroke="#333">0</text>
<line x1="47.70" y1="433.34" x2="49.30" y2="433.34" stroke="#231F20" stroke-width="1.1"/>
<line x1="46.10" y1="419.48" x2="49.30" y2="419.48" stroke="#231F20" stroke-width="1.1"/>
<text x="42.80" y="422.48" font-size="8.6" text-anchor="end" fill="#333" stroke="#333">0.2</text>
<line x1="47.70" y1="405.62" x2="49.30" y2="405.62" stroke="#231F20" stroke-width="1.1"/>
<line x1="46.10" y1="391.76" x2="49.30" y2="391.76" stroke="#231F20" stroke-width="1.1"/>
<text x="42.80" y="394.76" font-size="8.6" text-anchor="end" fill="#333" stroke="#333">0.4</text>
<line x1="47.70" y1="377.90" x2="49.30" y2="377.90" stroke="#231F20" stroke-width="1.1"/>
<line x1="46.10" y1="364.04" x2="49.30" y2="364.04" stroke="#231F20" stroke-width="1.1"/>
<text x="42.80" y="367.04" font-size="8.6" text-anchor="end" fill="#333" stroke="#333">0.6</text>
<line x1="47.70" y1="350.18" x2="49.30" y2="350.18" stroke="#231F20" stroke-width="1.1"/>
<line x1="46.10" y1="336.32" x2="49.30" y2="336.32" stroke="#231F20" stroke-width="1.1"/>
<text x="42.80" y="339.32" font-size="8.6" text-anchor="end" fill="#333" stroke="#333">0.8</text>
<line x1="47.70" y1="322.46" x2="49.30" y2="322.46" stroke="#231F20" stroke-width="1.1"/>
<line x1="46.10" y1="308.60" x2="49.30" y2="308.60" stroke="#231F20" stroke-width="1.1"/>
<text x="42.80" y="311.60" font-size="8.6" text-anchor="end" fill="#333" stroke="#333">1.0</text>
<line x1="49.30" y1="447.20" x2="49.30" y2="450.40" stroke="#231F20" stroke-width="1.1"/>
<text x="49.30" y="460.50" font-size="8.6" text-anchor="middle" fill="#333" stroke="#333">0</text>
<line x1="68.32" y1="447.20" x2="68.32" y2="448.80" stroke="#231F20" stroke-width="1.1"/>
<line x1="87.34" y1="447.20" x2="87.34" y2="450.40" stroke="#231F20" stroke-width="1.1"/>
<text x="87.34" y="460.50" font-size="8.6" text-anchor="middle" fill="#333" stroke="#333">2</text>
<line x1="106.36" y1="447.20" x2="106.36" y2="448.80" stroke="#231F20" stroke-width="1.1"/>
<line x1="125.38" y1="447.20" x2="125.38" y2="450.40" stroke="#231F20" stroke-width="1.1"/>
<text x="125.38" y="460.50" font-size="8.6" text-anchor="middle" fill="#333" stroke="#333">4</text>
<line x1="144.40" y1="447.20" x2="144.40" y2="448.80" stroke="#231F20" stroke-width="1.1"/>
<line x1="163.42" y1="447.20" x2="163.42" y2="450.40" stroke="#231F20" stroke-width="1.1"/>
<text x="163.42" y="460.50" font-size="8.6" text-anchor="middle" fill="#333" stroke="#333">6</text>
<line x1="182.44" y1="447.20" x2="182.44" y2="448.80" stroke="#231F20" stroke-width="1.1"/>
<line x1="201.46" y1="447.20" x2="201.46" y2="450.40" stroke="#231F20" stroke-width="1.1"/>
<text x="201.46" y="460.50" font-size="8.6" text-anchor="middle" fill="#333" stroke="#333">8</text>
<line x1="220.48" y1="447.20" x2="220.48" y2="448.80" stroke="#231F20" stroke-width="1.1"/>
<line x1="239.50" y1="447.20" x2="239.50" y2="450.40" stroke="#231F20" stroke-width="1.1"/>
<text x="239.50" y="460.50" font-size="8.6" text-anchor="middle" fill="#333" stroke="#333">10</text>
<text x="142.70" y="476.20" font-size="10.1" text-anchor="middle" fill="#231F20" stroke="#231F20">PCS severity</text>
<text x="171.0" y="313.1" font-size="10" fill="#231F20" stroke="#231F20">R<tspan font-size="6.6" dy="-3.7">2</tspan><tspan dy="3.7"> = 0.31***</tspan></text>
<text transform="translate(22.3,448.2) rotate(-90)" font-size="10" fill="#231F20" stroke="#231F20" textLength="149.3" lengthAdjust="spacingAndGlyphs">Modified Stochasticity Ratio, MST</text>
<polygon points="288.37,365.77 317.41,336.66 320.85,340.08 324.40,327.10 311.43,330.69 314.86,334.11 285.83,363.23" fill="#5B5C5F"/>
<polygon points="383.21,329.22 410.39,356.58 406.99,359.96 423.80,364.40 419.47,347.56 416.07,350.94 388.89,323.58" fill="#5B5C5F"/>
<line x1="317.70" y1="383.40" x2="390.00" y2="383.40" stroke="#5B5C5F" stroke-width="1.3"/>
<polygon points="389.00,379.90 395.60,383.40 389.00,386.90" fill="#5B5C5F"/>
<polygon points="508.60,361.70 540.00,330.50 535.00,325.20 551.40,325.20 551.40,340.90 546.60,336.80 514.90,367.60" fill="#5B5C5F"/>
<rect x="542.1" y="380.9" width="66" height="5.1" fill="#5B5C5F"/>
<polygon points="607.00,376.50 621.30,383.45 607.00,390.40" fill="#5B5C5F"/>
<line x1="613.00" y1="328.80" x2="643.60" y2="358.70" stroke="#4a4a4a" stroke-width="1.15" stroke-dasharray="2.6,1.5"/>
<polygon points="641.30,362.30 648.60,363.80 646.80,356.80" fill="#4a4a4a"/>
<rect x="251.85" y="368.85" width="60.60" height="28.60" rx="4" ry="4" fill="#fff" stroke="#4FAEDD" stroke-width="1.5"/>
<text x="282.15" y="381.40" font-size="9.2" text-anchor="middle" fill="#1DAAE4" stroke="#1DAAE4" font-weight="bold">BS bacterial</text>
<text x="282.15" y="392.00" font-size="9.2" text-anchor="middle" fill="#1DAAE4" stroke="#1DAAE4" font-weight="bold">community</text>
<rect x="324.85" y="295.05" width="59.80" height="28.40" rx="4" ry="4" fill="#fff" stroke="#5CC49A" stroke-width="1.5"/>
<text x="354.75" y="307.60" font-size="9.2" text-anchor="middle" fill="#1FA65F" stroke="#1FA65F" font-weight="bold">GS key</text>
<text x="354.75" y="318.20" font-size="9.2" text-anchor="middle" fill="#1FA65F" stroke="#1FA65F" font-weight="bold">consortium</text>
<rect x="399.05" y="369.05" width="60.10" height="28.50" rx="4" ry="4" fill="#fff" stroke="#DC5A6E" stroke-width="1.5"/>
<text x="429.10" y="381.60" font-size="9.2" text-anchor="middle" fill="#C4283D" stroke="#C4283D" font-weight="bold">PCS</text>
<text x="429.10" y="392.20" font-size="9.2" text-anchor="middle" fill="#C4283D" stroke="#C4283D" font-weight="bold">severity</text>
<rect x="477.05" y="369.05" width="59.80" height="28.50" rx="4" ry="4" fill="#fff" stroke="#DC5A6E" stroke-width="1.5"/>
<text x="506.95" y="381.60" font-size="9.2" text-anchor="middle" fill="#C4283D" stroke="#C4283D" font-weight="bold">PCS</text>
<text x="506.95" y="392.20" font-size="9.2" text-anchor="middle" fill="#C4283D" stroke="#C4283D" font-weight="bold">severity</text>
<rect x="550.15" y="295.05" width="59.60" height="28.40" rx="4" ry="4" fill="#fff" stroke="#5CC49A" stroke-width="1.5"/>
<text x="579.95" y="307.60" font-size="9.2" text-anchor="middle" fill="#1FA65F" stroke="#1FA65F" font-weight="bold">GS key</text>
<text x="579.95" y="318.20" font-size="9.2" text-anchor="middle" fill="#1FA65F" stroke="#1FA65F" font-weight="bold">consortium</text>
<rect x="623.85" y="368.85" width="60.80" height="28.60" rx="4" ry="4" fill="#fff" stroke="#4FAEDD" stroke-width="1.5"/>
<text x="654.25" y="381.40" font-size="9.2" text-anchor="middle" fill="#1DAAE4" stroke="#1DAAE4" font-weight="bold">BS bacterial</text>
<text x="654.25" y="392.00" font-size="9.2" text-anchor="middle" fill="#1DAAE4" stroke="#1DAAE4" font-weight="bold">community</text>
<text x="290.50" y="342.90" font-size="10" text-anchor="middle" fill="#231F20" stroke="#231F20">0.39**</text>
<text x="426.80" y="342.90" font-size="10" text-anchor="middle" fill="#231F20" stroke="#231F20">-0.85***</text>
<text x="356.10" y="398.40" font-size="10" text-anchor="middle" fill="#231F20" stroke="#231F20">-0.13*</text>
<text x="508.60" y="342.90" font-size="10" text-anchor="middle" fill="#231F20" stroke="#231F20">-0.90***</text>
<text x="578.10" y="398.40" font-size="10" text-anchor="middle" fill="#231F20" stroke="#231F20">-0.56*</text>
<text x="641.70" y="343.00" font-size="10" text-anchor="middle" fill="#231F20" stroke="#231F20">-0.11</text>
<text x="357.60" y="420.40" font-size="9.45" text-anchor="middle" fill="#231F20" stroke="#231F20">Prop. Mediated: 72.9% ***</text>
<text x="357.30" y="435.80" font-size="9.4" text-anchor="middle" fill="#231F20" stroke="#231F20">ACME: -0.34**</text>
<text x="357.40" y="451.50" font-size="9.4" text-anchor="middle" fill="#231F20" stroke="#231F20">ADE: -0.13*</text>
<text x="350.90" y="470.50" font-size="10.05" text-anchor="middle" fill="#231F20" stroke="#231F20" font-weight="bold">Partial mediation effect</text>
<text x="583.30" y="420.40" font-size="9.45" text-anchor="middle" fill="#231F20" stroke="#231F20">Prop. Mediated: 21.3%</text>
<text x="583.30" y="435.80" font-size="9.4" text-anchor="middle" fill="#231F20" stroke="#231F20">ACME: -0.09</text>
<text x="583.00" y="451.50" font-size="9.4" text-anchor="middle" fill="#231F20" stroke="#231F20">ADE: -0.56*</text>
<text x="581.70" y="470.50" font-size="10.05" text-anchor="middle" fill="#231F20" stroke="#231F20" font-weight="bold">Mediation effect does not hold</text>
</svg></body></html>
